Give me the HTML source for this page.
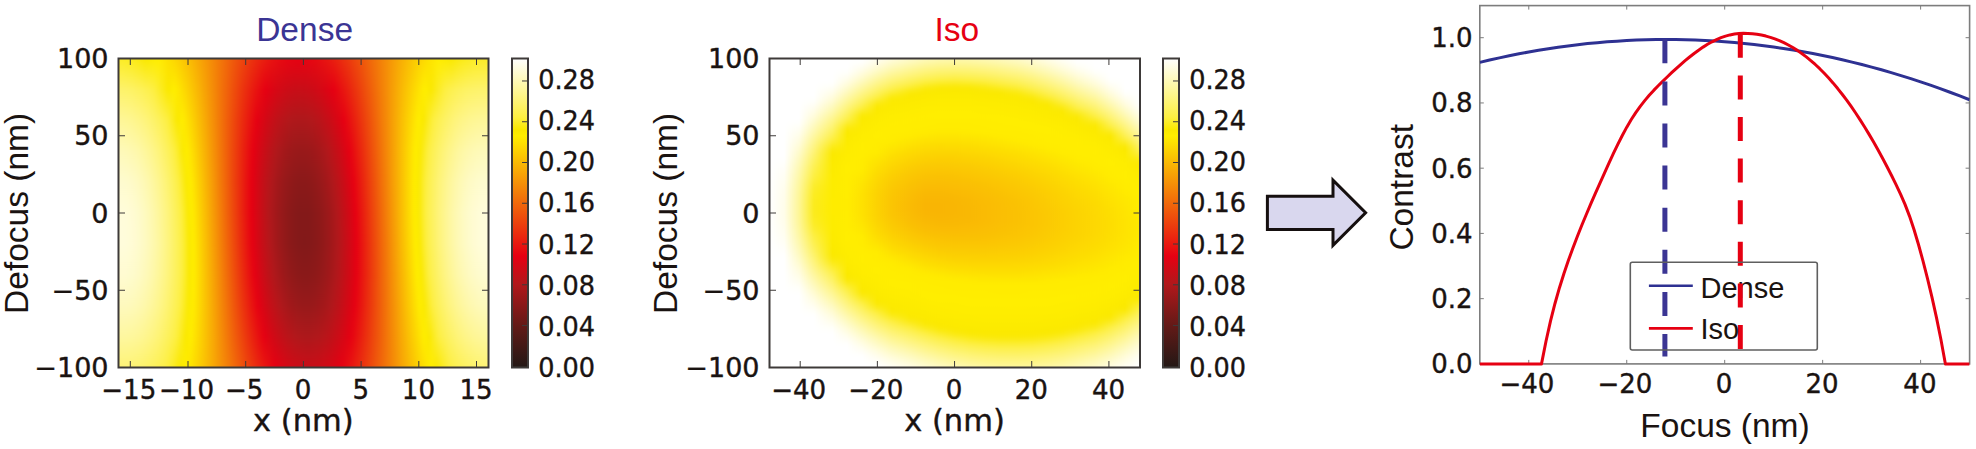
<!DOCTYPE html>
<html><head><meta charset="utf-8"><title>Dense / Iso aerial image through focus</title>
<style>
html,body{margin:0;padding:0;background:#fff}
svg{display:block}
.tk{font-family:"DejaVu Sans","Liberation Sans",sans-serif;font-size:27px;fill:#1a1311}
.tkx{font-family:"DejaVu Sans","Liberation Sans",sans-serif;font-size:26.1px;fill:#1a1311}
.tkc{font-family:"DejaVu Sans","Liberation Sans",sans-serif;font-size:27px;fill:#1a1311}
.tk2{font-family:"DejaVu Sans","Liberation Sans",sans-serif;font-size:26px;fill:#1a1311}
.xl{font-family:"DejaVu Sans","Liberation Sans",sans-serif;font-size:30.5px;fill:#1a1311}
.ar{font-family:"Liberation Sans",Arial,Helvetica,sans-serif;font-size:33.5px;fill:#1a1311}
.lg{font-family:"Liberation Sans",Arial,Helvetica,sans-serif;font-size:29px;fill:#1a1311}
.tk,.tkx,.tkc,.tk2,.xl{stroke:#1a1311;stroke-width:.4px;stroke-linejoin:round}
</style></head><body>
<svg width="1976" height="449" viewBox="0 0 1976 449">
<defs><filter id="bx" x="-5%" y="-5%" width="110%" height="110%" color-interpolation-filters="sRGB"><feGaussianBlur stdDeviation="1.5 0"/></filter>
<filter id="by" x="-5%" y="-5%" width="110%" height="110%" color-interpolation-filters="sRGB"><feGaussianBlur stdDeviation="0 2.5"/></filter>
<linearGradient id="d0" x1="0" y1="0" x2="0" y2="1"><stop offset="0" stop-color="#fcec28"/><stop offset="0.1" stop-color="#fdf26b"/><stop offset="0.2" stop-color="#fef698"/><stop offset="0.3" stop-color="#fef9b9"/><stop offset="0.4" stop-color="#fefbcf"/><stop offset="0.5" stop-color="#fffcda"/><stop offset="0.6" stop-color="#fffcda"/><stop offset="0.7" stop-color="#fefbcf"/><stop offset="0.8" stop-color="#fef9bb"/><stop offset="0.9" stop-color="#fef79c"/><stop offset="1" stop-color="#fef373"/></linearGradient>
<linearGradient id="d1" x1="0" y1="0" x2="0" y2="1"><stop offset="0" stop-color="#fcec28"/><stop offset="0.1" stop-color="#fdf26b"/><stop offset="0.2" stop-color="#fef698"/><stop offset="0.3" stop-color="#fef9b9"/><stop offset="0.4" stop-color="#fefbcf"/><stop offset="0.5" stop-color="#fffcda"/><stop offset="0.6" stop-color="#fffcdb"/><stop offset="0.7" stop-color="#fffbd0"/><stop offset="0.8" stop-color="#fef9bc"/><stop offset="0.9" stop-color="#fef79d"/><stop offset="1" stop-color="#fef374"/></linearGradient>
<linearGradient id="d2" x1="0" y1="0" x2="0" y2="1"><stop offset="0" stop-color="#fcec27"/><stop offset="0.1" stop-color="#fdf26b"/><stop offset="0.2" stop-color="#fef698"/><stop offset="0.3" stop-color="#fef9b9"/><stop offset="0.4" stop-color="#fefbcf"/><stop offset="0.5" stop-color="#fffcdb"/><stop offset="0.6" stop-color="#fffcdb"/><stop offset="0.7" stop-color="#fffbd1"/><stop offset="0.8" stop-color="#fef9bd"/><stop offset="0.9" stop-color="#fef79e"/><stop offset="1" stop-color="#fef375"/></linearGradient>
<linearGradient id="d3" x1="0" y1="0" x2="0" y2="1"><stop offset="0" stop-color="#fcec26"/><stop offset="0.1" stop-color="#fdf26b"/><stop offset="0.2" stop-color="#fef697"/><stop offset="0.3" stop-color="#fef9b9"/><stop offset="0.4" stop-color="#fefbcf"/><stop offset="0.5" stop-color="#fffcdb"/><stop offset="0.6" stop-color="#fffcdb"/><stop offset="0.7" stop-color="#fffbd1"/><stop offset="0.8" stop-color="#fef9bd"/><stop offset="0.9" stop-color="#fef79f"/><stop offset="1" stop-color="#fef376"/></linearGradient>
<linearGradient id="d4" x1="0" y1="0" x2="0" y2="1"><stop offset="0" stop-color="#fcec25"/><stop offset="0.1" stop-color="#fdf26a"/><stop offset="0.2" stop-color="#fef697"/><stop offset="0.3" stop-color="#fef9b8"/><stop offset="0.4" stop-color="#fefbcf"/><stop offset="0.5" stop-color="#fffcda"/><stop offset="0.6" stop-color="#fffcdb"/><stop offset="0.7" stop-color="#fffbd1"/><stop offset="0.8" stop-color="#fef9bd"/><stop offset="0.9" stop-color="#fef79f"/><stop offset="1" stop-color="#fef376"/></linearGradient>
<linearGradient id="d5" x1="0" y1="0" x2="0" y2="1"><stop offset="0" stop-color="#fcec24"/><stop offset="0.1" stop-color="#fdf269"/><stop offset="0.2" stop-color="#fef696"/><stop offset="0.3" stop-color="#fef9b8"/><stop offset="0.4" stop-color="#fefbce"/><stop offset="0.5" stop-color="#fffcda"/><stop offset="0.6" stop-color="#fffcdb"/><stop offset="0.7" stop-color="#fffbd1"/><stop offset="0.8" stop-color="#fef9bd"/><stop offset="0.9" stop-color="#fef79f"/><stop offset="1" stop-color="#fef376"/></linearGradient>
<linearGradient id="d6" x1="0" y1="0" x2="0" y2="1"><stop offset="0" stop-color="#fcec22"/><stop offset="0.1" stop-color="#fdf268"/><stop offset="0.2" stop-color="#fef695"/><stop offset="0.3" stop-color="#fef9b6"/><stop offset="0.4" stop-color="#fefbcd"/><stop offset="0.5" stop-color="#fffcd9"/><stop offset="0.6" stop-color="#fffcda"/><stop offset="0.7" stop-color="#fffbd1"/><stop offset="0.8" stop-color="#fef9bd"/><stop offset="0.9" stop-color="#fef79f"/><stop offset="1" stop-color="#fef376"/></linearGradient>
<linearGradient id="d7" x1="0" y1="0" x2="0" y2="1"><stop offset="0" stop-color="#fbeb20"/><stop offset="0.1" stop-color="#fdf267"/><stop offset="0.2" stop-color="#fef693"/><stop offset="0.3" stop-color="#fef9b5"/><stop offset="0.4" stop-color="#fefbcc"/><stop offset="0.5" stop-color="#fffcd8"/><stop offset="0.6" stop-color="#fffcd9"/><stop offset="0.7" stop-color="#fefbd0"/><stop offset="0.8" stop-color="#fef9bc"/><stop offset="0.9" stop-color="#fef79e"/><stop offset="1" stop-color="#fef376"/></linearGradient>
<linearGradient id="d8" x1="0" y1="0" x2="0" y2="1"><stop offset="0" stop-color="#fbeb1e"/><stop offset="0.1" stop-color="#fdf265"/><stop offset="0.2" stop-color="#fef692"/><stop offset="0.3" stop-color="#fef9b3"/><stop offset="0.4" stop-color="#fefbca"/><stop offset="0.5" stop-color="#fffcd6"/><stop offset="0.6" stop-color="#fffcd7"/><stop offset="0.7" stop-color="#fefbce"/><stop offset="0.8" stop-color="#fef9bb"/><stop offset="0.9" stop-color="#fef79d"/><stop offset="1" stop-color="#fef375"/></linearGradient>
<linearGradient id="d9" x1="0" y1="0" x2="0" y2="1"><stop offset="0" stop-color="#fbeb1b"/><stop offset="0.1" stop-color="#fdf264"/><stop offset="0.2" stop-color="#fef690"/><stop offset="0.3" stop-color="#fef8b1"/><stop offset="0.4" stop-color="#fefac8"/><stop offset="0.5" stop-color="#fffbd4"/><stop offset="0.6" stop-color="#fffcd6"/><stop offset="0.7" stop-color="#fefbcd"/><stop offset="0.8" stop-color="#fef9ba"/><stop offset="0.9" stop-color="#fef79c"/><stop offset="1" stop-color="#fef374"/></linearGradient>
<linearGradient id="d10" x1="0" y1="0" x2="0" y2="1"><stop offset="0" stop-color="#fbeb18"/><stop offset="0.1" stop-color="#fdf262"/><stop offset="0.2" stop-color="#fef58e"/><stop offset="0.3" stop-color="#fef8af"/><stop offset="0.4" stop-color="#fefac6"/><stop offset="0.5" stop-color="#fffbd2"/><stop offset="0.6" stop-color="#fffbd4"/><stop offset="0.7" stop-color="#fefbcb"/><stop offset="0.8" stop-color="#fef9b8"/><stop offset="0.9" stop-color="#fef79b"/><stop offset="1" stop-color="#fef373"/></linearGradient>
<linearGradient id="d11" x1="0" y1="0" x2="0" y2="1"><stop offset="0" stop-color="#fbea15"/><stop offset="0.1" stop-color="#fdf15f"/><stop offset="0.2" stop-color="#fef58b"/><stop offset="0.3" stop-color="#fef8ad"/><stop offset="0.4" stop-color="#fefac3"/><stop offset="0.5" stop-color="#fefbd0"/><stop offset="0.6" stop-color="#fffbd1"/><stop offset="0.7" stop-color="#fefac9"/><stop offset="0.8" stop-color="#fef9b6"/><stop offset="0.9" stop-color="#fef69a"/><stop offset="1" stop-color="#fef372"/></linearGradient>
<linearGradient id="d12" x1="0" y1="0" x2="0" y2="1"><stop offset="0" stop-color="#fbea11"/><stop offset="0.1" stop-color="#fdf15d"/><stop offset="0.2" stop-color="#fef588"/><stop offset="0.3" stop-color="#fef8aa"/><stop offset="0.4" stop-color="#fefac1"/><stop offset="0.5" stop-color="#fefbcd"/><stop offset="0.6" stop-color="#fefbcf"/><stop offset="0.7" stop-color="#fefac7"/><stop offset="0.8" stop-color="#fef9b4"/><stop offset="0.9" stop-color="#fef698"/><stop offset="1" stop-color="#fdf371"/></linearGradient>
<linearGradient id="d13" x1="0" y1="0" x2="0" y2="1"><stop offset="0" stop-color="#fbe90d"/><stop offset="0.1" stop-color="#fdf15a"/><stop offset="0.2" stop-color="#fef586"/><stop offset="0.3" stop-color="#fef8a7"/><stop offset="0.4" stop-color="#fef9bd"/><stop offset="0.5" stop-color="#fefaca"/><stop offset="0.6" stop-color="#fefbcc"/><stop offset="0.7" stop-color="#fefac4"/><stop offset="0.8" stop-color="#fef8b2"/><stop offset="0.9" stop-color="#fef696"/><stop offset="1" stop-color="#fdf36f"/></linearGradient>
<linearGradient id="d14" x1="0" y1="0" x2="0" y2="1"><stop offset="0" stop-color="#fae909"/><stop offset="0.1" stop-color="#fdf158"/><stop offset="0.2" stop-color="#fef482"/><stop offset="0.3" stop-color="#fef7a3"/><stop offset="0.4" stop-color="#fef9ba"/><stop offset="0.5" stop-color="#fefac6"/><stop offset="0.6" stop-color="#fefac8"/><stop offset="0.7" stop-color="#fefac1"/><stop offset="0.8" stop-color="#fef8af"/><stop offset="0.9" stop-color="#fef693"/><stop offset="1" stop-color="#fdf36d"/></linearGradient>
<linearGradient id="d15" x1="0" y1="0" x2="0" y2="1"><stop offset="0" stop-color="#fae804"/><stop offset="0.1" stop-color="#fdf155"/><stop offset="0.2" stop-color="#fef47f"/><stop offset="0.3" stop-color="#fef79f"/><stop offset="0.4" stop-color="#fef9b6"/><stop offset="0.5" stop-color="#fefac2"/><stop offset="0.6" stop-color="#fefac5"/><stop offset="0.7" stop-color="#fef9bd"/><stop offset="0.8" stop-color="#fef8ac"/><stop offset="0.9" stop-color="#fef691"/><stop offset="1" stop-color="#fdf26b"/></linearGradient>
<linearGradient id="d16" x1="0" y1="0" x2="0" y2="1"><stop offset="0" stop-color="#fae800"/><stop offset="0.1" stop-color="#fdf051"/><stop offset="0.2" stop-color="#fef47b"/><stop offset="0.3" stop-color="#fef79b"/><stop offset="0.4" stop-color="#fef8b2"/><stop offset="0.5" stop-color="#fefabe"/><stop offset="0.6" stop-color="#fefac1"/><stop offset="0.7" stop-color="#fef9ba"/><stop offset="0.8" stop-color="#fef8a9"/><stop offset="0.9" stop-color="#fef58e"/><stop offset="1" stop-color="#fdf269"/></linearGradient>
<linearGradient id="d17" x1="0" y1="0" x2="0" y2="1"><stop offset="0" stop-color="#fbe900"/><stop offset="0.1" stop-color="#fdf04e"/><stop offset="0.2" stop-color="#fef477"/><stop offset="0.3" stop-color="#fef697"/><stop offset="0.4" stop-color="#fef8ae"/><stop offset="0.5" stop-color="#fef9ba"/><stop offset="0.6" stop-color="#fef9bd"/><stop offset="0.7" stop-color="#fef9b6"/><stop offset="0.8" stop-color="#fef7a5"/><stop offset="0.9" stop-color="#fef58b"/><stop offset="1" stop-color="#fdf266"/></linearGradient>
<linearGradient id="d18" x1="0" y1="0" x2="0" y2="1"><stop offset="0" stop-color="#fbea00"/><stop offset="0.1" stop-color="#fdf04a"/><stop offset="0.2" stop-color="#fef373"/><stop offset="0.3" stop-color="#fef693"/><stop offset="0.4" stop-color="#fef8a9"/><stop offset="0.5" stop-color="#fef9b5"/><stop offset="0.6" stop-color="#fef9b8"/><stop offset="0.7" stop-color="#fef8b2"/><stop offset="0.8" stop-color="#fef7a1"/><stop offset="0.9" stop-color="#fef587"/><stop offset="1" stop-color="#fdf263"/></linearGradient>
<linearGradient id="d19" x1="0" y1="0" x2="0" y2="1"><stop offset="0" stop-color="#fceb00"/><stop offset="0.1" stop-color="#fdef46"/><stop offset="0.2" stop-color="#fdf36e"/><stop offset="0.3" stop-color="#fef58e"/><stop offset="0.4" stop-color="#fef7a4"/><stop offset="0.5" stop-color="#fef8b0"/><stop offset="0.6" stop-color="#fef9b3"/><stop offset="0.7" stop-color="#fef8ad"/><stop offset="0.8" stop-color="#fef79d"/><stop offset="0.9" stop-color="#fef584"/><stop offset="1" stop-color="#fdf260"/></linearGradient>
<linearGradient id="d20" x1="0" y1="0" x2="0" y2="1"><stop offset="0" stop-color="#fdec00"/><stop offset="0.1" stop-color="#fdef42"/><stop offset="0.2" stop-color="#fdf26a"/><stop offset="0.3" stop-color="#fef589"/><stop offset="0.4" stop-color="#fef79e"/><stop offset="0.5" stop-color="#fef8ab"/><stop offset="0.6" stop-color="#fef8ae"/><stop offset="0.7" stop-color="#fef8a8"/><stop offset="0.8" stop-color="#fef699"/><stop offset="0.9" stop-color="#fef480"/><stop offset="1" stop-color="#fdf15d"/></linearGradient>
<linearGradient id="d21" x1="0" y1="0" x2="0" y2="1"><stop offset="0" stop-color="#feed00"/><stop offset="0.1" stop-color="#fdee3a"/><stop offset="0.2" stop-color="#fdf265"/><stop offset="0.3" stop-color="#fef583"/><stop offset="0.4" stop-color="#fef699"/><stop offset="0.5" stop-color="#fef7a5"/><stop offset="0.6" stop-color="#fef8a9"/><stop offset="0.7" stop-color="#fef7a3"/><stop offset="0.8" stop-color="#fef694"/><stop offset="0.9" stop-color="#fef47c"/><stop offset="1" stop-color="#fdf15a"/></linearGradient>
<linearGradient id="d22" x1="0" y1="0" x2="0" y2="1"><stop offset="0" stop-color="#ffee00"/><stop offset="0.1" stop-color="#fced31"/><stop offset="0.2" stop-color="#fdf15f"/><stop offset="0.3" stop-color="#fef47e"/><stop offset="0.4" stop-color="#fef693"/><stop offset="0.5" stop-color="#fef79f"/><stop offset="0.6" stop-color="#fef7a3"/><stop offset="0.7" stop-color="#fef79d"/><stop offset="0.8" stop-color="#fef68f"/><stop offset="0.9" stop-color="#fef477"/><stop offset="1" stop-color="#fdf156"/></linearGradient>
<linearGradient id="d23" x1="0" y1="0" x2="0" y2="1"><stop offset="0" stop-color="#ffec00"/><stop offset="0.1" stop-color="#fcec28"/><stop offset="0.2" stop-color="#fdf15a"/><stop offset="0.3" stop-color="#fef478"/><stop offset="0.4" stop-color="#fef58d"/><stop offset="0.5" stop-color="#fef699"/><stop offset="0.6" stop-color="#fef79d"/><stop offset="0.7" stop-color="#fef698"/><stop offset="0.8" stop-color="#fef58a"/><stop offset="0.9" stop-color="#fef373"/><stop offset="1" stop-color="#fdf052"/></linearGradient>
<linearGradient id="d24" x1="0" y1="0" x2="0" y2="1"><stop offset="0" stop-color="#ffea00"/><stop offset="0.1" stop-color="#fbeb1f"/><stop offset="0.2" stop-color="#fdf154"/><stop offset="0.3" stop-color="#fef371"/><stop offset="0.4" stop-color="#fef586"/><stop offset="0.5" stop-color="#fef692"/><stop offset="0.6" stop-color="#fef696"/><stop offset="0.7" stop-color="#fef691"/><stop offset="0.8" stop-color="#fef584"/><stop offset="0.9" stop-color="#fdf36e"/><stop offset="1" stop-color="#fdf04e"/></linearGradient>
<linearGradient id="d25" x1="0" y1="0" x2="0" y2="1"><stop offset="0" stop-color="#fee701"/><stop offset="0.1" stop-color="#fbea16"/><stop offset="0.2" stop-color="#fdf04e"/><stop offset="0.3" stop-color="#fdf26b"/><stop offset="0.4" stop-color="#fef47f"/><stop offset="0.5" stop-color="#fef58b"/><stop offset="0.6" stop-color="#fef68f"/><stop offset="0.7" stop-color="#fef58b"/><stop offset="0.8" stop-color="#fef47e"/><stop offset="0.9" stop-color="#fdf268"/><stop offset="1" stop-color="#fdf04a"/></linearGradient>
<linearGradient id="d26" x1="0" y1="0" x2="0" y2="1"><stop offset="0" stop-color="#fee401"/><stop offset="0.1" stop-color="#fbe90c"/><stop offset="0.2" stop-color="#fdef48"/><stop offset="0.3" stop-color="#fdf264"/><stop offset="0.4" stop-color="#fef478"/><stop offset="0.5" stop-color="#fef584"/><stop offset="0.6" stop-color="#fef588"/><stop offset="0.7" stop-color="#fef584"/><stop offset="0.8" stop-color="#fef478"/><stop offset="0.9" stop-color="#fdf263"/><stop offset="1" stop-color="#fdef45"/></linearGradient>
<linearGradient id="d27" x1="0" y1="0" x2="0" y2="1"><stop offset="0" stop-color="#fee101"/><stop offset="0.1" stop-color="#fae801"/><stop offset="0.2" stop-color="#fdef41"/><stop offset="0.3" stop-color="#fdf15d"/><stop offset="0.4" stop-color="#fdf371"/><stop offset="0.5" stop-color="#fef47d"/><stop offset="0.6" stop-color="#fef481"/><stop offset="0.7" stop-color="#fef47d"/><stop offset="0.8" stop-color="#fef371"/><stop offset="0.9" stop-color="#fdf15d"/><stop offset="1" stop-color="#fdef3f"/></linearGradient>
<linearGradient id="d28" x1="0" y1="0" x2="0" y2="1"><stop offset="0" stop-color="#fdde01"/><stop offset="0.1" stop-color="#fbe900"/><stop offset="0.2" stop-color="#fcee34"/><stop offset="0.3" stop-color="#fdf155"/><stop offset="0.4" stop-color="#fdf269"/><stop offset="0.5" stop-color="#fef375"/><stop offset="0.6" stop-color="#fef479"/><stop offset="0.7" stop-color="#fef376"/><stop offset="0.8" stop-color="#fdf26b"/><stop offset="0.9" stop-color="#fdf157"/><stop offset="1" stop-color="#fcee35"/></linearGradient>
<linearGradient id="d29" x1="0" y1="0" x2="0" y2="1"><stop offset="0" stop-color="#fddb01"/><stop offset="0.1" stop-color="#fdeb00"/><stop offset="0.2" stop-color="#fcec28"/><stop offset="0.3" stop-color="#fdf04e"/><stop offset="0.4" stop-color="#fdf261"/><stop offset="0.5" stop-color="#fdf36d"/><stop offset="0.6" stop-color="#fdf371"/><stop offset="0.7" stop-color="#fdf36e"/><stop offset="0.8" stop-color="#fdf264"/><stop offset="0.9" stop-color="#fdf051"/><stop offset="1" stop-color="#fced2c"/></linearGradient>
<linearGradient id="d30" x1="0" y1="0" x2="0" y2="1"><stop offset="0" stop-color="#fdd802"/><stop offset="0.1" stop-color="#feed00"/><stop offset="0.2" stop-color="#fbeb1a"/><stop offset="0.3" stop-color="#fdef46"/><stop offset="0.4" stop-color="#fdf159"/><stop offset="0.5" stop-color="#fdf264"/><stop offset="0.6" stop-color="#fdf269"/><stop offset="0.7" stop-color="#fdf266"/><stop offset="0.8" stop-color="#fdf15c"/><stop offset="0.9" stop-color="#fdf04b"/><stop offset="1" stop-color="#fcec22"/></linearGradient>
<linearGradient id="d31" x1="0" y1="0" x2="0" y2="1"><stop offset="0" stop-color="#fcd502"/><stop offset="0.1" stop-color="#ffec00"/><stop offset="0.2" stop-color="#fbe90c"/><stop offset="0.3" stop-color="#fdee3a"/><stop offset="0.4" stop-color="#fdf050"/><stop offset="0.5" stop-color="#fdf15c"/><stop offset="0.6" stop-color="#fdf260"/><stop offset="0.7" stop-color="#fdf15e"/><stop offset="0.8" stop-color="#fdf155"/><stop offset="0.9" stop-color="#fdef44"/><stop offset="1" stop-color="#fbea17"/></linearGradient>
<linearGradient id="d32" x1="0" y1="0" x2="0" y2="1"><stop offset="0" stop-color="#fcd102"/><stop offset="0.1" stop-color="#fee800"/><stop offset="0.2" stop-color="#fae800"/><stop offset="0.3" stop-color="#fced2b"/><stop offset="0.4" stop-color="#fdef47"/><stop offset="0.5" stop-color="#fdf053"/><stop offset="0.6" stop-color="#fdf158"/><stop offset="0.7" stop-color="#fdf156"/><stop offset="0.8" stop-color="#fdf04d"/><stop offset="0.9" stop-color="#fdee38"/><stop offset="1" stop-color="#fbe90c"/></linearGradient>
<linearGradient id="d33" x1="0" y1="0" x2="0" y2="1"><stop offset="0" stop-color="#fcce02"/><stop offset="0.1" stop-color="#fee401"/><stop offset="0.2" stop-color="#fcea00"/><stop offset="0.3" stop-color="#fbeb1b"/><stop offset="0.4" stop-color="#fdee3b"/><stop offset="0.5" stop-color="#fdf049"/><stop offset="0.6" stop-color="#fdf04e"/><stop offset="0.7" stop-color="#fdf04d"/><stop offset="0.8" stop-color="#fdef45"/><stop offset="0.9" stop-color="#fced2b"/><stop offset="1" stop-color="#fae801"/></linearGradient>
<linearGradient id="d34" x1="0" y1="0" x2="0" y2="1"><stop offset="0" stop-color="#fbca03"/><stop offset="0.1" stop-color="#fddf01"/><stop offset="0.2" stop-color="#feed00"/><stop offset="0.3" stop-color="#fae90a"/><stop offset="0.4" stop-color="#fcec2a"/><stop offset="0.5" stop-color="#fdef3e"/><stop offset="0.6" stop-color="#fdef45"/><stop offset="0.7" stop-color="#fdef44"/><stop offset="0.8" stop-color="#fdee38"/><stop offset="0.9" stop-color="#fbeb1d"/><stop offset="1" stop-color="#fbea00"/></linearGradient>
<linearGradient id="d35" x1="0" y1="0" x2="0" y2="1"><stop offset="0" stop-color="#fbc703"/><stop offset="0.1" stop-color="#fdda01"/><stop offset="0.2" stop-color="#ffeb00"/><stop offset="0.3" stop-color="#fbe900"/><stop offset="0.4" stop-color="#fbeb18"/><stop offset="0.5" stop-color="#fced2c"/><stop offset="0.6" stop-color="#fcee36"/><stop offset="0.7" stop-color="#fcee35"/><stop offset="0.8" stop-color="#fcec28"/><stop offset="0.9" stop-color="#fbea0f"/><stop offset="1" stop-color="#fdeb00"/></linearGradient>
<linearGradient id="d36" x1="0" y1="0" x2="0" y2="1"><stop offset="0" stop-color="#fac303"/><stop offset="0.1" stop-color="#fcd602"/><stop offset="0.2" stop-color="#fee601"/><stop offset="0.3" stop-color="#fdec00"/><stop offset="0.4" stop-color="#fae906"/><stop offset="0.5" stop-color="#fbeb1a"/><stop offset="0.6" stop-color="#fcec23"/><stop offset="0.7" stop-color="#fcec23"/><stop offset="0.8" stop-color="#fbeb18"/><stop offset="0.9" stop-color="#fae801"/><stop offset="1" stop-color="#feed00"/></linearGradient>
<linearGradient id="d37" x1="0" y1="0" x2="0" y2="1"><stop offset="0" stop-color="#fabf04"/><stop offset="0.1" stop-color="#fcd102"/><stop offset="0.2" stop-color="#fee001"/><stop offset="0.3" stop-color="#ffed00"/><stop offset="0.4" stop-color="#fcea00"/><stop offset="0.5" stop-color="#fae907"/><stop offset="0.6" stop-color="#fbea10"/><stop offset="0.7" stop-color="#fbea11"/><stop offset="0.8" stop-color="#fae907"/><stop offset="0.9" stop-color="#fcea00"/><stop offset="1" stop-color="#ffeb00"/></linearGradient>
<linearGradient id="d38" x1="0" y1="0" x2="0" y2="1"><stop offset="0" stop-color="#fabb04"/><stop offset="0.1" stop-color="#fbcc03"/><stop offset="0.2" stop-color="#fddb01"/><stop offset="0.3" stop-color="#fee701"/><stop offset="0.4" stop-color="#feed00"/><stop offset="0.5" stop-color="#fcea00"/><stop offset="0.6" stop-color="#fae800"/><stop offset="0.7" stop-color="#fae800"/><stop offset="0.8" stop-color="#fbea00"/><stop offset="0.9" stop-color="#feed00"/><stop offset="1" stop-color="#fee701"/></linearGradient>
<linearGradient id="d39" x1="0" y1="0" x2="0" y2="1"><stop offset="0" stop-color="#f9b704"/><stop offset="0.1" stop-color="#fbc703"/><stop offset="0.2" stop-color="#fcd502"/><stop offset="0.3" stop-color="#fee001"/><stop offset="0.4" stop-color="#ffea00"/><stop offset="0.5" stop-color="#feed00"/><stop offset="0.6" stop-color="#fdeb00"/><stop offset="0.7" stop-color="#fdeb00"/><stop offset="0.8" stop-color="#feec00"/><stop offset="0.9" stop-color="#ffec00"/><stop offset="1" stop-color="#fee201"/></linearGradient>
<linearGradient id="d40" x1="0" y1="0" x2="0" y2="1"><stop offset="0" stop-color="#f9b304"/><stop offset="0.1" stop-color="#fac203"/><stop offset="0.2" stop-color="#fccf02"/><stop offset="0.3" stop-color="#fdda02"/><stop offset="0.4" stop-color="#fee301"/><stop offset="0.5" stop-color="#fee900"/><stop offset="0.6" stop-color="#ffed00"/><stop offset="0.7" stop-color="#ffee00"/><stop offset="0.8" stop-color="#ffec00"/><stop offset="0.9" stop-color="#fee601"/><stop offset="1" stop-color="#fddd01"/></linearGradient>
<linearGradient id="d41" x1="0" y1="0" x2="0" y2="1"><stop offset="0" stop-color="#f8af05"/><stop offset="0.1" stop-color="#fabc04"/><stop offset="0.2" stop-color="#fbc903"/><stop offset="0.3" stop-color="#fcd302"/><stop offset="0.4" stop-color="#fddc01"/><stop offset="0.5" stop-color="#fee201"/><stop offset="0.6" stop-color="#fee601"/><stop offset="0.7" stop-color="#fee701"/><stop offset="0.8" stop-color="#fee501"/><stop offset="0.9" stop-color="#fee001"/><stop offset="1" stop-color="#fdd802"/></linearGradient>
<linearGradient id="d42" x1="0" y1="0" x2="0" y2="1"><stop offset="0" stop-color="#f8aa05"/><stop offset="0.1" stop-color="#f9b704"/><stop offset="0.2" stop-color="#fac203"/><stop offset="0.3" stop-color="#fbcc03"/><stop offset="0.4" stop-color="#fcd402"/><stop offset="0.5" stop-color="#fdda01"/><stop offset="0.6" stop-color="#fdde01"/><stop offset="0.7" stop-color="#fee001"/><stop offset="0.8" stop-color="#fddf01"/><stop offset="0.9" stop-color="#fddb01"/><stop offset="1" stop-color="#fcd302"/></linearGradient>
<linearGradient id="d43" x1="0" y1="0" x2="0" y2="1"><stop offset="0" stop-color="#f7a605"/><stop offset="0.1" stop-color="#f9b205"/><stop offset="0.2" stop-color="#fabc04"/><stop offset="0.3" stop-color="#fbc503"/><stop offset="0.4" stop-color="#fccd02"/><stop offset="0.5" stop-color="#fcd302"/><stop offset="0.6" stop-color="#fdd702"/><stop offset="0.7" stop-color="#fdd902"/><stop offset="0.8" stop-color="#fdd802"/><stop offset="0.9" stop-color="#fcd502"/><stop offset="1" stop-color="#fcce02"/></linearGradient>
<linearGradient id="d44" x1="0" y1="0" x2="0" y2="1"><stop offset="0" stop-color="#f7a206"/><stop offset="0.1" stop-color="#f8ac05"/><stop offset="0.2" stop-color="#f9b604"/><stop offset="0.3" stop-color="#fabe04"/><stop offset="0.4" stop-color="#fbc603"/><stop offset="0.5" stop-color="#fbcb03"/><stop offset="0.6" stop-color="#fccf02"/><stop offset="0.7" stop-color="#fcd102"/><stop offset="0.8" stop-color="#fcd102"/><stop offset="0.9" stop-color="#fcce02"/><stop offset="1" stop-color="#fbc903"/></linearGradient>
<linearGradient id="d45" x1="0" y1="0" x2="0" y2="1"><stop offset="0" stop-color="#f79d06"/><stop offset="0.1" stop-color="#f7a605"/><stop offset="0.2" stop-color="#f8af05"/><stop offset="0.3" stop-color="#f9b704"/><stop offset="0.4" stop-color="#fabe04"/><stop offset="0.5" stop-color="#fbc303"/><stop offset="0.6" stop-color="#fbc703"/><stop offset="0.7" stop-color="#fbca03"/><stop offset="0.8" stop-color="#fbca03"/><stop offset="0.9" stop-color="#fbc803"/><stop offset="1" stop-color="#fbc403"/></linearGradient>
<linearGradient id="d46" x1="0" y1="0" x2="0" y2="1"><stop offset="0" stop-color="#f69906"/><stop offset="0.1" stop-color="#f7a106"/><stop offset="0.2" stop-color="#f8a905"/><stop offset="0.3" stop-color="#f8b005"/><stop offset="0.4" stop-color="#f9b604"/><stop offset="0.5" stop-color="#fabc04"/><stop offset="0.6" stop-color="#fac004"/><stop offset="0.7" stop-color="#fac203"/><stop offset="0.8" stop-color="#fac303"/><stop offset="0.9" stop-color="#fac203"/><stop offset="1" stop-color="#fabe04"/></linearGradient>
<linearGradient id="d47" x1="0" y1="0" x2="0" y2="1"><stop offset="0" stop-color="#f69507"/><stop offset="0.1" stop-color="#f69b06"/><stop offset="0.2" stop-color="#f7a206"/><stop offset="0.3" stop-color="#f8a905"/><stop offset="0.4" stop-color="#f8af05"/><stop offset="0.5" stop-color="#f9b404"/><stop offset="0.6" stop-color="#f9b804"/><stop offset="0.7" stop-color="#faba04"/><stop offset="0.8" stop-color="#fabc04"/><stop offset="0.9" stop-color="#fabb04"/><stop offset="1" stop-color="#f9b904"/></linearGradient>
<linearGradient id="d48" x1="0" y1="0" x2="0" y2="1"><stop offset="0" stop-color="#f59007"/><stop offset="0.1" stop-color="#f69507"/><stop offset="0.2" stop-color="#f69b06"/><stop offset="0.3" stop-color="#f7a106"/><stop offset="0.4" stop-color="#f8a705"/><stop offset="0.5" stop-color="#f8ac05"/><stop offset="0.6" stop-color="#f8b005"/><stop offset="0.7" stop-color="#f9b304"/><stop offset="0.8" stop-color="#f9b504"/><stop offset="0.9" stop-color="#f9b504"/><stop offset="1" stop-color="#f9b304"/></linearGradient>
<linearGradient id="d49" x1="0" y1="0" x2="0" y2="1"><stop offset="0" stop-color="#f58b07"/><stop offset="0.1" stop-color="#f59007"/><stop offset="0.2" stop-color="#f69407"/><stop offset="0.3" stop-color="#f69a06"/><stop offset="0.4" stop-color="#f79f06"/><stop offset="0.5" stop-color="#f7a306"/><stop offset="0.6" stop-color="#f8a705"/><stop offset="0.7" stop-color="#f8ab05"/><stop offset="0.8" stop-color="#f8ad05"/><stop offset="0.9" stop-color="#f8ae05"/><stop offset="1" stop-color="#f8ae05"/></linearGradient>
<linearGradient id="d50" x1="0" y1="0" x2="0" y2="1"><stop offset="0" stop-color="#f48708"/><stop offset="0.1" stop-color="#f48a08"/><stop offset="0.2" stop-color="#f58e07"/><stop offset="0.3" stop-color="#f59207"/><stop offset="0.4" stop-color="#f69707"/><stop offset="0.5" stop-color="#f69b06"/><stop offset="0.6" stop-color="#f79f06"/><stop offset="0.7" stop-color="#f7a306"/><stop offset="0.8" stop-color="#f7a605"/><stop offset="0.9" stop-color="#f8a805"/><stop offset="1" stop-color="#f8a805"/></linearGradient>
<linearGradient id="d51" x1="0" y1="0" x2="0" y2="1"><stop offset="0" stop-color="#f48208"/><stop offset="0.1" stop-color="#f48408"/><stop offset="0.2" stop-color="#f48708"/><stop offset="0.3" stop-color="#f58b08"/><stop offset="0.4" stop-color="#f58f07"/><stop offset="0.5" stop-color="#f59307"/><stop offset="0.6" stop-color="#f69707"/><stop offset="0.7" stop-color="#f69b06"/><stop offset="0.8" stop-color="#f79e06"/><stop offset="0.9" stop-color="#f7a106"/><stop offset="1" stop-color="#f7a206"/></linearGradient>
<linearGradient id="d52" x1="0" y1="0" x2="0" y2="1"><stop offset="0" stop-color="#f37e08"/><stop offset="0.1" stop-color="#f37e08"/><stop offset="0.2" stop-color="#f38008"/><stop offset="0.3" stop-color="#f48308"/><stop offset="0.4" stop-color="#f48708"/><stop offset="0.5" stop-color="#f58b08"/><stop offset="0.6" stop-color="#f58f07"/><stop offset="0.7" stop-color="#f59307"/><stop offset="0.8" stop-color="#f69707"/><stop offset="0.9" stop-color="#f69a06"/><stop offset="1" stop-color="#f69c06"/></linearGradient>
<linearGradient id="d53" x1="0" y1="0" x2="0" y2="1"><stop offset="0" stop-color="#f37909"/><stop offset="0.1" stop-color="#f37809"/><stop offset="0.2" stop-color="#f37909"/><stop offset="0.3" stop-color="#f37b09"/><stop offset="0.4" stop-color="#f37e08"/><stop offset="0.5" stop-color="#f48208"/><stop offset="0.6" stop-color="#f48608"/><stop offset="0.7" stop-color="#f58b08"/><stop offset="0.8" stop-color="#f58f07"/><stop offset="0.9" stop-color="#f59307"/><stop offset="1" stop-color="#f69607"/></linearGradient>
<linearGradient id="d54" x1="0" y1="0" x2="0" y2="1"><stop offset="0" stop-color="#f27409"/><stop offset="0.1" stop-color="#f27209"/><stop offset="0.2" stop-color="#f27209"/><stop offset="0.3" stop-color="#f27409"/><stop offset="0.4" stop-color="#f27609"/><stop offset="0.5" stop-color="#f37a09"/><stop offset="0.6" stop-color="#f37e08"/><stop offset="0.7" stop-color="#f48308"/><stop offset="0.8" stop-color="#f48708"/><stop offset="0.9" stop-color="#f58c07"/><stop offset="1" stop-color="#f59007"/></linearGradient>
<linearGradient id="d55" x1="0" y1="0" x2="0" y2="1"><stop offset="0" stop-color="#f2700a"/><stop offset="0.1" stop-color="#f16c0a"/><stop offset="0.2" stop-color="#f16b0a"/><stop offset="0.3" stop-color="#f16c0a"/><stop offset="0.4" stop-color="#f26e0a"/><stop offset="0.5" stop-color="#f27109"/><stop offset="0.6" stop-color="#f27509"/><stop offset="0.7" stop-color="#f37a09"/><stop offset="0.8" stop-color="#f38008"/><stop offset="0.9" stop-color="#f48508"/><stop offset="1" stop-color="#f58a08"/></linearGradient>
<linearGradient id="d56" x1="0" y1="0" x2="0" y2="1"><stop offset="0" stop-color="#f16b0a"/><stop offset="0.1" stop-color="#f1670a"/><stop offset="0.2" stop-color="#f1640a"/><stop offset="0.3" stop-color="#f1640a"/><stop offset="0.4" stop-color="#f1660a"/><stop offset="0.5" stop-color="#f1690a"/><stop offset="0.6" stop-color="#f16d0a"/><stop offset="0.7" stop-color="#f27209"/><stop offset="0.8" stop-color="#f37809"/><stop offset="0.9" stop-color="#f37e08"/><stop offset="1" stop-color="#f48508"/></linearGradient>
<linearGradient id="d57" x1="0" y1="0" x2="0" y2="1"><stop offset="0" stop-color="#f1670a"/><stop offset="0.1" stop-color="#f0610b"/><stop offset="0.2" stop-color="#f05d0b"/><stop offset="0.3" stop-color="#f05d0b"/><stop offset="0.4" stop-color="#f05e0b"/><stop offset="0.5" stop-color="#f0600b"/><stop offset="0.6" stop-color="#f1640a"/><stop offset="0.7" stop-color="#f16a0a"/><stop offset="0.8" stop-color="#f2700a"/><stop offset="0.9" stop-color="#f37709"/><stop offset="1" stop-color="#f37f08"/></linearGradient>
<linearGradient id="d58" x1="0" y1="0" x2="0" y2="1"><stop offset="0" stop-color="#f0620b"/><stop offset="0.1" stop-color="#f05b0b"/><stop offset="0.2" stop-color="#ef570b"/><stop offset="0.3" stop-color="#ef550c"/><stop offset="0.4" stop-color="#ef560c"/><stop offset="0.5" stop-color="#ef580b"/><stop offset="0.6" stop-color="#f05c0b"/><stop offset="0.7" stop-color="#f0620b"/><stop offset="0.8" stop-color="#f1690a"/><stop offset="0.9" stop-color="#f2700a"/><stop offset="1" stop-color="#f37909"/></linearGradient>
<linearGradient id="d59" x1="0" y1="0" x2="0" y2="1"><stop offset="0" stop-color="#f05d0b"/><stop offset="0.1" stop-color="#ef550c"/><stop offset="0.2" stop-color="#ee500c"/><stop offset="0.3" stop-color="#ee4d0c"/><stop offset="0.4" stop-color="#ee4d0c"/><stop offset="0.5" stop-color="#ee500c"/><stop offset="0.6" stop-color="#ef540c"/><stop offset="0.7" stop-color="#ef5a0b"/><stop offset="0.8" stop-color="#f0610b"/><stop offset="0.9" stop-color="#f1690a"/><stop offset="1" stop-color="#f27309"/></linearGradient>
<linearGradient id="d60" x1="0" y1="0" x2="0" y2="1"><stop offset="0" stop-color="#ef590b"/><stop offset="0.1" stop-color="#ee4f0c"/><stop offset="0.2" stop-color="#ee490c"/><stop offset="0.3" stop-color="#ed460d"/><stop offset="0.4" stop-color="#ed450d"/><stop offset="0.5" stop-color="#ed470d"/><stop offset="0.6" stop-color="#ee4b0c"/><stop offset="0.7" stop-color="#ef510c"/><stop offset="0.8" stop-color="#ef590b"/><stop offset="0.9" stop-color="#f0620b"/><stop offset="1" stop-color="#f16d0a"/></linearGradient>
<linearGradient id="d61" x1="0" y1="0" x2="0" y2="1"><stop offset="0" stop-color="#ef540c"/><stop offset="0.1" stop-color="#ee4a0c"/><stop offset="0.2" stop-color="#ed420d"/><stop offset="0.3" stop-color="#ed3e0d"/><stop offset="0.4" stop-color="#ec3d0d"/><stop offset="0.5" stop-color="#ed3f0d"/><stop offset="0.6" stop-color="#ed430d"/><stop offset="0.7" stop-color="#ee490c"/><stop offset="0.8" stop-color="#ef510c"/><stop offset="0.9" stop-color="#f05b0b"/><stop offset="1" stop-color="#f1670a"/></linearGradient>
<linearGradient id="d62" x1="0" y1="0" x2="0" y2="1"><stop offset="0" stop-color="#ee500c"/><stop offset="0.1" stop-color="#ed440d"/><stop offset="0.2" stop-color="#ec3c0d"/><stop offset="0.3" stop-color="#ec370e"/><stop offset="0.4" stop-color="#ec350e"/><stop offset="0.5" stop-color="#ec370e"/><stop offset="0.6" stop-color="#ec3b0e"/><stop offset="0.7" stop-color="#ed410d"/><stop offset="0.8" stop-color="#ee4a0c"/><stop offset="0.9" stop-color="#ef540c"/><stop offset="1" stop-color="#f0610b"/></linearGradient>
<linearGradient id="d63" x1="0" y1="0" x2="0" y2="1"><stop offset="0" stop-color="#ee4c0c"/><stop offset="0.1" stop-color="#ed3e0d"/><stop offset="0.2" stop-color="#ec350e"/><stop offset="0.3" stop-color="#eb300e"/><stop offset="0.4" stop-color="#eb2d0f"/><stop offset="0.5" stop-color="#eb2e0e"/><stop offset="0.6" stop-color="#eb320e"/><stop offset="0.7" stop-color="#ec390e"/><stop offset="0.8" stop-color="#ed420d"/><stop offset="0.9" stop-color="#ee4e0c"/><stop offset="1" stop-color="#f05b0b"/></linearGradient>
<linearGradient id="d64" x1="0" y1="0" x2="0" y2="1"><stop offset="0" stop-color="#ee470d"/><stop offset="0.1" stop-color="#ec390e"/><stop offset="0.2" stop-color="#eb2f0e"/><stop offset="0.3" stop-color="#ea280f"/><stop offset="0.4" stop-color="#ea260f"/><stop offset="0.5" stop-color="#ea260f"/><stop offset="0.6" stop-color="#ea2a0f"/><stop offset="0.7" stop-color="#eb310e"/><stop offset="0.8" stop-color="#ec3b0e"/><stop offset="0.9" stop-color="#ed470d"/><stop offset="1" stop-color="#ef550c"/></linearGradient>
<linearGradient id="d65" x1="0" y1="0" x2="0" y2="1"><stop offset="0" stop-color="#ed430d"/><stop offset="0.1" stop-color="#eb330e"/><stop offset="0.2" stop-color="#ea280f"/><stop offset="0.3" stop-color="#e9210f"/><stop offset="0.4" stop-color="#e91e10"/><stop offset="0.5" stop-color="#e91e10"/><stop offset="0.6" stop-color="#ea220f"/><stop offset="0.7" stop-color="#ea290f"/><stop offset="0.8" stop-color="#eb330e"/><stop offset="0.9" stop-color="#ed400d"/><stop offset="1" stop-color="#ee4f0c"/></linearGradient>
<linearGradient id="d66" x1="0" y1="0" x2="0" y2="1"><stop offset="0" stop-color="#ed3f0d"/><stop offset="0.1" stop-color="#eb2e0f"/><stop offset="0.2" stop-color="#ea220f"/><stop offset="0.3" stop-color="#e91a10"/><stop offset="0.4" stop-color="#e81610"/><stop offset="0.5" stop-color="#e81610"/><stop offset="0.6" stop-color="#e91a10"/><stop offset="0.7" stop-color="#ea210f"/><stop offset="0.8" stop-color="#eb2c0f"/><stop offset="0.9" stop-color="#ec390e"/><stop offset="1" stop-color="#ee490c"/></linearGradient>
<linearGradient id="d67" x1="0" y1="0" x2="0" y2="1"><stop offset="0" stop-color="#ec3b0e"/><stop offset="0.1" stop-color="#ea290f"/><stop offset="0.2" stop-color="#e91c10"/><stop offset="0.3" stop-color="#e81311"/><stop offset="0.4" stop-color="#e80f11"/><stop offset="0.5" stop-color="#e80f11"/><stop offset="0.6" stop-color="#e81211"/><stop offset="0.7" stop-color="#e91a10"/><stop offset="0.8" stop-color="#ea250f"/><stop offset="0.9" stop-color="#eb330e"/><stop offset="1" stop-color="#ed430d"/></linearGradient>
<linearGradient id="d68" x1="0" y1="0" x2="0" y2="1"><stop offset="0" stop-color="#ec370e"/><stop offset="0.1" stop-color="#ea240f"/><stop offset="0.2" stop-color="#e81610"/><stop offset="0.3" stop-color="#e70c11"/><stop offset="0.4" stop-color="#e70811"/><stop offset="0.5" stop-color="#e70711"/><stop offset="0.6" stop-color="#e70b11"/><stop offset="0.7" stop-color="#e81211"/><stop offset="0.8" stop-color="#e91e10"/><stop offset="0.9" stop-color="#eb2c0f"/><stop offset="1" stop-color="#ec3e0d"/></linearGradient>
<linearGradient id="d69" x1="0" y1="0" x2="0" y2="1"><stop offset="0" stop-color="#eb330e"/><stop offset="0.1" stop-color="#e91f10"/><stop offset="0.2" stop-color="#e81011"/><stop offset="0.3" stop-color="#e70612"/><stop offset="0.4" stop-color="#e60012"/><stop offset="0.5" stop-color="#e60012"/><stop offset="0.6" stop-color="#e60312"/><stop offset="0.7" stop-color="#e70b11"/><stop offset="0.8" stop-color="#e81610"/><stop offset="0.9" stop-color="#ea260f"/><stop offset="1" stop-color="#ec380e"/></linearGradient>
<linearGradient id="d70" x1="0" y1="0" x2="0" y2="1"><stop offset="0" stop-color="#eb2f0e"/><stop offset="0.1" stop-color="#e91a10"/><stop offset="0.2" stop-color="#e70a11"/><stop offset="0.3" stop-color="#e50012"/><stop offset="0.4" stop-color="#e00313"/><stop offset="0.5" stop-color="#df0313"/><stop offset="0.6" stop-color="#e20213"/><stop offset="0.7" stop-color="#e60412"/><stop offset="0.8" stop-color="#e81011"/><stop offset="0.9" stop-color="#e91f10"/><stop offset="1" stop-color="#eb330e"/></linearGradient>
<linearGradient id="d71" x1="0" y1="0" x2="0" y2="1"><stop offset="0" stop-color="#eb2c0f"/><stop offset="0.1" stop-color="#e81510"/><stop offset="0.2" stop-color="#e60412"/><stop offset="0.3" stop-color="#e00313"/><stop offset="0.4" stop-color="#da0514"/><stop offset="0.5" stop-color="#d90614"/><stop offset="0.6" stop-color="#dc0514"/><stop offset="0.7" stop-color="#e30113"/><stop offset="0.8" stop-color="#e70911"/><stop offset="0.9" stop-color="#e91910"/><stop offset="1" stop-color="#eb2d0f"/></linearGradient>
<linearGradient id="d72" x1="0" y1="0" x2="0" y2="1"><stop offset="0" stop-color="#ea280f"/><stop offset="0.1" stop-color="#e81111"/><stop offset="0.2" stop-color="#e50012"/><stop offset="0.3" stop-color="#da0514"/><stop offset="0.4" stop-color="#d40815"/><stop offset="0.5" stop-color="#d30915"/><stop offset="0.6" stop-color="#d50815"/><stop offset="0.7" stop-color="#dd0414"/><stop offset="0.8" stop-color="#e60212"/><stop offset="0.9" stop-color="#e81311"/><stop offset="1" stop-color="#ea280f"/></linearGradient>
<linearGradient id="d73" x1="0" y1="0" x2="0" y2="1"><stop offset="0" stop-color="#ea250f"/><stop offset="0.1" stop-color="#e70c11"/><stop offset="0.2" stop-color="#e00313"/><stop offset="0.3" stop-color="#d50815"/><stop offset="0.4" stop-color="#ce0b16"/><stop offset="0.5" stop-color="#cd0c16"/><stop offset="0.6" stop-color="#cf0a16"/><stop offset="0.7" stop-color="#d70715"/><stop offset="0.8" stop-color="#e20213"/><stop offset="0.9" stop-color="#e70d11"/><stop offset="1" stop-color="#ea230f"/></linearGradient>
<linearGradient id="d74" x1="0" y1="0" x2="0" y2="1"><stop offset="0" stop-color="#ea220f"/><stop offset="0.1" stop-color="#e70811"/><stop offset="0.2" stop-color="#dc0514"/><stop offset="0.3" stop-color="#d00a16"/><stop offset="0.4" stop-color="#c90d17"/><stop offset="0.5" stop-color="#c70e17"/><stop offset="0.6" stop-color="#c90d17"/><stop offset="0.7" stop-color="#d10a16"/><stop offset="0.8" stop-color="#dd0414"/><stop offset="0.9" stop-color="#e70811"/><stop offset="1" stop-color="#e91e10"/></linearGradient>
<linearGradient id="d75" x1="0" y1="0" x2="0" y2="1"><stop offset="0" stop-color="#e91f10"/><stop offset="0.1" stop-color="#e60412"/><stop offset="0.2" stop-color="#d80714"/><stop offset="0.3" stop-color="#cb0c17"/><stop offset="0.4" stop-color="#c31018"/><stop offset="0.5" stop-color="#c11118"/><stop offset="0.6" stop-color="#c41018"/><stop offset="0.7" stop-color="#cb0c17"/><stop offset="0.8" stop-color="#d70715"/><stop offset="0.9" stop-color="#e60212"/><stop offset="1" stop-color="#e91910"/></linearGradient>
<linearGradient id="d76" x1="0" y1="0" x2="0" y2="1"><stop offset="0" stop-color="#e91c10"/><stop offset="0.1" stop-color="#e60012"/><stop offset="0.2" stop-color="#d30815"/><stop offset="0.3" stop-color="#c60e17"/><stop offset="0.4" stop-color="#be1219"/><stop offset="0.5" stop-color="#bc1319"/><stop offset="0.6" stop-color="#be1219"/><stop offset="0.7" stop-color="#c60f18"/><stop offset="0.8" stop-color="#d20915"/><stop offset="0.9" stop-color="#e30113"/><stop offset="1" stop-color="#e81410"/></linearGradient>
<linearGradient id="d77" x1="0" y1="0" x2="0" y2="1"><stop offset="0" stop-color="#e91910"/><stop offset="0.1" stop-color="#e30113"/><stop offset="0.2" stop-color="#cf0a16"/><stop offset="0.3" stop-color="#c21018"/><stop offset="0.4" stop-color="#b9141a"/><stop offset="0.5" stop-color="#b6161a"/><stop offset="0.6" stop-color="#b9151a"/><stop offset="0.7" stop-color="#c01118"/><stop offset="0.8" stop-color="#cd0b16"/><stop offset="0.9" stop-color="#de0413"/><stop offset="1" stop-color="#e81011"/></linearGradient>
<linearGradient id="d78" x1="0" y1="0" x2="0" y2="1"><stop offset="0" stop-color="#e81610"/><stop offset="0.1" stop-color="#e00313"/><stop offset="0.2" stop-color="#cc0c16"/><stop offset="0.3" stop-color="#bd1219"/><stop offset="0.4" stop-color="#b5161a"/><stop offset="0.5" stop-color="#b1181b"/><stop offset="0.6" stop-color="#b4171b"/><stop offset="0.7" stop-color="#bb1319"/><stop offset="0.8" stop-color="#c80e17"/><stop offset="0.9" stop-color="#da0614"/><stop offset="1" stop-color="#e70b11"/></linearGradient>
<linearGradient id="d79" x1="0" y1="0" x2="0" y2="1"><stop offset="0" stop-color="#e81311"/><stop offset="0.1" stop-color="#dd0414"/><stop offset="0.2" stop-color="#c80e17"/><stop offset="0.3" stop-color="#b9141a"/><stop offset="0.4" stop-color="#b0181b"/><stop offset="0.5" stop-color="#ac181b"/><stop offset="0.6" stop-color="#af181b"/><stop offset="0.7" stop-color="#b6161a"/><stop offset="0.8" stop-color="#c31018"/><stop offset="0.9" stop-color="#d50815"/><stop offset="1" stop-color="#e70711"/></linearGradient>
<linearGradient id="d80" x1="0" y1="0" x2="0" y2="1"><stop offset="0" stop-color="#e81111"/><stop offset="0.1" stop-color="#da0614"/><stop offset="0.2" stop-color="#c50f18"/><stop offset="0.3" stop-color="#b5161a"/><stop offset="0.4" stop-color="#ac181b"/><stop offset="0.5" stop-color="#a8181b"/><stop offset="0.6" stop-color="#aa181b"/><stop offset="0.7" stop-color="#b2181b"/><stop offset="0.8" stop-color="#bf1219"/><stop offset="0.9" stop-color="#d10916"/><stop offset="1" stop-color="#e60312"/></linearGradient>
<linearGradient id="d81" x1="0" y1="0" x2="0" y2="1"><stop offset="0" stop-color="#e80f11"/><stop offset="0.1" stop-color="#d70715"/><stop offset="0.2" stop-color="#c11118"/><stop offset="0.3" stop-color="#b2181b"/><stop offset="0.4" stop-color="#a7181b"/><stop offset="0.5" stop-color="#a3181a"/><stop offset="0.6" stop-color="#a5181a"/><stop offset="0.7" stop-color="#ad181b"/><stop offset="0.8" stop-color="#bb1419"/><stop offset="0.9" stop-color="#cd0b16"/><stop offset="1" stop-color="#e50012"/></linearGradient>
<linearGradient id="d82" x1="0" y1="0" x2="0" y2="1"><stop offset="0" stop-color="#e70d11"/><stop offset="0.1" stop-color="#d50815"/><stop offset="0.2" stop-color="#be1219"/><stop offset="0.3" stop-color="#ae181b"/><stop offset="0.4" stop-color="#a3181a"/><stop offset="0.5" stop-color="#9f181a"/><stop offset="0.6" stop-color="#a1181a"/><stop offset="0.7" stop-color="#a9181b"/><stop offset="0.8" stop-color="#b7151a"/><stop offset="0.9" stop-color="#ca0d17"/><stop offset="1" stop-color="#e20213"/></linearGradient>
<linearGradient id="d83" x1="0" y1="0" x2="0" y2="1"><stop offset="0" stop-color="#e70b11"/><stop offset="0.1" stop-color="#d30915"/><stop offset="0.2" stop-color="#bc1319"/><stop offset="0.3" stop-color="#ab181b"/><stop offset="0.4" stop-color="#a0181a"/><stop offset="0.5" stop-color="#9b191a"/><stop offset="0.6" stop-color="#9c191a"/><stop offset="0.7" stop-color="#a5181a"/><stop offset="0.8" stop-color="#b3171b"/><stop offset="0.9" stop-color="#c60e17"/><stop offset="1" stop-color="#df0313"/></linearGradient>
<linearGradient id="d84" x1="0" y1="0" x2="0" y2="1"><stop offset="0" stop-color="#e70911"/><stop offset="0.1" stop-color="#d10a16"/><stop offset="0.2" stop-color="#b9141a"/><stop offset="0.3" stop-color="#a8181b"/><stop offset="0.4" stop-color="#9c191a"/><stop offset="0.5" stop-color="#97191a"/><stop offset="0.6" stop-color="#99191a"/><stop offset="0.7" stop-color="#a1181a"/><stop offset="0.8" stop-color="#af181b"/><stop offset="0.9" stop-color="#c31018"/><stop offset="1" stop-color="#dc0514"/></linearGradient>
<linearGradient id="d85" x1="0" y1="0" x2="0" y2="1"><stop offset="0" stop-color="#e70811"/><stop offset="0.1" stop-color="#cf0b16"/><stop offset="0.2" stop-color="#b7151a"/><stop offset="0.3" stop-color="#a5181a"/><stop offset="0.4" stop-color="#99191a"/><stop offset="0.5" stop-color="#94191a"/><stop offset="0.6" stop-color="#95191a"/><stop offset="0.7" stop-color="#9d181a"/><stop offset="0.8" stop-color="#ac181b"/><stop offset="0.9" stop-color="#c01119"/><stop offset="1" stop-color="#d90614"/></linearGradient>
<linearGradient id="d86" x1="0" y1="0" x2="0" y2="1"><stop offset="0" stop-color="#e70612"/><stop offset="0.1" stop-color="#cd0b16"/><stop offset="0.2" stop-color="#b5161a"/><stop offset="0.3" stop-color="#a2181a"/><stop offset="0.4" stop-color="#96191a"/><stop offset="0.5" stop-color="#911919"/><stop offset="0.6" stop-color="#921919"/><stop offset="0.7" stop-color="#9a191a"/><stop offset="0.8" stop-color="#a8181b"/><stop offset="0.9" stop-color="#bd1319"/><stop offset="1" stop-color="#d70715"/></linearGradient>
<linearGradient id="d87" x1="0" y1="0" x2="0" y2="1"><stop offset="0" stop-color="#e70512"/><stop offset="0.1" stop-color="#cc0c16"/><stop offset="0.2" stop-color="#b3171b"/><stop offset="0.3" stop-color="#a0181a"/><stop offset="0.4" stop-color="#94191a"/><stop offset="0.5" stop-color="#8e1919"/><stop offset="0.6" stop-color="#8f1919"/><stop offset="0.7" stop-color="#97191a"/><stop offset="0.8" stop-color="#a6181a"/><stop offset="0.9" stop-color="#ba1419"/><stop offset="1" stop-color="#d40815"/></linearGradient>
<linearGradient id="d88" x1="0" y1="0" x2="0" y2="1"><stop offset="0" stop-color="#e60412"/><stop offset="0.1" stop-color="#cb0c17"/><stop offset="0.2" stop-color="#b2181b"/><stop offset="0.3" stop-color="#9e181a"/><stop offset="0.4" stop-color="#921919"/><stop offset="0.5" stop-color="#8c1919"/><stop offset="0.6" stop-color="#8c1919"/><stop offset="0.7" stop-color="#94191a"/><stop offset="0.8" stop-color="#a3181a"/><stop offset="0.9" stop-color="#b8151a"/><stop offset="1" stop-color="#d20915"/></linearGradient>
<linearGradient id="d89" x1="0" y1="0" x2="0" y2="1"><stop offset="0" stop-color="#e60412"/><stop offset="0.1" stop-color="#ca0d17"/><stop offset="0.2" stop-color="#b0181b"/><stop offset="0.3" stop-color="#9d191a"/><stop offset="0.4" stop-color="#901919"/><stop offset="0.5" stop-color="#891919"/><stop offset="0.6" stop-color="#8a1919"/><stop offset="0.7" stop-color="#921919"/><stop offset="0.8" stop-color="#a0181a"/><stop offset="0.9" stop-color="#b6161a"/><stop offset="1" stop-color="#d00a16"/></linearGradient>
<linearGradient id="d90" x1="0" y1="0" x2="0" y2="1"><stop offset="0" stop-color="#e60312"/><stop offset="0.1" stop-color="#c90d17"/><stop offset="0.2" stop-color="#af181b"/><stop offset="0.3" stop-color="#9b191a"/><stop offset="0.4" stop-color="#8e1919"/><stop offset="0.5" stop-color="#881919"/><stop offset="0.6" stop-color="#881919"/><stop offset="0.7" stop-color="#901919"/><stop offset="0.8" stop-color="#9e181a"/><stop offset="0.9" stop-color="#b4171b"/><stop offset="1" stop-color="#ce0b16"/></linearGradient>
<linearGradient id="d91" x1="0" y1="0" x2="0" y2="1"><stop offset="0" stop-color="#e60312"/><stop offset="0.1" stop-color="#c80d17"/><stop offset="0.2" stop-color="#af181b"/><stop offset="0.3" stop-color="#9a191a"/><stop offset="0.4" stop-color="#8d1919"/><stop offset="0.5" stop-color="#861919"/><stop offset="0.6" stop-color="#871919"/><stop offset="0.7" stop-color="#8e1919"/><stop offset="0.8" stop-color="#9d191a"/><stop offset="0.9" stop-color="#b2181b"/><stop offset="1" stop-color="#cd0b16"/></linearGradient>
<linearGradient id="d92" x1="0" y1="0" x2="0" y2="1"><stop offset="0" stop-color="#e60212"/><stop offset="0.1" stop-color="#c80e17"/><stop offset="0.2" stop-color="#ae181b"/><stop offset="0.3" stop-color="#9a191a"/><stop offset="0.4" stop-color="#8c1919"/><stop offset="0.5" stop-color="#851919"/><stop offset="0.6" stop-color="#851919"/><stop offset="0.7" stop-color="#8d1919"/><stop offset="0.8" stop-color="#9b191a"/><stop offset="0.9" stop-color="#b1181b"/><stop offset="1" stop-color="#cc0c16"/></linearGradient>
<linearGradient id="d93" x1="0" y1="0" x2="0" y2="1"><stop offset="0" stop-color="#e60212"/><stop offset="0.1" stop-color="#c80e17"/><stop offset="0.2" stop-color="#ae181b"/><stop offset="0.3" stop-color="#99191a"/><stop offset="0.4" stop-color="#8b1919"/><stop offset="0.5" stop-color="#841919"/><stop offset="0.6" stop-color="#841919"/><stop offset="0.7" stop-color="#8b1919"/><stop offset="0.8" stop-color="#9a191a"/><stop offset="0.9" stop-color="#af181b"/><stop offset="1" stop-color="#cb0c17"/></linearGradient>
<linearGradient id="d94" x1="0" y1="0" x2="0" y2="1"><stop offset="0" stop-color="#e60312"/><stop offset="0.1" stop-color="#c80e17"/><stop offset="0.2" stop-color="#ae181b"/><stop offset="0.3" stop-color="#99191a"/><stop offset="0.4" stop-color="#8b1919"/><stop offset="0.5" stop-color="#841919"/><stop offset="0.6" stop-color="#841919"/><stop offset="0.7" stop-color="#8b1919"/><stop offset="0.8" stop-color="#99191a"/><stop offset="0.9" stop-color="#af181b"/><stop offset="1" stop-color="#ca0d17"/></linearGradient>
<linearGradient id="d95" x1="0" y1="0" x2="0" y2="1"><stop offset="0" stop-color="#e60312"/><stop offset="0.1" stop-color="#c80d17"/><stop offset="0.2" stop-color="#ae181b"/><stop offset="0.3" stop-color="#99191a"/><stop offset="0.4" stop-color="#8b1919"/><stop offset="0.5" stop-color="#841919"/><stop offset="0.6" stop-color="#831919"/><stop offset="0.7" stop-color="#8a1919"/><stop offset="0.8" stop-color="#98191a"/><stop offset="0.9" stop-color="#ae181b"/><stop offset="1" stop-color="#c90d17"/></linearGradient>
<linearGradient id="d96" x1="0" y1="0" x2="0" y2="1"><stop offset="0" stop-color="#e60412"/><stop offset="0.1" stop-color="#c90d17"/><stop offset="0.2" stop-color="#af181b"/><stop offset="0.3" stop-color="#9a191a"/><stop offset="0.4" stop-color="#8b1919"/><stop offset="0.5" stop-color="#841919"/><stop offset="0.6" stop-color="#831919"/><stop offset="0.7" stop-color="#8a1919"/><stop offset="0.8" stop-color="#98191a"/><stop offset="0.9" stop-color="#ad181b"/><stop offset="1" stop-color="#c90d17"/></linearGradient>
<linearGradient id="d97" x1="0" y1="0" x2="0" y2="1"><stop offset="0" stop-color="#e60412"/><stop offset="0.1" stop-color="#ca0d17"/><stop offset="0.2" stop-color="#af181b"/><stop offset="0.3" stop-color="#9a191a"/><stop offset="0.4" stop-color="#8c1919"/><stop offset="0.5" stop-color="#841919"/><stop offset="0.6" stop-color="#841919"/><stop offset="0.7" stop-color="#8a1919"/><stop offset="0.8" stop-color="#98191a"/><stop offset="0.9" stop-color="#ad181b"/><stop offset="1" stop-color="#c80d17"/></linearGradient>
<linearGradient id="d98" x1="0" y1="0" x2="0" y2="1"><stop offset="0" stop-color="#e70512"/><stop offset="0.1" stop-color="#cb0c17"/><stop offset="0.2" stop-color="#b1181b"/><stop offset="0.3" stop-color="#9b191a"/><stop offset="0.4" stop-color="#8d1919"/><stop offset="0.5" stop-color="#851919"/><stop offset="0.6" stop-color="#841919"/><stop offset="0.7" stop-color="#8b1919"/><stop offset="0.8" stop-color="#98191a"/><stop offset="0.9" stop-color="#ad181b"/><stop offset="1" stop-color="#c80d17"/></linearGradient>
<linearGradient id="d99" x1="0" y1="0" x2="0" y2="1"><stop offset="0" stop-color="#e70712"/><stop offset="0.1" stop-color="#cc0c16"/><stop offset="0.2" stop-color="#b2181b"/><stop offset="0.3" stop-color="#9d181a"/><stop offset="0.4" stop-color="#8e1919"/><stop offset="0.5" stop-color="#861919"/><stop offset="0.6" stop-color="#851919"/><stop offset="0.7" stop-color="#8c1919"/><stop offset="0.8" stop-color="#99191a"/><stop offset="0.9" stop-color="#ae181b"/><stop offset="1" stop-color="#c90d17"/></linearGradient>
<linearGradient id="d100" x1="0" y1="0" x2="0" y2="1"><stop offset="0" stop-color="#e70811"/><stop offset="0.1" stop-color="#cd0b16"/><stop offset="0.2" stop-color="#b3171b"/><stop offset="0.3" stop-color="#9e181a"/><stop offset="0.4" stop-color="#901919"/><stop offset="0.5" stop-color="#881919"/><stop offset="0.6" stop-color="#871919"/><stop offset="0.7" stop-color="#8d1919"/><stop offset="0.8" stop-color="#9a191a"/><stop offset="0.9" stop-color="#af181b"/><stop offset="1" stop-color="#c90d17"/></linearGradient>
<linearGradient id="d101" x1="0" y1="0" x2="0" y2="1"><stop offset="0" stop-color="#e70911"/><stop offset="0.1" stop-color="#cf0a16"/><stop offset="0.2" stop-color="#b5161a"/><stop offset="0.3" stop-color="#a0181a"/><stop offset="0.4" stop-color="#921919"/><stop offset="0.5" stop-color="#8a1919"/><stop offset="0.6" stop-color="#881919"/><stop offset="0.7" stop-color="#8e1919"/><stop offset="0.8" stop-color="#9b191a"/><stop offset="0.9" stop-color="#b0181b"/><stop offset="1" stop-color="#ca0d17"/></linearGradient>
<linearGradient id="d102" x1="0" y1="0" x2="0" y2="1"><stop offset="0" stop-color="#e70b11"/><stop offset="0.1" stop-color="#d10a16"/><stop offset="0.2" stop-color="#b7151a"/><stop offset="0.3" stop-color="#a3181a"/><stop offset="0.4" stop-color="#94191a"/><stop offset="0.5" stop-color="#8c1919"/><stop offset="0.6" stop-color="#8a1919"/><stop offset="0.7" stop-color="#901919"/><stop offset="0.8" stop-color="#9d181a"/><stop offset="0.9" stop-color="#b1181b"/><stop offset="1" stop-color="#cb0c17"/></linearGradient>
<linearGradient id="d103" x1="0" y1="0" x2="0" y2="1"><stop offset="0" stop-color="#e70d11"/><stop offset="0.1" stop-color="#d30915"/><stop offset="0.2" stop-color="#b9141a"/><stop offset="0.3" stop-color="#a5181a"/><stop offset="0.4" stop-color="#97191a"/><stop offset="0.5" stop-color="#8e1919"/><stop offset="0.6" stop-color="#8d1919"/><stop offset="0.7" stop-color="#921919"/><stop offset="0.8" stop-color="#9f181a"/><stop offset="0.9" stop-color="#b2171b"/><stop offset="1" stop-color="#cc0c16"/></linearGradient>
<linearGradient id="d104" x1="0" y1="0" x2="0" y2="1"><stop offset="0" stop-color="#e80f11"/><stop offset="0.1" stop-color="#d50815"/><stop offset="0.2" stop-color="#bc1319"/><stop offset="0.3" stop-color="#a8181b"/><stop offset="0.4" stop-color="#99191a"/><stop offset="0.5" stop-color="#911919"/><stop offset="0.6" stop-color="#8f1919"/><stop offset="0.7" stop-color="#95191a"/><stop offset="0.8" stop-color="#a1181a"/><stop offset="0.9" stop-color="#b4171a"/><stop offset="1" stop-color="#cd0b16"/></linearGradient>
<linearGradient id="d105" x1="0" y1="0" x2="0" y2="1"><stop offset="0" stop-color="#e81111"/><stop offset="0.1" stop-color="#d70714"/><stop offset="0.2" stop-color="#bf1219"/><stop offset="0.3" stop-color="#ab181b"/><stop offset="0.4" stop-color="#9d191a"/><stop offset="0.5" stop-color="#94191a"/><stop offset="0.6" stop-color="#921919"/><stop offset="0.7" stop-color="#97191a"/><stop offset="0.8" stop-color="#a3181a"/><stop offset="0.9" stop-color="#b6161a"/><stop offset="1" stop-color="#cf0b16"/></linearGradient>
<linearGradient id="d106" x1="0" y1="0" x2="0" y2="1"><stop offset="0" stop-color="#e81411"/><stop offset="0.1" stop-color="#da0514"/><stop offset="0.2" stop-color="#c21018"/><stop offset="0.3" stop-color="#ae181b"/><stop offset="0.4" stop-color="#a0181a"/><stop offset="0.5" stop-color="#98191a"/><stop offset="0.6" stop-color="#96191a"/><stop offset="0.7" stop-color="#9a191a"/><stop offset="0.8" stop-color="#a6181a"/><stop offset="0.9" stop-color="#b8151a"/><stop offset="1" stop-color="#d10a16"/></linearGradient>
<linearGradient id="d107" x1="0" y1="0" x2="0" y2="1"><stop offset="0" stop-color="#e81610"/><stop offset="0.1" stop-color="#dd0414"/><stop offset="0.2" stop-color="#c50f18"/><stop offset="0.3" stop-color="#b2181b"/><stop offset="0.4" stop-color="#a4181a"/><stop offset="0.5" stop-color="#9b191a"/><stop offset="0.6" stop-color="#99191a"/><stop offset="0.7" stop-color="#9e181a"/><stop offset="0.8" stop-color="#a9181b"/><stop offset="0.9" stop-color="#bb1419"/><stop offset="1" stop-color="#d20915"/></linearGradient>
<linearGradient id="d108" x1="0" y1="0" x2="0" y2="1"><stop offset="0" stop-color="#e91910"/><stop offset="0.1" stop-color="#e00313"/><stop offset="0.2" stop-color="#c80d17"/><stop offset="0.3" stop-color="#b6161a"/><stop offset="0.4" stop-color="#a8181b"/><stop offset="0.5" stop-color="#9f181a"/><stop offset="0.6" stop-color="#9d181a"/><stop offset="0.7" stop-color="#a1181a"/><stop offset="0.8" stop-color="#ac181b"/><stop offset="0.9" stop-color="#bd1219"/><stop offset="1" stop-color="#d50815"/></linearGradient>
<linearGradient id="d109" x1="0" y1="0" x2="0" y2="1"><stop offset="0" stop-color="#e91c10"/><stop offset="0.1" stop-color="#e30113"/><stop offset="0.2" stop-color="#cc0c16"/><stop offset="0.3" stop-color="#ba141a"/><stop offset="0.4" stop-color="#ac181b"/><stop offset="0.5" stop-color="#a4181a"/><stop offset="0.6" stop-color="#a1181a"/><stop offset="0.7" stop-color="#a5181a"/><stop offset="0.8" stop-color="#b0181b"/><stop offset="0.9" stop-color="#c01118"/><stop offset="1" stop-color="#d70715"/></linearGradient>
<linearGradient id="d110" x1="0" y1="0" x2="0" y2="1"><stop offset="0" stop-color="#e91f10"/><stop offset="0.1" stop-color="#e60012"/><stop offset="0.2" stop-color="#d00a16"/><stop offset="0.3" stop-color="#be1219"/><stop offset="0.4" stop-color="#b1181b"/><stop offset="0.5" stop-color="#a8181b"/><stop offset="0.6" stop-color="#a6181a"/><stop offset="0.7" stop-color="#a9181b"/><stop offset="0.8" stop-color="#b3171b"/><stop offset="0.9" stop-color="#c31018"/><stop offset="1" stop-color="#da0614"/></linearGradient>
<linearGradient id="d111" x1="0" y1="0" x2="0" y2="1"><stop offset="0" stop-color="#ea220f"/><stop offset="0.1" stop-color="#e60412"/><stop offset="0.2" stop-color="#d40815"/><stop offset="0.3" stop-color="#c21018"/><stop offset="0.4" stop-color="#b5161a"/><stop offset="0.5" stop-color="#ad181b"/><stop offset="0.6" stop-color="#aa181b"/><stop offset="0.7" stop-color="#ae181b"/><stop offset="0.8" stop-color="#b7151a"/><stop offset="0.9" stop-color="#c70e17"/><stop offset="1" stop-color="#dc0414"/></linearGradient>
<linearGradient id="d112" x1="0" y1="0" x2="0" y2="1"><stop offset="0" stop-color="#ea250f"/><stop offset="0.1" stop-color="#e70811"/><stop offset="0.2" stop-color="#d80614"/><stop offset="0.3" stop-color="#c70e17"/><stop offset="0.4" stop-color="#ba1419"/><stop offset="0.5" stop-color="#b2181b"/><stop offset="0.6" stop-color="#af181b"/><stop offset="0.7" stop-color="#b2171b"/><stop offset="0.8" stop-color="#bb1319"/><stop offset="0.9" stop-color="#ca0d17"/><stop offset="1" stop-color="#df0313"/></linearGradient>
<linearGradient id="d113" x1="0" y1="0" x2="0" y2="1"><stop offset="0" stop-color="#ea290f"/><stop offset="0.1" stop-color="#e70d11"/><stop offset="0.2" stop-color="#dc0414"/><stop offset="0.3" stop-color="#cb0c17"/><stop offset="0.4" stop-color="#bf1219"/><stop offset="0.5" stop-color="#b7151a"/><stop offset="0.6" stop-color="#b4171a"/><stop offset="0.7" stop-color="#b7151a"/><stop offset="0.8" stop-color="#bf1119"/><stop offset="0.9" stop-color="#ce0b16"/><stop offset="1" stop-color="#e30213"/></linearGradient>
<linearGradient id="d114" x1="0" y1="0" x2="0" y2="1"><stop offset="0" stop-color="#eb2c0f"/><stop offset="0.1" stop-color="#e81111"/><stop offset="0.2" stop-color="#e10213"/><stop offset="0.3" stop-color="#d00a16"/><stop offset="0.4" stop-color="#c40f18"/><stop offset="0.5" stop-color="#bc1319"/><stop offset="0.6" stop-color="#b9141a"/><stop offset="0.7" stop-color="#bc1319"/><stop offset="0.8" stop-color="#c40f18"/><stop offset="0.9" stop-color="#d20915"/><stop offset="1" stop-color="#e60012"/></linearGradient>
<linearGradient id="d115" x1="0" y1="0" x2="0" y2="1"><stop offset="0" stop-color="#eb300e"/><stop offset="0.1" stop-color="#e81610"/><stop offset="0.2" stop-color="#e60012"/><stop offset="0.3" stop-color="#d50715"/><stop offset="0.4" stop-color="#c90d17"/><stop offset="0.5" stop-color="#c21018"/><stop offset="0.6" stop-color="#bf1219"/><stop offset="0.7" stop-color="#c11118"/><stop offset="0.8" stop-color="#c90d17"/><stop offset="0.9" stop-color="#d60715"/><stop offset="1" stop-color="#e60412"/></linearGradient>
<linearGradient id="d116" x1="0" y1="0" x2="0" y2="1"><stop offset="0" stop-color="#eb340e"/><stop offset="0.1" stop-color="#e91a10"/><stop offset="0.2" stop-color="#e70512"/><stop offset="0.3" stop-color="#db0514"/><stop offset="0.4" stop-color="#cf0a16"/><stop offset="0.5" stop-color="#c70e17"/><stop offset="0.6" stop-color="#c40f18"/><stop offset="0.7" stop-color="#c60e17"/><stop offset="0.8" stop-color="#ce0b16"/><stop offset="0.9" stop-color="#da0514"/><stop offset="1" stop-color="#e70811"/></linearGradient>
<linearGradient id="d117" x1="0" y1="0" x2="0" y2="1"><stop offset="0" stop-color="#ec370e"/><stop offset="0.1" stop-color="#e91f10"/><stop offset="0.2" stop-color="#e70b11"/><stop offset="0.3" stop-color="#e00313"/><stop offset="0.4" stop-color="#d50815"/><stop offset="0.5" stop-color="#cd0b16"/><stop offset="0.6" stop-color="#ca0d17"/><stop offset="0.7" stop-color="#cc0c16"/><stop offset="0.8" stop-color="#d30915"/><stop offset="0.9" stop-color="#df0313"/><stop offset="1" stop-color="#e70c11"/></linearGradient>
<linearGradient id="d118" x1="0" y1="0" x2="0" y2="1"><stop offset="0" stop-color="#ec3b0e"/><stop offset="0.1" stop-color="#ea240f"/><stop offset="0.2" stop-color="#e81011"/><stop offset="0.3" stop-color="#e60012"/><stop offset="0.4" stop-color="#db0514"/><stop offset="0.5" stop-color="#d30815"/><stop offset="0.6" stop-color="#d00a16"/><stop offset="0.7" stop-color="#d10915"/><stop offset="0.8" stop-color="#d80614"/><stop offset="0.9" stop-color="#e40112"/><stop offset="1" stop-color="#e81111"/></linearGradient>
<linearGradient id="d119" x1="0" y1="0" x2="0" y2="1"><stop offset="0" stop-color="#ed3f0d"/><stop offset="0.1" stop-color="#ea290f"/><stop offset="0.2" stop-color="#e81610"/><stop offset="0.3" stop-color="#e70612"/><stop offset="0.4" stop-color="#e10213"/><stop offset="0.5" stop-color="#d90614"/><stop offset="0.6" stop-color="#d60715"/><stop offset="0.7" stop-color="#d70714"/><stop offset="0.8" stop-color="#dd0413"/><stop offset="0.9" stop-color="#e60312"/><stop offset="1" stop-color="#e81510"/></linearGradient>
<linearGradient id="d120" x1="0" y1="0" x2="0" y2="1"><stop offset="0" stop-color="#ed440d"/><stop offset="0.1" stop-color="#eb2f0e"/><stop offset="0.2" stop-color="#e91c10"/><stop offset="0.3" stop-color="#e70d11"/><stop offset="0.4" stop-color="#e60112"/><stop offset="0.5" stop-color="#e00313"/><stop offset="0.6" stop-color="#dc0414"/><stop offset="0.7" stop-color="#dd0413"/><stop offset="0.8" stop-color="#e30113"/><stop offset="0.9" stop-color="#e70811"/><stop offset="1" stop-color="#e91a10"/></linearGradient>
<linearGradient id="d121" x1="0" y1="0" x2="0" y2="1"><stop offset="0" stop-color="#ee480d"/><stop offset="0.1" stop-color="#eb340e"/><stop offset="0.2" stop-color="#ea220f"/><stop offset="0.3" stop-color="#e81410"/><stop offset="0.4" stop-color="#e70811"/><stop offset="0.5" stop-color="#e60012"/><stop offset="0.6" stop-color="#e30113"/><stop offset="0.7" stop-color="#e40112"/><stop offset="0.8" stop-color="#e60312"/><stop offset="0.9" stop-color="#e70e11"/><stop offset="1" stop-color="#e91f10"/></linearGradient>
<linearGradient id="d122" x1="0" y1="0" x2="0" y2="1"><stop offset="0" stop-color="#ee4c0c"/><stop offset="0.1" stop-color="#ec390e"/><stop offset="0.2" stop-color="#ea290f"/><stop offset="0.3" stop-color="#e91b10"/><stop offset="0.4" stop-color="#e81011"/><stop offset="0.5" stop-color="#e70811"/><stop offset="0.6" stop-color="#e60412"/><stop offset="0.7" stop-color="#e60412"/><stop offset="0.8" stop-color="#e70a11"/><stop offset="0.9" stop-color="#e81410"/><stop offset="1" stop-color="#ea240f"/></linearGradient>
<linearGradient id="d123" x1="0" y1="0" x2="0" y2="1"><stop offset="0" stop-color="#ee500c"/><stop offset="0.1" stop-color="#ed3f0d"/><stop offset="0.2" stop-color="#eb2f0e"/><stop offset="0.3" stop-color="#ea220f"/><stop offset="0.4" stop-color="#e81710"/><stop offset="0.5" stop-color="#e81011"/><stop offset="0.6" stop-color="#e70c11"/><stop offset="0.7" stop-color="#e70c11"/><stop offset="0.8" stop-color="#e81011"/><stop offset="0.9" stop-color="#e91a10"/><stop offset="1" stop-color="#ea290f"/></linearGradient>
<linearGradient id="d124" x1="0" y1="0" x2="0" y2="1"><stop offset="0" stop-color="#ef550c"/><stop offset="0.1" stop-color="#ed440d"/><stop offset="0.2" stop-color="#ec360e"/><stop offset="0.3" stop-color="#ea290f"/><stop offset="0.4" stop-color="#e91f10"/><stop offset="0.5" stop-color="#e81710"/><stop offset="0.6" stop-color="#e81311"/><stop offset="0.7" stop-color="#e81311"/><stop offset="0.8" stop-color="#e81710"/><stop offset="0.9" stop-color="#e92010"/><stop offset="1" stop-color="#eb2e0f"/></linearGradient>
<linearGradient id="d125" x1="0" y1="0" x2="0" y2="1"><stop offset="0" stop-color="#ef590b"/><stop offset="0.1" stop-color="#ee4a0c"/><stop offset="0.2" stop-color="#ec3c0d"/><stop offset="0.3" stop-color="#eb300e"/><stop offset="0.4" stop-color="#ea260f"/><stop offset="0.5" stop-color="#e91f10"/><stop offset="0.6" stop-color="#e91b10"/><stop offset="0.7" stop-color="#e91b10"/><stop offset="0.8" stop-color="#e91e10"/><stop offset="0.9" stop-color="#ea270f"/><stop offset="1" stop-color="#eb340e"/></linearGradient>
<linearGradient id="d126" x1="0" y1="0" x2="0" y2="1"><stop offset="0" stop-color="#f05e0b"/><stop offset="0.1" stop-color="#ee500c"/><stop offset="0.2" stop-color="#ed430d"/><stop offset="0.3" stop-color="#ec380e"/><stop offset="0.4" stop-color="#eb2e0e"/><stop offset="0.5" stop-color="#ea270f"/><stop offset="0.6" stop-color="#ea230f"/><stop offset="0.7" stop-color="#ea220f"/><stop offset="0.8" stop-color="#ea260f"/><stop offset="0.9" stop-color="#eb2d0f"/><stop offset="1" stop-color="#ec390e"/></linearGradient>
<linearGradient id="d127" x1="0" y1="0" x2="0" y2="1"><stop offset="0" stop-color="#f0620b"/><stop offset="0.1" stop-color="#ef560c"/><stop offset="0.2" stop-color="#ee4a0c"/><stop offset="0.3" stop-color="#ed3f0d"/><stop offset="0.4" stop-color="#ec360e"/><stop offset="0.5" stop-color="#eb2f0e"/><stop offset="0.6" stop-color="#eb2b0f"/><stop offset="0.7" stop-color="#ea2a0f"/><stop offset="0.8" stop-color="#eb2d0f"/><stop offset="0.9" stop-color="#eb340e"/><stop offset="1" stop-color="#ed3f0d"/></linearGradient>
<linearGradient id="d128" x1="0" y1="0" x2="0" y2="1"><stop offset="0" stop-color="#f1670a"/><stop offset="0.1" stop-color="#f05b0b"/><stop offset="0.2" stop-color="#ee500c"/><stop offset="0.3" stop-color="#ed470d"/><stop offset="0.4" stop-color="#ed3e0d"/><stop offset="0.5" stop-color="#ec380e"/><stop offset="0.6" stop-color="#eb330e"/><stop offset="0.7" stop-color="#eb320e"/><stop offset="0.8" stop-color="#eb340e"/><stop offset="0.9" stop-color="#ec3a0e"/><stop offset="1" stop-color="#ed440d"/></linearGradient>
<linearGradient id="d129" x1="0" y1="0" x2="0" y2="1"><stop offset="0" stop-color="#f16c0a"/><stop offset="0.1" stop-color="#f0610b"/><stop offset="0.2" stop-color="#ef570b"/><stop offset="0.3" stop-color="#ee4e0c"/><stop offset="0.4" stop-color="#ed460d"/><stop offset="0.5" stop-color="#ed400d"/><stop offset="0.6" stop-color="#ec3c0d"/><stop offset="0.7" stop-color="#ec3a0e"/><stop offset="0.8" stop-color="#ec3c0d"/><stop offset="0.9" stop-color="#ed410d"/><stop offset="1" stop-color="#ee4a0c"/></linearGradient>
<linearGradient id="d130" x1="0" y1="0" x2="0" y2="1"><stop offset="0" stop-color="#f2700a"/><stop offset="0.1" stop-color="#f1670a"/><stop offset="0.2" stop-color="#f05e0b"/><stop offset="0.3" stop-color="#ef560c"/><stop offset="0.4" stop-color="#ee4e0c"/><stop offset="0.5" stop-color="#ee480d"/><stop offset="0.6" stop-color="#ed440d"/><stop offset="0.7" stop-color="#ed420d"/><stop offset="0.8" stop-color="#ed430d"/><stop offset="0.9" stop-color="#ee480d"/><stop offset="1" stop-color="#ee500c"/></linearGradient>
<linearGradient id="d131" x1="0" y1="0" x2="0" y2="1"><stop offset="0" stop-color="#f27509"/><stop offset="0.1" stop-color="#f16d0a"/><stop offset="0.2" stop-color="#f1650a"/><stop offset="0.3" stop-color="#f05d0b"/><stop offset="0.4" stop-color="#ef560b"/><stop offset="0.5" stop-color="#ee510c"/><stop offset="0.6" stop-color="#ee4c0c"/><stop offset="0.7" stop-color="#ee4a0c"/><stop offset="0.8" stop-color="#ee4b0c"/><stop offset="0.9" stop-color="#ee4f0c"/><stop offset="1" stop-color="#ef560c"/></linearGradient>
<linearGradient id="d132" x1="0" y1="0" x2="0" y2="1"><stop offset="0" stop-color="#f37909"/><stop offset="0.1" stop-color="#f27309"/><stop offset="0.2" stop-color="#f16c0a"/><stop offset="0.3" stop-color="#f1650a"/><stop offset="0.4" stop-color="#f05f0b"/><stop offset="0.5" stop-color="#ef590b"/><stop offset="0.6" stop-color="#ef550c"/><stop offset="0.7" stop-color="#ef520c"/><stop offset="0.8" stop-color="#ef530c"/><stop offset="0.9" stop-color="#ef550c"/><stop offset="1" stop-color="#f05c0b"/></linearGradient>
<linearGradient id="d133" x1="0" y1="0" x2="0" y2="1"><stop offset="0" stop-color="#f37e08"/><stop offset="0.1" stop-color="#f37909"/><stop offset="0.2" stop-color="#f27309"/><stop offset="0.3" stop-color="#f16d0a"/><stop offset="0.4" stop-color="#f1670a"/><stop offset="0.5" stop-color="#f0610b"/><stop offset="0.6" stop-color="#f05d0b"/><stop offset="0.7" stop-color="#f05b0b"/><stop offset="0.8" stop-color="#ef5a0b"/><stop offset="0.9" stop-color="#f05c0b"/><stop offset="1" stop-color="#f0610b"/></linearGradient>
<linearGradient id="d134" x1="0" y1="0" x2="0" y2="1"><stop offset="0" stop-color="#f48308"/><stop offset="0.1" stop-color="#f37f08"/><stop offset="0.2" stop-color="#f37a09"/><stop offset="0.3" stop-color="#f27409"/><stop offset="0.4" stop-color="#f26f0a"/><stop offset="0.5" stop-color="#f16a0a"/><stop offset="0.6" stop-color="#f1660a"/><stop offset="0.7" stop-color="#f0630b"/><stop offset="0.8" stop-color="#f0620b"/><stop offset="0.9" stop-color="#f0630a"/><stop offset="1" stop-color="#f1670a"/></linearGradient>
<linearGradient id="d135" x1="0" y1="0" x2="0" y2="1"><stop offset="0" stop-color="#f48708"/><stop offset="0.1" stop-color="#f48408"/><stop offset="0.2" stop-color="#f48108"/><stop offset="0.3" stop-color="#f37c09"/><stop offset="0.4" stop-color="#f37709"/><stop offset="0.5" stop-color="#f27209"/><stop offset="0.6" stop-color="#f26e0a"/><stop offset="0.7" stop-color="#f16b0a"/><stop offset="0.8" stop-color="#f16a0a"/><stop offset="0.9" stop-color="#f16a0a"/><stop offset="1" stop-color="#f16d0a"/></linearGradient>
<linearGradient id="d136" x1="0" y1="0" x2="0" y2="1"><stop offset="0" stop-color="#f58c07"/><stop offset="0.1" stop-color="#f58a08"/><stop offset="0.2" stop-color="#f48708"/><stop offset="0.3" stop-color="#f48408"/><stop offset="0.4" stop-color="#f37f08"/><stop offset="0.5" stop-color="#f37b09"/><stop offset="0.6" stop-color="#f27609"/><stop offset="0.7" stop-color="#f27309"/><stop offset="0.8" stop-color="#f27109"/><stop offset="0.9" stop-color="#f27109"/><stop offset="1" stop-color="#f27309"/></linearGradient>
<linearGradient id="d137" x1="0" y1="0" x2="0" y2="1"><stop offset="0" stop-color="#f59007"/><stop offset="0.1" stop-color="#f59007"/><stop offset="0.2" stop-color="#f58e07"/><stop offset="0.3" stop-color="#f58b07"/><stop offset="0.4" stop-color="#f48708"/><stop offset="0.5" stop-color="#f48308"/><stop offset="0.6" stop-color="#f37f08"/><stop offset="0.7" stop-color="#f37b09"/><stop offset="0.8" stop-color="#f37909"/><stop offset="0.9" stop-color="#f37809"/><stop offset="1" stop-color="#f37909"/></linearGradient>
<linearGradient id="d138" x1="0" y1="0" x2="0" y2="1"><stop offset="0" stop-color="#f69507"/><stop offset="0.1" stop-color="#f69607"/><stop offset="0.2" stop-color="#f69507"/><stop offset="0.3" stop-color="#f59307"/><stop offset="0.4" stop-color="#f59007"/><stop offset="0.5" stop-color="#f58b07"/><stop offset="0.6" stop-color="#f48708"/><stop offset="0.7" stop-color="#f48408"/><stop offset="0.8" stop-color="#f48108"/><stop offset="0.9" stop-color="#f37f08"/><stop offset="1" stop-color="#f37f08"/></linearGradient>
<linearGradient id="d139" x1="0" y1="0" x2="0" y2="1"><stop offset="0" stop-color="#f69906"/><stop offset="0.1" stop-color="#f69c06"/><stop offset="0.2" stop-color="#f69c06"/><stop offset="0.3" stop-color="#f69a06"/><stop offset="0.4" stop-color="#f69807"/><stop offset="0.5" stop-color="#f69407"/><stop offset="0.6" stop-color="#f59007"/><stop offset="0.7" stop-color="#f58c07"/><stop offset="0.8" stop-color="#f48908"/><stop offset="0.9" stop-color="#f48608"/><stop offset="1" stop-color="#f48508"/></linearGradient>
<linearGradient id="d140" x1="0" y1="0" x2="0" y2="1"><stop offset="0" stop-color="#f79e06"/><stop offset="0.1" stop-color="#f7a106"/><stop offset="0.2" stop-color="#f7a306"/><stop offset="0.3" stop-color="#f7a206"/><stop offset="0.4" stop-color="#f7a006"/><stop offset="0.5" stop-color="#f69c06"/><stop offset="0.6" stop-color="#f69807"/><stop offset="0.7" stop-color="#f69407"/><stop offset="0.8" stop-color="#f59007"/><stop offset="0.9" stop-color="#f58d07"/><stop offset="1" stop-color="#f58b07"/></linearGradient>
<linearGradient id="d141" x1="0" y1="0" x2="0" y2="1"><stop offset="0" stop-color="#f7a206"/><stop offset="0.1" stop-color="#f8a705"/><stop offset="0.2" stop-color="#f8a905"/><stop offset="0.3" stop-color="#f8a905"/><stop offset="0.4" stop-color="#f8a805"/><stop offset="0.5" stop-color="#f7a406"/><stop offset="0.6" stop-color="#f7a006"/><stop offset="0.7" stop-color="#f69c06"/><stop offset="0.8" stop-color="#f69807"/><stop offset="0.9" stop-color="#f69407"/><stop offset="1" stop-color="#f59107"/></linearGradient>
<linearGradient id="d142" x1="0" y1="0" x2="0" y2="1"><stop offset="0" stop-color="#f7a705"/><stop offset="0.1" stop-color="#f8ad05"/><stop offset="0.2" stop-color="#f8b005"/><stop offset="0.3" stop-color="#f9b105"/><stop offset="0.4" stop-color="#f8af05"/><stop offset="0.5" stop-color="#f8ac05"/><stop offset="0.6" stop-color="#f8a805"/><stop offset="0.7" stop-color="#f7a406"/><stop offset="0.8" stop-color="#f79f06"/><stop offset="0.9" stop-color="#f69b06"/><stop offset="1" stop-color="#f69707"/></linearGradient>
<linearGradient id="d143" x1="0" y1="0" x2="0" y2="1"><stop offset="0" stop-color="#f8ab05"/><stop offset="0.1" stop-color="#f9b205"/><stop offset="0.2" stop-color="#f9b604"/><stop offset="0.3" stop-color="#f9b804"/><stop offset="0.4" stop-color="#f9b704"/><stop offset="0.5" stop-color="#f9b504"/><stop offset="0.6" stop-color="#f9b105"/><stop offset="0.7" stop-color="#f8ac05"/><stop offset="0.8" stop-color="#f8a705"/><stop offset="0.9" stop-color="#f7a206"/><stop offset="1" stop-color="#f79d06"/></linearGradient>
<linearGradient id="d144" x1="0" y1="0" x2="0" y2="1"><stop offset="0" stop-color="#f8af05"/><stop offset="0.1" stop-color="#f9b704"/><stop offset="0.2" stop-color="#fabd04"/><stop offset="0.3" stop-color="#fabf04"/><stop offset="0.4" stop-color="#fabf04"/><stop offset="0.5" stop-color="#fabc04"/><stop offset="0.6" stop-color="#f9b904"/><stop offset="0.7" stop-color="#f9b404"/><stop offset="0.8" stop-color="#f8ae05"/><stop offset="0.9" stop-color="#f8a905"/><stop offset="1" stop-color="#f7a306"/></linearGradient>
<linearGradient id="d145" x1="0" y1="0" x2="0" y2="1"><stop offset="0" stop-color="#f9b304"/><stop offset="0.1" stop-color="#fabd04"/><stop offset="0.2" stop-color="#fac303"/><stop offset="0.3" stop-color="#fbc603"/><stop offset="0.4" stop-color="#fbc603"/><stop offset="0.5" stop-color="#fbc403"/><stop offset="0.6" stop-color="#fac103"/><stop offset="0.7" stop-color="#fabb04"/><stop offset="0.8" stop-color="#f9b604"/><stop offset="0.9" stop-color="#f8af05"/><stop offset="1" stop-color="#f8a905"/></linearGradient>
<linearGradient id="d146" x1="0" y1="0" x2="0" y2="1"><stop offset="0" stop-color="#f9b704"/><stop offset="0.1" stop-color="#fac203"/><stop offset="0.2" stop-color="#fbc903"/><stop offset="0.3" stop-color="#fccd02"/><stop offset="0.4" stop-color="#fcce02"/><stop offset="0.5" stop-color="#fbcc03"/><stop offset="0.6" stop-color="#fbc803"/><stop offset="0.7" stop-color="#fac303"/><stop offset="0.8" stop-color="#fabd04"/><stop offset="0.9" stop-color="#f9b604"/><stop offset="1" stop-color="#f8ae05"/></linearGradient>
<linearGradient id="d147" x1="0" y1="0" x2="0" y2="1"><stop offset="0" stop-color="#fabb04"/><stop offset="0.1" stop-color="#fbc703"/><stop offset="0.2" stop-color="#fccf02"/><stop offset="0.3" stop-color="#fcd402"/><stop offset="0.4" stop-color="#fcd502"/><stop offset="0.5" stop-color="#fcd402"/><stop offset="0.6" stop-color="#fcd002"/><stop offset="0.7" stop-color="#fbcb03"/><stop offset="0.8" stop-color="#fbc403"/><stop offset="0.9" stop-color="#fabc04"/><stop offset="1" stop-color="#f9b404"/></linearGradient>
<linearGradient id="d148" x1="0" y1="0" x2="0" y2="1"><stop offset="0" stop-color="#fabf04"/><stop offset="0.1" stop-color="#fbcc03"/><stop offset="0.2" stop-color="#fcd502"/><stop offset="0.3" stop-color="#fddb01"/><stop offset="0.4" stop-color="#fddc01"/><stop offset="0.5" stop-color="#fddb01"/><stop offset="0.6" stop-color="#fdd802"/><stop offset="0.7" stop-color="#fcd202"/><stop offset="0.8" stop-color="#fbcb03"/><stop offset="0.9" stop-color="#fac303"/><stop offset="1" stop-color="#f9ba04"/></linearGradient>
<linearGradient id="d149" x1="0" y1="0" x2="0" y2="1"><stop offset="0" stop-color="#fac303"/><stop offset="0.1" stop-color="#fcd102"/><stop offset="0.2" stop-color="#fddb01"/><stop offset="0.3" stop-color="#fee101"/><stop offset="0.4" stop-color="#fee401"/><stop offset="0.5" stop-color="#fee301"/><stop offset="0.6" stop-color="#fddf01"/><stop offset="0.7" stop-color="#fdd902"/><stop offset="0.8" stop-color="#fcd202"/><stop offset="0.9" stop-color="#fbc903"/><stop offset="1" stop-color="#fabf04"/></linearGradient>
<linearGradient id="d150" x1="0" y1="0" x2="0" y2="1"><stop offset="0" stop-color="#fbc703"/><stop offset="0.1" stop-color="#fcd602"/><stop offset="0.2" stop-color="#fee101"/><stop offset="0.3" stop-color="#fee800"/><stop offset="0.4" stop-color="#ffea00"/><stop offset="0.5" stop-color="#ffea00"/><stop offset="0.6" stop-color="#fee601"/><stop offset="0.7" stop-color="#fee101"/><stop offset="0.8" stop-color="#fdd902"/><stop offset="0.9" stop-color="#fccf02"/><stop offset="1" stop-color="#fbc403"/></linearGradient>
<linearGradient id="d151" x1="0" y1="0" x2="0" y2="1"><stop offset="0" stop-color="#fbcb03"/><stop offset="0.1" stop-color="#fddb01"/><stop offset="0.2" stop-color="#fee601"/><stop offset="0.3" stop-color="#ffee00"/><stop offset="0.4" stop-color="#feed00"/><stop offset="0.5" stop-color="#feed00"/><stop offset="0.6" stop-color="#ffee00"/><stop offset="0.7" stop-color="#fee800"/><stop offset="0.8" stop-color="#fde001"/><stop offset="0.9" stop-color="#fcd502"/><stop offset="1" stop-color="#fbca03"/></linearGradient>
<linearGradient id="d152" x1="0" y1="0" x2="0" y2="1"><stop offset="0" stop-color="#fcce02"/><stop offset="0.1" stop-color="#fddf01"/><stop offset="0.2" stop-color="#ffec00"/><stop offset="0.3" stop-color="#fdeb00"/><stop offset="0.4" stop-color="#fbea00"/><stop offset="0.5" stop-color="#fbea00"/><stop offset="0.6" stop-color="#fdeb00"/><stop offset="0.7" stop-color="#ffee00"/><stop offset="0.8" stop-color="#fee601"/><stop offset="0.9" stop-color="#fddb01"/><stop offset="1" stop-color="#fccf02"/></linearGradient>
<linearGradient id="d153" x1="0" y1="0" x2="0" y2="1"><stop offset="0" stop-color="#fcd202"/><stop offset="0.1" stop-color="#fee401"/><stop offset="0.2" stop-color="#feed00"/><stop offset="0.3" stop-color="#fbe900"/><stop offset="0.4" stop-color="#fae908"/><stop offset="0.5" stop-color="#fae909"/><stop offset="0.6" stop-color="#fae800"/><stop offset="0.7" stop-color="#fceb00"/><stop offset="0.8" stop-color="#ffed00"/><stop offset="0.9" stop-color="#fee101"/><stop offset="1" stop-color="#fcd402"/></linearGradient>
<linearGradient id="d154" x1="0" y1="0" x2="0" y2="1"><stop offset="0" stop-color="#fcd502"/><stop offset="0.1" stop-color="#fee800"/><stop offset="0.2" stop-color="#fcea00"/><stop offset="0.3" stop-color="#fbe90c"/><stop offset="0.4" stop-color="#fbeb1a"/><stop offset="0.5" stop-color="#fbeb1c"/><stop offset="0.6" stop-color="#fbea13"/><stop offset="0.7" stop-color="#fae801"/><stop offset="0.8" stop-color="#fdec00"/><stop offset="0.9" stop-color="#fee701"/><stop offset="1" stop-color="#fdd902"/></linearGradient>
<linearGradient id="d155" x1="0" y1="0" x2="0" y2="1"><stop offset="0" stop-color="#fdd802"/><stop offset="0.1" stop-color="#ffed00"/><stop offset="0.2" stop-color="#fae800"/><stop offset="0.3" stop-color="#fbeb1c"/><stop offset="0.4" stop-color="#fced2c"/><stop offset="0.5" stop-color="#fced2e"/><stop offset="0.6" stop-color="#fcec26"/><stop offset="0.7" stop-color="#fbea13"/><stop offset="0.8" stop-color="#fbe900"/><stop offset="0.9" stop-color="#ffed00"/><stop offset="1" stop-color="#fdde01"/></linearGradient>
<linearGradient id="d156" x1="0" y1="0" x2="0" y2="1"><stop offset="0" stop-color="#fddc01"/><stop offset="0.1" stop-color="#feed00"/><stop offset="0.2" stop-color="#fbe90e"/><stop offset="0.3" stop-color="#fced2c"/><stop offset="0.4" stop-color="#fdee3d"/><stop offset="0.5" stop-color="#fdef40"/><stop offset="0.6" stop-color="#fdee38"/><stop offset="0.7" stop-color="#fcec25"/><stop offset="0.8" stop-color="#fae909"/><stop offset="0.9" stop-color="#fdec00"/><stop offset="1" stop-color="#fee301"/></linearGradient>
<linearGradient id="d157" x1="0" y1="0" x2="0" y2="1"><stop offset="0" stop-color="#fddf01"/><stop offset="0.1" stop-color="#fdeb00"/><stop offset="0.2" stop-color="#fbeb1b"/><stop offset="0.3" stop-color="#fdee3c"/><stop offset="0.4" stop-color="#fdf048"/><stop offset="0.5" stop-color="#fdf04b"/><stop offset="0.6" stop-color="#fdef46"/><stop offset="0.7" stop-color="#fcee37"/><stop offset="0.8" stop-color="#fbeb1a"/><stop offset="0.9" stop-color="#fcea00"/><stop offset="1" stop-color="#fee701"/></linearGradient>
<linearGradient id="d158" x1="0" y1="0" x2="0" y2="1"><stop offset="0" stop-color="#fee201"/><stop offset="0.1" stop-color="#fbe900"/><stop offset="0.2" stop-color="#fcec29"/><stop offset="0.3" stop-color="#fdef47"/><stop offset="0.4" stop-color="#fdf051"/><stop offset="0.5" stop-color="#fdf154"/><stop offset="0.6" stop-color="#fdf050"/><stop offset="0.7" stop-color="#fdef45"/><stop offset="0.8" stop-color="#fcec2a"/><stop offset="0.9" stop-color="#fae803"/><stop offset="1" stop-color="#ffec00"/></linearGradient>
<linearGradient id="d159" x1="0" y1="0" x2="0" y2="1"><stop offset="0" stop-color="#fee501"/><stop offset="0.1" stop-color="#fae802"/><stop offset="0.2" stop-color="#fcee36"/><stop offset="0.3" stop-color="#fdf04f"/><stop offset="0.4" stop-color="#fdf15a"/><stop offset="0.5" stop-color="#fdf15d"/><stop offset="0.6" stop-color="#fdf159"/><stop offset="0.7" stop-color="#fdf04e"/><stop offset="0.8" stop-color="#fdee3a"/><stop offset="0.9" stop-color="#fbea11"/><stop offset="1" stop-color="#feed00"/></linearGradient>
<linearGradient id="d160" x1="0" y1="0" x2="0" y2="1"><stop offset="0" stop-color="#fee701"/><stop offset="0.1" stop-color="#fbe90c"/><stop offset="0.2" stop-color="#fdef42"/><stop offset="0.3" stop-color="#fdf156"/><stop offset="0.4" stop-color="#fdf262"/><stop offset="0.5" stop-color="#fdf265"/><stop offset="0.6" stop-color="#fdf261"/><stop offset="0.7" stop-color="#fdf157"/><stop offset="0.8" stop-color="#fdef46"/><stop offset="0.9" stop-color="#fbeb20"/><stop offset="1" stop-color="#fdeb00"/></linearGradient>
<linearGradient id="d161" x1="0" y1="0" x2="0" y2="1"><stop offset="0" stop-color="#ffea00"/><stop offset="0.1" stop-color="#fbea16"/><stop offset="0.2" stop-color="#fdf048"/><stop offset="0.3" stop-color="#fdf15e"/><stop offset="0.4" stop-color="#fdf26a"/><stop offset="0.5" stop-color="#fdf36e"/><stop offset="0.6" stop-color="#fdf26a"/><stop offset="0.7" stop-color="#fdf15f"/><stop offset="0.8" stop-color="#fdf04e"/><stop offset="0.9" stop-color="#fced2d"/><stop offset="1" stop-color="#fbe900"/></linearGradient>
<linearGradient id="d162" x1="0" y1="0" x2="0" y2="1"><stop offset="0" stop-color="#ffed00"/><stop offset="0.1" stop-color="#fbeb20"/><stop offset="0.2" stop-color="#fdf04f"/><stop offset="0.3" stop-color="#fdf265"/><stop offset="0.4" stop-color="#fef372"/><stop offset="0.5" stop-color="#fef376"/><stop offset="0.6" stop-color="#fef372"/><stop offset="0.7" stop-color="#fdf267"/><stop offset="0.8" stop-color="#fdf156"/><stop offset="0.9" stop-color="#fdee3a"/><stop offset="1" stop-color="#fae803"/></linearGradient>
<linearGradient id="d163" x1="0" y1="0" x2="0" y2="1"><stop offset="0" stop-color="#ffed00"/><stop offset="0.1" stop-color="#fcec29"/><stop offset="0.2" stop-color="#fdf155"/><stop offset="0.3" stop-color="#fdf36b"/><stop offset="0.4" stop-color="#fef479"/><stop offset="0.5" stop-color="#fef47e"/><stop offset="0.6" stop-color="#fef47a"/><stop offset="0.7" stop-color="#fdf36f"/><stop offset="0.8" stop-color="#fdf15d"/><stop offset="0.9" stop-color="#fdef45"/><stop offset="1" stop-color="#fbea0e"/></linearGradient>
<linearGradient id="d164" x1="0" y1="0" x2="0" y2="1"><stop offset="0" stop-color="#feec00"/><stop offset="0.1" stop-color="#fced32"/><stop offset="0.2" stop-color="#fdf15a"/><stop offset="0.3" stop-color="#fef372"/><stop offset="0.4" stop-color="#fef480"/><stop offset="0.5" stop-color="#fef585"/><stop offset="0.6" stop-color="#fef482"/><stop offset="0.7" stop-color="#fef377"/><stop offset="0.8" stop-color="#fdf265"/><stop offset="0.9" stop-color="#fdf04b"/><stop offset="1" stop-color="#fbeb19"/></linearGradient>
<linearGradient id="d165" x1="0" y1="0" x2="0" y2="1"><stop offset="0" stop-color="#fdeb00"/><stop offset="0.1" stop-color="#fdee3a"/><stop offset="0.2" stop-color="#fdf260"/><stop offset="0.3" stop-color="#fef478"/><stop offset="0.4" stop-color="#fef587"/><stop offset="0.5" stop-color="#fef58c"/><stop offset="0.6" stop-color="#fef589"/><stop offset="0.7" stop-color="#fef47e"/><stop offset="0.8" stop-color="#fdf36c"/><stop offset="0.9" stop-color="#fdf052"/><stop offset="1" stop-color="#fcec23"/></linearGradient>
<linearGradient id="d166" x1="0" y1="0" x2="0" y2="1"><stop offset="0" stop-color="#fceb00"/><stop offset="0.1" stop-color="#fdef42"/><stop offset="0.2" stop-color="#fdf265"/><stop offset="0.3" stop-color="#fef47e"/><stop offset="0.4" stop-color="#fef58d"/><stop offset="0.5" stop-color="#fef693"/><stop offset="0.6" stop-color="#fef690"/><stop offset="0.7" stop-color="#fef585"/><stop offset="0.8" stop-color="#fef372"/><stop offset="0.9" stop-color="#fdf158"/><stop offset="1" stop-color="#fced2d"/></linearGradient>
<linearGradient id="d167" x1="0" y1="0" x2="0" y2="1"><stop offset="0" stop-color="#fbea00"/><stop offset="0.1" stop-color="#fdef46"/><stop offset="0.2" stop-color="#fdf26a"/><stop offset="0.3" stop-color="#fef584"/><stop offset="0.4" stop-color="#fef694"/><stop offset="0.5" stop-color="#fef69a"/><stop offset="0.6" stop-color="#fef697"/><stop offset="0.7" stop-color="#fef58c"/><stop offset="0.8" stop-color="#fef479"/><stop offset="0.9" stop-color="#fdf15e"/><stop offset="1" stop-color="#fcee37"/></linearGradient>
<linearGradient id="d168" x1="0" y1="0" x2="0" y2="1"><stop offset="0" stop-color="#fbe900"/><stop offset="0.1" stop-color="#fdf04a"/><stop offset="0.2" stop-color="#fdf36f"/><stop offset="0.3" stop-color="#fef589"/><stop offset="0.4" stop-color="#fef699"/><stop offset="0.5" stop-color="#fef7a0"/><stop offset="0.6" stop-color="#fef79d"/><stop offset="0.7" stop-color="#fef692"/><stop offset="0.8" stop-color="#fef47f"/><stop offset="0.9" stop-color="#fdf264"/><stop offset="1" stop-color="#fdef40"/></linearGradient>
<linearGradient id="d169" x1="0" y1="0" x2="0" y2="1"><stop offset="0" stop-color="#fae800"/><stop offset="0.1" stop-color="#fdf04e"/><stop offset="0.2" stop-color="#fef373"/><stop offset="0.3" stop-color="#fef58e"/><stop offset="0.4" stop-color="#fef79f"/><stop offset="0.5" stop-color="#fef7a6"/><stop offset="0.6" stop-color="#fef7a3"/><stop offset="0.7" stop-color="#fef698"/><stop offset="0.8" stop-color="#fef585"/><stop offset="0.9" stop-color="#fdf269"/><stop offset="1" stop-color="#fdef46"/></linearGradient>
<linearGradient id="d170" x1="0" y1="0" x2="0" y2="1"><stop offset="0" stop-color="#fae905"/><stop offset="0.1" stop-color="#fdf052"/><stop offset="0.2" stop-color="#fef478"/><stop offset="0.3" stop-color="#fef693"/><stop offset="0.4" stop-color="#fef7a4"/><stop offset="0.5" stop-color="#fef8ac"/><stop offset="0.6" stop-color="#fef8a9"/><stop offset="0.7" stop-color="#fef79e"/><stop offset="0.8" stop-color="#fef58a"/><stop offset="0.9" stop-color="#fdf36e"/><stop offset="1" stop-color="#fdf04a"/></linearGradient>
<linearGradient id="d171" x1="0" y1="0" x2="0" y2="1"><stop offset="0" stop-color="#fae909"/><stop offset="0.1" stop-color="#fdf155"/><stop offset="0.2" stop-color="#fef47c"/><stop offset="0.3" stop-color="#fef698"/><stop offset="0.4" stop-color="#fef8a9"/><stop offset="0.5" stop-color="#fef8b1"/><stop offset="0.6" stop-color="#fef8af"/><stop offset="0.7" stop-color="#fef7a4"/><stop offset="0.8" stop-color="#fef690"/><stop offset="0.9" stop-color="#fef373"/><stop offset="1" stop-color="#fdf04f"/></linearGradient>
<linearGradient id="d172" x1="0" y1="0" x2="0" y2="1"><stop offset="0" stop-color="#fbe90e"/><stop offset="0.1" stop-color="#fdf158"/><stop offset="0.2" stop-color="#fef47f"/><stop offset="0.3" stop-color="#fef79c"/><stop offset="0.4" stop-color="#fef8ae"/><stop offset="0.5" stop-color="#fef9b6"/><stop offset="0.6" stop-color="#fef9b4"/><stop offset="0.7" stop-color="#fef8a9"/><stop offset="0.8" stop-color="#fef695"/><stop offset="0.9" stop-color="#fef478"/><stop offset="1" stop-color="#fdf053"/></linearGradient>
<linearGradient id="d173" x1="0" y1="0" x2="0" y2="1"><stop offset="0" stop-color="#fbea12"/><stop offset="0.1" stop-color="#fdf15b"/><stop offset="0.2" stop-color="#fef483"/><stop offset="0.3" stop-color="#fef7a0"/><stop offset="0.4" stop-color="#fef9b2"/><stop offset="0.5" stop-color="#fef9ba"/><stop offset="0.6" stop-color="#fef9b9"/><stop offset="0.7" stop-color="#fef8ae"/><stop offset="0.8" stop-color="#fef699"/><stop offset="0.9" stop-color="#fef47c"/><stop offset="1" stop-color="#fdf157"/></linearGradient>
<linearGradient id="d174" x1="0" y1="0" x2="0" y2="1"><stop offset="0" stop-color="#fbea15"/><stop offset="0.1" stop-color="#fdf15d"/><stop offset="0.2" stop-color="#fef586"/><stop offset="0.3" stop-color="#fef7a4"/><stop offset="0.4" stop-color="#fef9b6"/><stop offset="0.5" stop-color="#fefabf"/><stop offset="0.6" stop-color="#fef9bd"/><stop offset="0.7" stop-color="#fef8b2"/><stop offset="0.8" stop-color="#fef79e"/><stop offset="0.9" stop-color="#fef480"/><stop offset="1" stop-color="#fdf15a"/></linearGradient>
<linearGradient id="d175" x1="0" y1="0" x2="0" y2="1"><stop offset="0" stop-color="#fbeb18"/><stop offset="0.1" stop-color="#fdf260"/><stop offset="0.2" stop-color="#fef589"/><stop offset="0.3" stop-color="#fef8a7"/><stop offset="0.4" stop-color="#fef9ba"/><stop offset="0.5" stop-color="#fefac3"/><stop offset="0.6" stop-color="#fefac1"/><stop offset="0.7" stop-color="#fef9b6"/><stop offset="0.8" stop-color="#fef7a2"/><stop offset="0.9" stop-color="#fef584"/><stop offset="1" stop-color="#fdf15e"/></linearGradient>
<linearGradient id="d176" x1="0" y1="0" x2="0" y2="1"><stop offset="0" stop-color="#fbeb1b"/><stop offset="0.1" stop-color="#fdf262"/><stop offset="0.2" stop-color="#fef58b"/><stop offset="0.3" stop-color="#fef8aa"/><stop offset="0.4" stop-color="#fef9be"/><stop offset="0.5" stop-color="#fefac7"/><stop offset="0.6" stop-color="#fefac5"/><stop offset="0.7" stop-color="#fef9ba"/><stop offset="0.8" stop-color="#fef7a6"/><stop offset="0.9" stop-color="#fef588"/><stop offset="1" stop-color="#fdf261"/></linearGradient>
<linearGradient id="d177" x1="0" y1="0" x2="0" y2="1"><stop offset="0" stop-color="#fbeb1e"/><stop offset="0.1" stop-color="#fdf264"/><stop offset="0.2" stop-color="#fef58e"/><stop offset="0.3" stop-color="#fef8ad"/><stop offset="0.4" stop-color="#fefac1"/><stop offset="0.5" stop-color="#fefbca"/><stop offset="0.6" stop-color="#fefac9"/><stop offset="0.7" stop-color="#fef9be"/><stop offset="0.8" stop-color="#fef8a9"/><stop offset="0.9" stop-color="#fef58b"/><stop offset="1" stop-color="#fdf264"/></linearGradient>
<linearGradient id="d178" x1="0" y1="0" x2="0" y2="1"><stop offset="0" stop-color="#fbeb20"/><stop offset="0.1" stop-color="#fdf265"/><stop offset="0.2" stop-color="#fef690"/><stop offset="0.3" stop-color="#fef8af"/><stop offset="0.4" stop-color="#fefac4"/><stop offset="0.5" stop-color="#fefbcd"/><stop offset="0.6" stop-color="#fefbcc"/><stop offset="0.7" stop-color="#fefac1"/><stop offset="0.8" stop-color="#fef8ad"/><stop offset="0.9" stop-color="#fef58e"/><stop offset="1" stop-color="#fdf267"/></linearGradient>
<linearGradient id="d179" x1="0" y1="0" x2="0" y2="1"><stop offset="0" stop-color="#fcec22"/><stop offset="0.1" stop-color="#fdf267"/><stop offset="0.2" stop-color="#fef692"/><stop offset="0.3" stop-color="#fef8b2"/><stop offset="0.4" stop-color="#fefac6"/><stop offset="0.5" stop-color="#fffbd0"/><stop offset="0.6" stop-color="#fefbcf"/><stop offset="0.7" stop-color="#fefac4"/><stop offset="0.8" stop-color="#fef8b0"/><stop offset="0.9" stop-color="#fef691"/><stop offset="1" stop-color="#fdf269"/></linearGradient>
<linearGradient id="d180" x1="0" y1="0" x2="0" y2="1"><stop offset="0" stop-color="#fcec24"/><stop offset="0.1" stop-color="#fdf268"/><stop offset="0.2" stop-color="#fef693"/><stop offset="0.3" stop-color="#fef9b4"/><stop offset="0.4" stop-color="#fefac8"/><stop offset="0.5" stop-color="#fffbd2"/><stop offset="0.6" stop-color="#fffbd2"/><stop offset="0.7" stop-color="#fefac7"/><stop offset="0.8" stop-color="#fef8b2"/><stop offset="0.9" stop-color="#fef694"/><stop offset="1" stop-color="#fdf36b"/></linearGradient>
<linearGradient id="d181" x1="0" y1="0" x2="0" y2="1"><stop offset="0" stop-color="#fcec25"/><stop offset="0.1" stop-color="#fdf269"/><stop offset="0.2" stop-color="#fef695"/><stop offset="0.3" stop-color="#fef9b5"/><stop offset="0.4" stop-color="#fefbca"/><stop offset="0.5" stop-color="#fffbd4"/><stop offset="0.6" stop-color="#fffbd4"/><stop offset="0.7" stop-color="#fefac9"/><stop offset="0.8" stop-color="#fef9b5"/><stop offset="0.9" stop-color="#fef696"/><stop offset="1" stop-color="#fdf36e"/></linearGradient>
<linearGradient id="d182" x1="0" y1="0" x2="0" y2="1"><stop offset="0" stop-color="#fcec26"/><stop offset="0.1" stop-color="#fdf26a"/><stop offset="0.2" stop-color="#fef696"/><stop offset="0.3" stop-color="#fef9b7"/><stop offset="0.4" stop-color="#fefbcc"/><stop offset="0.5" stop-color="#fffcd6"/><stop offset="0.6" stop-color="#fffcd6"/><stop offset="0.7" stop-color="#fefbcb"/><stop offset="0.8" stop-color="#fef9b7"/><stop offset="0.9" stop-color="#fef698"/><stop offset="1" stop-color="#fdf36f"/></linearGradient>
<linearGradient id="d183" x1="0" y1="0" x2="0" y2="1"><stop offset="0" stop-color="#fcec27"/><stop offset="0.1" stop-color="#fdf26b"/><stop offset="0.2" stop-color="#fef697"/><stop offset="0.3" stop-color="#fef9b8"/><stop offset="0.4" stop-color="#fefbcd"/><stop offset="0.5" stop-color="#fffcd8"/><stop offset="0.6" stop-color="#fffcd8"/><stop offset="0.7" stop-color="#fefbcd"/><stop offset="0.8" stop-color="#fef9b9"/><stop offset="0.9" stop-color="#fef69a"/><stop offset="1" stop-color="#fdf371"/></linearGradient>
<linearGradient id="d184" x1="0" y1="0" x2="0" y2="1"><stop offset="0" stop-color="#fcec28"/><stop offset="0.1" stop-color="#fdf26b"/><stop offset="0.2" stop-color="#fef697"/><stop offset="0.3" stop-color="#fef9b8"/><stop offset="0.4" stop-color="#fefbce"/><stop offset="0.5" stop-color="#fffcd9"/><stop offset="0.6" stop-color="#fffcd9"/><stop offset="0.7" stop-color="#fefbcf"/><stop offset="0.8" stop-color="#fef9ba"/><stop offset="0.9" stop-color="#fef79b"/><stop offset="1" stop-color="#fef372"/></linearGradient>
<linearGradient id="d185" x1="0" y1="0" x2="0" y2="1"><stop offset="0" stop-color="#fcec28"/><stop offset="0.1" stop-color="#fdf26b"/><stop offset="0.2" stop-color="#fef698"/><stop offset="0.3" stop-color="#fef9b9"/><stop offset="0.4" stop-color="#fefbcf"/><stop offset="0.5" stop-color="#fffcda"/><stop offset="0.6" stop-color="#fffcda"/><stop offset="0.7" stop-color="#fffbd0"/><stop offset="0.8" stop-color="#fef9bb"/><stop offset="0.9" stop-color="#fef79c"/><stop offset="1" stop-color="#fef374"/></linearGradient>
<linearGradient id="d186" x1="0" y1="0" x2="0" y2="1"><stop offset="0" stop-color="#fcec27"/><stop offset="0.1" stop-color="#fdf26b"/><stop offset="0.2" stop-color="#fef698"/><stop offset="0.3" stop-color="#fef9b9"/><stop offset="0.4" stop-color="#fefbcf"/><stop offset="0.5" stop-color="#fffcda"/><stop offset="0.6" stop-color="#fffcdb"/><stop offset="0.7" stop-color="#fffbd1"/><stop offset="0.8" stop-color="#fef9bc"/><stop offset="0.9" stop-color="#fef79d"/><stop offset="1" stop-color="#fef375"/></linearGradient>
<linearGradient id="d187" x1="0" y1="0" x2="0" y2="1"><stop offset="0" stop-color="#fcec27"/><stop offset="0.1" stop-color="#fdf26b"/><stop offset="0.2" stop-color="#fef698"/><stop offset="0.3" stop-color="#fef9b9"/><stop offset="0.4" stop-color="#fefbcf"/><stop offset="0.5" stop-color="#fffcdb"/><stop offset="0.6" stop-color="#fffcdb"/><stop offset="0.7" stop-color="#fffbd1"/><stop offset="0.8" stop-color="#fef9bd"/><stop offset="0.9" stop-color="#fef79e"/><stop offset="1" stop-color="#fef375"/></linearGradient>
<linearGradient id="d188" x1="0" y1="0" x2="0" y2="1"><stop offset="0" stop-color="#fcec26"/><stop offset="0.1" stop-color="#fdf26a"/><stop offset="0.2" stop-color="#fef697"/><stop offset="0.3" stop-color="#fef9b9"/><stop offset="0.4" stop-color="#fefbcf"/><stop offset="0.5" stop-color="#fffcdb"/><stop offset="0.6" stop-color="#fffcdb"/><stop offset="0.7" stop-color="#fffbd1"/><stop offset="0.8" stop-color="#fef9bd"/><stop offset="0.9" stop-color="#fef79f"/><stop offset="1" stop-color="#fef376"/></linearGradient>
<linearGradient id="d189" x1="0" y1="0" x2="0" y2="1"><stop offset="0" stop-color="#fcec25"/><stop offset="0.1" stop-color="#fdf26a"/><stop offset="0.2" stop-color="#fef696"/><stop offset="0.3" stop-color="#fef9b8"/><stop offset="0.4" stop-color="#fefbcf"/><stop offset="0.5" stop-color="#fffcda"/><stop offset="0.6" stop-color="#fffcdb"/><stop offset="0.7" stop-color="#fffbd1"/><stop offset="0.8" stop-color="#fef9bd"/><stop offset="0.9" stop-color="#fef79f"/><stop offset="1" stop-color="#fef376"/></linearGradient>
<linearGradient id="d190" x1="0" y1="0" x2="0" y2="1"><stop offset="0" stop-color="#fcec23"/><stop offset="0.1" stop-color="#fdf269"/><stop offset="0.2" stop-color="#fef695"/><stop offset="0.3" stop-color="#fef9b7"/><stop offset="0.4" stop-color="#fefbce"/><stop offset="0.5" stop-color="#fffcda"/><stop offset="0.6" stop-color="#fffcda"/><stop offset="0.7" stop-color="#fffbd1"/><stop offset="0.8" stop-color="#fef9bd"/><stop offset="0.9" stop-color="#fef79f"/><stop offset="1" stop-color="#fef376"/></linearGradient>
<clipPath id="dc"><rect x="118.5" y="58.5" width="370" height="309"/></clipPath>
<linearGradient id="i0"><stop offset="0" stop-color="#ffffff"/><stop offset="0.04" stop-color="#ffffff"/><stop offset="0.08" stop-color="#ffffff"/><stop offset="0.12" stop-color="#ffffff"/><stop offset="0.17" stop-color="#ffffff"/><stop offset="0.21" stop-color="#ffffff"/><stop offset="0.25" stop-color="#ffffff"/><stop offset="0.29" stop-color="#ffffff"/><stop offset="0.33" stop-color="#fffffb"/><stop offset="0.38" stop-color="#fffeef"/><stop offset="0.42" stop-color="#fffde5"/><stop offset="0.46" stop-color="#fffcde"/><stop offset="0.5" stop-color="#fffcdb"/><stop offset="0.54" stop-color="#fffcdc"/><stop offset="0.58" stop-color="#fffce0"/><stop offset="0.62" stop-color="#fffde5"/><stop offset="0.67" stop-color="#fffded"/><stop offset="0.71" stop-color="#fffef6"/><stop offset="0.75" stop-color="#ffffff"/><stop offset="0.79" stop-color="#ffffff"/><stop offset="0.83" stop-color="#ffffff"/><stop offset="0.88" stop-color="#ffffff"/><stop offset="0.92" stop-color="#ffffff"/><stop offset="0.96" stop-color="#ffffff"/><stop offset="1" stop-color="#ffffff"/></linearGradient>
<linearGradient id="i1"><stop offset="0" stop-color="#ffffff"/><stop offset="0.04" stop-color="#ffffff"/><stop offset="0.08" stop-color="#ffffff"/><stop offset="0.12" stop-color="#ffffff"/><stop offset="0.17" stop-color="#ffffff"/><stop offset="0.21" stop-color="#ffffff"/><stop offset="0.25" stop-color="#ffffff"/><stop offset="0.29" stop-color="#ffffff"/><stop offset="0.33" stop-color="#fffef1"/><stop offset="0.38" stop-color="#fffde3"/><stop offset="0.42" stop-color="#fffcd6"/><stop offset="0.46" stop-color="#fefbce"/><stop offset="0.5" stop-color="#fefbcb"/><stop offset="0.54" stop-color="#fefbcc"/><stop offset="0.58" stop-color="#fffbd1"/><stop offset="0.62" stop-color="#fffcd7"/><stop offset="0.67" stop-color="#fffce1"/><stop offset="0.71" stop-color="#fffdec"/><stop offset="0.75" stop-color="#fffef8"/><stop offset="0.79" stop-color="#ffffff"/><stop offset="0.83" stop-color="#ffffff"/><stop offset="0.88" stop-color="#ffffff"/><stop offset="0.92" stop-color="#ffffff"/><stop offset="0.96" stop-color="#ffffff"/><stop offset="1" stop-color="#ffffff"/></linearGradient>
<linearGradient id="i2"><stop offset="0" stop-color="#ffffff"/><stop offset="0.04" stop-color="#ffffff"/><stop offset="0.08" stop-color="#ffffff"/><stop offset="0.12" stop-color="#ffffff"/><stop offset="0.17" stop-color="#ffffff"/><stop offset="0.21" stop-color="#ffffff"/><stop offset="0.25" stop-color="#ffffff"/><stop offset="0.29" stop-color="#fffef7"/><stop offset="0.33" stop-color="#fffde5"/><stop offset="0.38" stop-color="#fffbd4"/><stop offset="0.42" stop-color="#fefac5"/><stop offset="0.46" stop-color="#fef9bd"/><stop offset="0.5" stop-color="#fef9b9"/><stop offset="0.54" stop-color="#fef9bb"/><stop offset="0.58" stop-color="#fefac0"/><stop offset="0.62" stop-color="#fefac7"/><stop offset="0.67" stop-color="#fffbd2"/><stop offset="0.71" stop-color="#fffce0"/><stop offset="0.75" stop-color="#fffeee"/><stop offset="0.79" stop-color="#fffffc"/><stop offset="0.83" stop-color="#ffffff"/><stop offset="0.88" stop-color="#ffffff"/><stop offset="0.92" stop-color="#ffffff"/><stop offset="0.96" stop-color="#ffffff"/><stop offset="1" stop-color="#ffffff"/></linearGradient>
<linearGradient id="i3"><stop offset="0" stop-color="#ffffff"/><stop offset="0.04" stop-color="#ffffff"/><stop offset="0.08" stop-color="#ffffff"/><stop offset="0.12" stop-color="#ffffff"/><stop offset="0.17" stop-color="#ffffff"/><stop offset="0.21" stop-color="#ffffff"/><stop offset="0.25" stop-color="#ffffff"/><stop offset="0.29" stop-color="#fffdec"/><stop offset="0.33" stop-color="#fffcd7"/><stop offset="0.38" stop-color="#fefac3"/><stop offset="0.42" stop-color="#fef9b3"/><stop offset="0.46" stop-color="#fef8aa"/><stop offset="0.5" stop-color="#fef7a6"/><stop offset="0.54" stop-color="#fef8a8"/><stop offset="0.58" stop-color="#fef8ae"/><stop offset="0.62" stop-color="#fef9b6"/><stop offset="0.67" stop-color="#fefac2"/><stop offset="0.71" stop-color="#fffbd1"/><stop offset="0.75" stop-color="#fffde2"/><stop offset="0.79" stop-color="#fffef2"/><stop offset="0.83" stop-color="#ffffff"/><stop offset="0.88" stop-color="#ffffff"/><stop offset="0.92" stop-color="#ffffff"/><stop offset="0.96" stop-color="#ffffff"/><stop offset="1" stop-color="#ffffff"/></linearGradient>
<linearGradient id="i4"><stop offset="0" stop-color="#ffffff"/><stop offset="0.04" stop-color="#ffffff"/><stop offset="0.08" stop-color="#ffffff"/><stop offset="0.12" stop-color="#ffffff"/><stop offset="0.17" stop-color="#ffffff"/><stop offset="0.21" stop-color="#ffffff"/><stop offset="0.25" stop-color="#fffef7"/><stop offset="0.29" stop-color="#fffce0"/><stop offset="0.33" stop-color="#fefac6"/><stop offset="0.38" stop-color="#fef8b0"/><stop offset="0.42" stop-color="#fef79f"/><stop offset="0.46" stop-color="#fef695"/><stop offset="0.5" stop-color="#fef692"/><stop offset="0.54" stop-color="#fef694"/><stop offset="0.58" stop-color="#fef69a"/><stop offset="0.62" stop-color="#fef7a3"/><stop offset="0.67" stop-color="#fef8b1"/><stop offset="0.71" stop-color="#fefac1"/><stop offset="0.75" stop-color="#fffbd4"/><stop offset="0.79" stop-color="#fffde7"/><stop offset="0.83" stop-color="#fffff9"/><stop offset="0.88" stop-color="#ffffff"/><stop offset="0.92" stop-color="#ffffff"/><stop offset="0.96" stop-color="#ffffff"/><stop offset="1" stop-color="#ffffff"/></linearGradient>
<linearGradient id="i5"><stop offset="0" stop-color="#ffffff"/><stop offset="0.04" stop-color="#ffffff"/><stop offset="0.08" stop-color="#ffffff"/><stop offset="0.12" stop-color="#ffffff"/><stop offset="0.17" stop-color="#ffffff"/><stop offset="0.21" stop-color="#ffffff"/><stop offset="0.25" stop-color="#fffdec"/><stop offset="0.29" stop-color="#fffbd1"/><stop offset="0.33" stop-color="#fef9b5"/><stop offset="0.38" stop-color="#fef79c"/><stop offset="0.42" stop-color="#fef58b"/><stop offset="0.46" stop-color="#fef481"/><stop offset="0.5" stop-color="#fef47e"/><stop offset="0.54" stop-color="#fef480"/><stop offset="0.58" stop-color="#fef586"/><stop offset="0.62" stop-color="#fef68f"/><stop offset="0.67" stop-color="#fef79e"/><stop offset="0.71" stop-color="#fef8b0"/><stop offset="0.75" stop-color="#fefac4"/><stop offset="0.79" stop-color="#fffcdb"/><stop offset="0.83" stop-color="#fffef0"/><stop offset="0.88" stop-color="#ffffff"/><stop offset="0.92" stop-color="#ffffff"/><stop offset="0.96" stop-color="#ffffff"/><stop offset="1" stop-color="#ffffff"/></linearGradient>
<linearGradient id="i6"><stop offset="0" stop-color="#ffffff"/><stop offset="0.04" stop-color="#ffffff"/><stop offset="0.08" stop-color="#ffffff"/><stop offset="0.12" stop-color="#ffffff"/><stop offset="0.17" stop-color="#ffffff"/><stop offset="0.21" stop-color="#fffffb"/><stop offset="0.25" stop-color="#fffce0"/><stop offset="0.29" stop-color="#fefac0"/><stop offset="0.33" stop-color="#fef7a1"/><stop offset="0.38" stop-color="#fef588"/><stop offset="0.42" stop-color="#fef377"/><stop offset="0.46" stop-color="#fdf36d"/><stop offset="0.5" stop-color="#fdf269"/><stop offset="0.54" stop-color="#fdf36c"/><stop offset="0.58" stop-color="#fef372"/><stop offset="0.62" stop-color="#fef47c"/><stop offset="0.67" stop-color="#fef58a"/><stop offset="0.71" stop-color="#fef79d"/><stop offset="0.75" stop-color="#fef9b3"/><stop offset="0.79" stop-color="#fefbcc"/><stop offset="0.83" stop-color="#fffde4"/><stop offset="0.88" stop-color="#fffffa"/><stop offset="0.92" stop-color="#ffffff"/><stop offset="0.96" stop-color="#ffffff"/><stop offset="1" stop-color="#ffffff"/></linearGradient>
<linearGradient id="i7"><stop offset="0" stop-color="#ffffff"/><stop offset="0.04" stop-color="#ffffff"/><stop offset="0.08" stop-color="#ffffff"/><stop offset="0.12" stop-color="#ffffff"/><stop offset="0.17" stop-color="#ffffff"/><stop offset="0.21" stop-color="#fffef2"/><stop offset="0.25" stop-color="#fffbd2"/><stop offset="0.29" stop-color="#fef8ae"/><stop offset="0.33" stop-color="#fef58d"/><stop offset="0.38" stop-color="#fef374"/><stop offset="0.42" stop-color="#fdf261"/><stop offset="0.46" stop-color="#fdf156"/><stop offset="0.5" stop-color="#fdf053"/><stop offset="0.54" stop-color="#fdf156"/><stop offset="0.58" stop-color="#fdf15d"/><stop offset="0.62" stop-color="#fdf269"/><stop offset="0.67" stop-color="#fef477"/><stop offset="0.71" stop-color="#fef589"/><stop offset="0.75" stop-color="#fef7a1"/><stop offset="0.79" stop-color="#fef9bb"/><stop offset="0.83" stop-color="#fffcd7"/><stop offset="0.88" stop-color="#fffef0"/><stop offset="0.92" stop-color="#ffffff"/><stop offset="0.96" stop-color="#ffffff"/><stop offset="1" stop-color="#ffffff"/></linearGradient>
<linearGradient id="i8"><stop offset="0" stop-color="#ffffff"/><stop offset="0.04" stop-color="#ffffff"/><stop offset="0.08" stop-color="#ffffff"/><stop offset="0.12" stop-color="#ffffff"/><stop offset="0.17" stop-color="#ffffff"/><stop offset="0.21" stop-color="#fffde7"/><stop offset="0.25" stop-color="#fefac2"/><stop offset="0.29" stop-color="#fef69a"/><stop offset="0.33" stop-color="#fef479"/><stop offset="0.38" stop-color="#fdf15e"/><stop offset="0.42" stop-color="#fdf04b"/><stop offset="0.46" stop-color="#fdef3f"/><stop offset="0.5" stop-color="#fdee39"/><stop offset="0.54" stop-color="#fdef3f"/><stop offset="0.58" stop-color="#fdef47"/><stop offset="0.62" stop-color="#fdf053"/><stop offset="0.67" stop-color="#fdf263"/><stop offset="0.71" stop-color="#fef377"/><stop offset="0.75" stop-color="#fef58e"/><stop offset="0.79" stop-color="#fef8aa"/><stop offset="0.83" stop-color="#fefac8"/><stop offset="0.88" stop-color="#fffde5"/><stop offset="0.92" stop-color="#fffffd"/><stop offset="0.96" stop-color="#ffffff"/><stop offset="1" stop-color="#ffffff"/></linearGradient>
<linearGradient id="i9"><stop offset="0" stop-color="#ffffff"/><stop offset="0.04" stop-color="#ffffff"/><stop offset="0.08" stop-color="#ffffff"/><stop offset="0.12" stop-color="#ffffff"/><stop offset="0.17" stop-color="#fffffc"/><stop offset="0.21" stop-color="#fffcdb"/><stop offset="0.25" stop-color="#fef8b0"/><stop offset="0.29" stop-color="#fef586"/><stop offset="0.33" stop-color="#fdf264"/><stop offset="0.38" stop-color="#fdef48"/><stop offset="0.42" stop-color="#fced2b"/><stop offset="0.46" stop-color="#fbeb1b"/><stop offset="0.5" stop-color="#fbea17"/><stop offset="0.54" stop-color="#fbeb1b"/><stop offset="0.58" stop-color="#fcec27"/><stop offset="0.62" stop-color="#fdee3a"/><stop offset="0.67" stop-color="#fdf04e"/><stop offset="0.71" stop-color="#fdf263"/><stop offset="0.75" stop-color="#fef47b"/><stop offset="0.79" stop-color="#fef697"/><stop offset="0.83" stop-color="#fef9b8"/><stop offset="0.88" stop-color="#fffcd9"/><stop offset="0.92" stop-color="#fffef5"/><stop offset="0.96" stop-color="#ffffff"/><stop offset="1" stop-color="#ffffff"/></linearGradient>
<linearGradient id="i10"><stop offset="0" stop-color="#ffffff"/><stop offset="0.04" stop-color="#ffffff"/><stop offset="0.08" stop-color="#ffffff"/><stop offset="0.12" stop-color="#ffffff"/><stop offset="0.17" stop-color="#fffef3"/><stop offset="0.21" stop-color="#fefbcc"/><stop offset="0.25" stop-color="#fef79e"/><stop offset="0.29" stop-color="#fef373"/><stop offset="0.33" stop-color="#fdf04e"/><stop offset="0.38" stop-color="#fcec26"/><stop offset="0.42" stop-color="#fbe90b"/><stop offset="0.46" stop-color="#fae801"/><stop offset="0.5" stop-color="#fae800"/><stop offset="0.54" stop-color="#fae801"/><stop offset="0.58" stop-color="#fae909"/><stop offset="0.62" stop-color="#fbeb19"/><stop offset="0.67" stop-color="#fced32"/><stop offset="0.71" stop-color="#fdf04e"/><stop offset="0.75" stop-color="#fdf268"/><stop offset="0.79" stop-color="#fef584"/><stop offset="0.83" stop-color="#fef7a6"/><stop offset="0.88" stop-color="#fefac9"/><stop offset="0.92" stop-color="#fffdea"/><stop offset="0.96" stop-color="#ffffff"/><stop offset="1" stop-color="#ffffff"/></linearGradient>
<linearGradient id="i11"><stop offset="0" stop-color="#ffffff"/><stop offset="0.04" stop-color="#ffffff"/><stop offset="0.08" stop-color="#ffffff"/><stop offset="0.12" stop-color="#ffffff"/><stop offset="0.17" stop-color="#fffdea"/><stop offset="0.21" stop-color="#fef9bd"/><stop offset="0.25" stop-color="#fef58b"/><stop offset="0.29" stop-color="#fdf15f"/><stop offset="0.33" stop-color="#fced31"/><stop offset="0.38" stop-color="#fae908"/><stop offset="0.42" stop-color="#fbe900"/><stop offset="0.46" stop-color="#fbea00"/><stop offset="0.5" stop-color="#fcea00"/><stop offset="0.54" stop-color="#fbea00"/><stop offset="0.58" stop-color="#fbe900"/><stop offset="0.62" stop-color="#fae800"/><stop offset="0.67" stop-color="#fbea12"/><stop offset="0.71" stop-color="#fced32"/><stop offset="0.75" stop-color="#fdf053"/><stop offset="0.79" stop-color="#fef371"/><stop offset="0.83" stop-color="#fef693"/><stop offset="0.88" stop-color="#fef9b9"/><stop offset="0.92" stop-color="#fffcdf"/><stop offset="0.96" stop-color="#fffffd"/><stop offset="1" stop-color="#ffffff"/></linearGradient>
<linearGradient id="i12"><stop offset="0" stop-color="#ffffff"/><stop offset="0.04" stop-color="#ffffff"/><stop offset="0.08" stop-color="#ffffff"/><stop offset="0.12" stop-color="#ffffff"/><stop offset="0.17" stop-color="#fffcdf"/><stop offset="0.21" stop-color="#fef8ac"/><stop offset="0.25" stop-color="#fef478"/><stop offset="0.29" stop-color="#fdf049"/><stop offset="0.33" stop-color="#fbea10"/><stop offset="0.38" stop-color="#fbe900"/><stop offset="0.42" stop-color="#fcea00"/><stop offset="0.46" stop-color="#fceb00"/><stop offset="0.5" stop-color="#fceb00"/><stop offset="0.54" stop-color="#fceb00"/><stop offset="0.58" stop-color="#fcea00"/><stop offset="0.62" stop-color="#fbea00"/><stop offset="0.67" stop-color="#fae900"/><stop offset="0.71" stop-color="#fbea12"/><stop offset="0.75" stop-color="#fdee3a"/><stop offset="0.79" stop-color="#fdf15d"/><stop offset="0.83" stop-color="#fef480"/><stop offset="0.88" stop-color="#fef8a7"/><stop offset="0.92" stop-color="#fffbd1"/><stop offset="0.96" stop-color="#fffef4"/><stop offset="1" stop-color="#ffffff"/></linearGradient>
<linearGradient id="i13"><stop offset="0" stop-color="#ffffff"/><stop offset="0.04" stop-color="#ffffff"/><stop offset="0.08" stop-color="#ffffff"/><stop offset="0.12" stop-color="#fffffc"/><stop offset="0.17" stop-color="#fffbd3"/><stop offset="0.21" stop-color="#fef79b"/><stop offset="0.25" stop-color="#fdf265"/><stop offset="0.29" stop-color="#fcec2a"/><stop offset="0.33" stop-color="#fbe900"/><stop offset="0.38" stop-color="#fcea00"/><stop offset="0.42" stop-color="#fdeb00"/><stop offset="0.46" stop-color="#fdec00"/><stop offset="0.5" stop-color="#fdec00"/><stop offset="0.54" stop-color="#fdec00"/><stop offset="0.58" stop-color="#fdeb00"/><stop offset="0.62" stop-color="#fceb00"/><stop offset="0.67" stop-color="#fcea00"/><stop offset="0.71" stop-color="#fae800"/><stop offset="0.75" stop-color="#fbeb19"/><stop offset="0.79" stop-color="#fdef48"/><stop offset="0.83" stop-color="#fdf36d"/><stop offset="0.88" stop-color="#fef694"/><stop offset="0.92" stop-color="#fefac1"/><stop offset="0.96" stop-color="#fffde9"/><stop offset="1" stop-color="#ffffff"/></linearGradient>
<linearGradient id="i14"><stop offset="0" stop-color="#ffffff"/><stop offset="0.04" stop-color="#ffffff"/><stop offset="0.08" stop-color="#ffffff"/><stop offset="0.12" stop-color="#fffef5"/><stop offset="0.17" stop-color="#fefac5"/><stop offset="0.21" stop-color="#fef589"/><stop offset="0.25" stop-color="#fdf051"/><stop offset="0.29" stop-color="#fbe90c"/><stop offset="0.33" stop-color="#fcea00"/><stop offset="0.38" stop-color="#fdeb00"/><stop offset="0.42" stop-color="#fdec00"/><stop offset="0.46" stop-color="#feec00"/><stop offset="0.5" stop-color="#feec00"/><stop offset="0.54" stop-color="#feec00"/><stop offset="0.58" stop-color="#fdec00"/><stop offset="0.62" stop-color="#fdec00"/><stop offset="0.67" stop-color="#fceb00"/><stop offset="0.71" stop-color="#fcea00"/><stop offset="0.75" stop-color="#fae801"/><stop offset="0.79" stop-color="#fcec28"/><stop offset="0.83" stop-color="#fdf158"/><stop offset="0.88" stop-color="#fef481"/><stop offset="0.92" stop-color="#fef8b0"/><stop offset="0.96" stop-color="#fffcde"/><stop offset="1" stop-color="#ffffff"/></linearGradient>
<linearGradient id="i15"><stop offset="0" stop-color="#ffffff"/><stop offset="0.04" stop-color="#ffffff"/><stop offset="0.08" stop-color="#ffffff"/><stop offset="0.12" stop-color="#fffdec"/><stop offset="0.17" stop-color="#fef9b7"/><stop offset="0.21" stop-color="#fef478"/><stop offset="0.25" stop-color="#fdee38"/><stop offset="0.29" stop-color="#fbe900"/><stop offset="0.33" stop-color="#fceb00"/><stop offset="0.38" stop-color="#fdec00"/><stop offset="0.42" stop-color="#feed00"/><stop offset="0.46" stop-color="#feed00"/><stop offset="0.5" stop-color="#feed00"/><stop offset="0.54" stop-color="#feed00"/><stop offset="0.58" stop-color="#feed00"/><stop offset="0.62" stop-color="#feec00"/><stop offset="0.67" stop-color="#fdec00"/><stop offset="0.71" stop-color="#fceb00"/><stop offset="0.75" stop-color="#fbea00"/><stop offset="0.79" stop-color="#fbe90b"/><stop offset="0.83" stop-color="#fdef43"/><stop offset="0.88" stop-color="#fdf36f"/><stop offset="0.92" stop-color="#fef79e"/><stop offset="0.96" stop-color="#fefbcf"/><stop offset="1" stop-color="#fffef8"/></linearGradient>
<linearGradient id="i16"><stop offset="0" stop-color="#ffffff"/><stop offset="0.04" stop-color="#ffffff"/><stop offset="0.08" stop-color="#ffffff"/><stop offset="0.12" stop-color="#fffde4"/><stop offset="0.17" stop-color="#fef8a8"/><stop offset="0.21" stop-color="#fdf267"/><stop offset="0.25" stop-color="#fbeb19"/><stop offset="0.29" stop-color="#fcea00"/><stop offset="0.33" stop-color="#fdec00"/><stop offset="0.38" stop-color="#feed00"/><stop offset="0.42" stop-color="#ffed00"/><stop offset="0.46" stop-color="#ffee00"/><stop offset="0.5" stop-color="#ffee00"/><stop offset="0.54" stop-color="#ffee00"/><stop offset="0.58" stop-color="#feed00"/><stop offset="0.62" stop-color="#feed00"/><stop offset="0.67" stop-color="#feec00"/><stop offset="0.71" stop-color="#fdec00"/><stop offset="0.75" stop-color="#fceb00"/><stop offset="0.79" stop-color="#fbe900"/><stop offset="0.83" stop-color="#fbeb21"/><stop offset="0.88" stop-color="#fdf15a"/><stop offset="0.92" stop-color="#fef58a"/><stop offset="0.96" stop-color="#fefac0"/><stop offset="1" stop-color="#fffeee"/></linearGradient>
<linearGradient id="i17"><stop offset="0" stop-color="#ffffff"/><stop offset="0.04" stop-color="#ffffff"/><stop offset="0.08" stop-color="#ffffff"/><stop offset="0.12" stop-color="#fffcda"/><stop offset="0.17" stop-color="#fef698"/><stop offset="0.21" stop-color="#fdf154"/><stop offset="0.25" stop-color="#fae801"/><stop offset="0.29" stop-color="#fdeb00"/><stop offset="0.33" stop-color="#feed00"/><stop offset="0.38" stop-color="#ffed00"/><stop offset="0.42" stop-color="#ffee00"/><stop offset="0.46" stop-color="#ffee00"/><stop offset="0.5" stop-color="#ffee00"/><stop offset="0.54" stop-color="#ffee00"/><stop offset="0.58" stop-color="#ffee00"/><stop offset="0.62" stop-color="#ffee00"/><stop offset="0.67" stop-color="#feed00"/><stop offset="0.71" stop-color="#feec00"/><stop offset="0.75" stop-color="#fdeb00"/><stop offset="0.79" stop-color="#fcea00"/><stop offset="0.83" stop-color="#fae906"/><stop offset="0.88" stop-color="#fdef45"/><stop offset="0.92" stop-color="#fef478"/><stop offset="0.96" stop-color="#fef8af"/><stop offset="1" stop-color="#fffde3"/></linearGradient>
<linearGradient id="i18"><stop offset="0" stop-color="#ffffff"/><stop offset="0.04" stop-color="#ffffff"/><stop offset="0.08" stop-color="#ffffff"/><stop offset="0.12" stop-color="#fefbcf"/><stop offset="0.17" stop-color="#fef589"/><stop offset="0.21" stop-color="#fdef42"/><stop offset="0.25" stop-color="#fbea00"/><stop offset="0.29" stop-color="#fdec00"/><stop offset="0.33" stop-color="#feed00"/><stop offset="0.38" stop-color="#ffee00"/><stop offset="0.42" stop-color="#ffed00"/><stop offset="0.46" stop-color="#ffed00"/><stop offset="0.5" stop-color="#ffed00"/><stop offset="0.54" stop-color="#ffed00"/><stop offset="0.58" stop-color="#ffed00"/><stop offset="0.62" stop-color="#ffee00"/><stop offset="0.67" stop-color="#ffee00"/><stop offset="0.71" stop-color="#feed00"/><stop offset="0.75" stop-color="#feec00"/><stop offset="0.79" stop-color="#fdeb00"/><stop offset="0.83" stop-color="#fbe900"/><stop offset="0.88" stop-color="#fcec24"/><stop offset="0.92" stop-color="#fdf264"/><stop offset="0.96" stop-color="#fef79d"/><stop offset="1" stop-color="#fffcd7"/></linearGradient>
<linearGradient id="i19"><stop offset="0" stop-color="#ffffff"/><stop offset="0.04" stop-color="#ffffff"/><stop offset="0.08" stop-color="#fffffa"/><stop offset="0.12" stop-color="#fefac3"/><stop offset="0.17" stop-color="#fef47a"/><stop offset="0.21" stop-color="#fcec23"/><stop offset="0.25" stop-color="#fcea00"/><stop offset="0.29" stop-color="#feed00"/><stop offset="0.33" stop-color="#ffee00"/><stop offset="0.38" stop-color="#ffed00"/><stop offset="0.42" stop-color="#ffed00"/><stop offset="0.46" stop-color="#ffec00"/><stop offset="0.5" stop-color="#ffec00"/><stop offset="0.54" stop-color="#ffec00"/><stop offset="0.58" stop-color="#ffed00"/><stop offset="0.62" stop-color="#ffed00"/><stop offset="0.67" stop-color="#ffee00"/><stop offset="0.71" stop-color="#ffee00"/><stop offset="0.75" stop-color="#feed00"/><stop offset="0.79" stop-color="#fdec00"/><stop offset="0.83" stop-color="#fcea00"/><stop offset="0.88" stop-color="#fae908"/><stop offset="0.92" stop-color="#fdf04f"/><stop offset="0.96" stop-color="#fef58a"/><stop offset="1" stop-color="#fefac8"/></linearGradient>
<linearGradient id="i20"><stop offset="0" stop-color="#ffffff"/><stop offset="0.04" stop-color="#ffffff"/><stop offset="0.08" stop-color="#fffef4"/><stop offset="0.12" stop-color="#fef9b8"/><stop offset="0.17" stop-color="#fdf36c"/><stop offset="0.21" stop-color="#fbe90b"/><stop offset="0.25" stop-color="#fdeb00"/><stop offset="0.29" stop-color="#feed00"/><stop offset="0.33" stop-color="#ffed00"/><stop offset="0.38" stop-color="#ffed00"/><stop offset="0.42" stop-color="#ffec00"/><stop offset="0.46" stop-color="#ffec00"/><stop offset="0.5" stop-color="#ffec00"/><stop offset="0.54" stop-color="#ffec00"/><stop offset="0.58" stop-color="#ffec00"/><stop offset="0.62" stop-color="#ffed00"/><stop offset="0.67" stop-color="#ffed00"/><stop offset="0.71" stop-color="#ffee00"/><stop offset="0.75" stop-color="#ffee00"/><stop offset="0.79" stop-color="#feed00"/><stop offset="0.83" stop-color="#fdeb00"/><stop offset="0.88" stop-color="#fbe900"/><stop offset="0.92" stop-color="#fcee35"/><stop offset="0.96" stop-color="#fef477"/><stop offset="1" stop-color="#fef9b8"/></linearGradient>
<linearGradient id="i21"><stop offset="0" stop-color="#ffffff"/><stop offset="0.04" stop-color="#ffffff"/><stop offset="0.08" stop-color="#fffeee"/><stop offset="0.12" stop-color="#fef8ac"/><stop offset="0.17" stop-color="#fdf15c"/><stop offset="0.21" stop-color="#fbe900"/><stop offset="0.25" stop-color="#fdec00"/><stop offset="0.29" stop-color="#ffee00"/><stop offset="0.33" stop-color="#ffed00"/><stop offset="0.38" stop-color="#ffec00"/><stop offset="0.42" stop-color="#ffeb00"/><stop offset="0.46" stop-color="#ffe900"/><stop offset="0.5" stop-color="#ffe900"/><stop offset="0.54" stop-color="#ffeb00"/><stop offset="0.58" stop-color="#ffec00"/><stop offset="0.62" stop-color="#ffec00"/><stop offset="0.67" stop-color="#ffec00"/><stop offset="0.71" stop-color="#ffed00"/><stop offset="0.75" stop-color="#ffee00"/><stop offset="0.79" stop-color="#feed00"/><stop offset="0.83" stop-color="#fdec00"/><stop offset="0.88" stop-color="#fcea00"/><stop offset="0.92" stop-color="#fbea14"/><stop offset="0.96" stop-color="#fdf264"/><stop offset="1" stop-color="#fef8a7"/></linearGradient>
<linearGradient id="i22"><stop offset="0" stop-color="#ffffff"/><stop offset="0.04" stop-color="#ffffff"/><stop offset="0.08" stop-color="#fffde7"/><stop offset="0.12" stop-color="#fef7a0"/><stop offset="0.17" stop-color="#fdf04d"/><stop offset="0.21" stop-color="#fbea00"/><stop offset="0.25" stop-color="#feed00"/><stop offset="0.29" stop-color="#ffee00"/><stop offset="0.33" stop-color="#ffec00"/><stop offset="0.38" stop-color="#ffeb00"/><stop offset="0.42" stop-color="#fee701"/><stop offset="0.46" stop-color="#fee501"/><stop offset="0.5" stop-color="#fee501"/><stop offset="0.54" stop-color="#fee601"/><stop offset="0.58" stop-color="#fee800"/><stop offset="0.62" stop-color="#ffeb00"/><stop offset="0.67" stop-color="#ffec00"/><stop offset="0.71" stop-color="#ffec00"/><stop offset="0.75" stop-color="#ffed00"/><stop offset="0.79" stop-color="#ffee00"/><stop offset="0.83" stop-color="#feed00"/><stop offset="0.88" stop-color="#fdeb00"/><stop offset="0.92" stop-color="#fae800"/><stop offset="0.96" stop-color="#fdf04f"/><stop offset="1" stop-color="#fef694"/></linearGradient>
<linearGradient id="i23"><stop offset="0" stop-color="#ffffff"/><stop offset="0.04" stop-color="#ffffff"/><stop offset="0.08" stop-color="#fffce1"/><stop offset="0.12" stop-color="#fef694"/><stop offset="0.17" stop-color="#fdee3b"/><stop offset="0.21" stop-color="#fceb00"/><stop offset="0.25" stop-color="#feed00"/><stop offset="0.29" stop-color="#ffed00"/><stop offset="0.33" stop-color="#ffec00"/><stop offset="0.38" stop-color="#fee601"/><stop offset="0.42" stop-color="#fee201"/><stop offset="0.46" stop-color="#fee101"/><stop offset="0.5" stop-color="#fee101"/><stop offset="0.54" stop-color="#fee201"/><stop offset="0.58" stop-color="#fee401"/><stop offset="0.62" stop-color="#fee701"/><stop offset="0.67" stop-color="#ffeb00"/><stop offset="0.71" stop-color="#ffec00"/><stop offset="0.75" stop-color="#ffed00"/><stop offset="0.79" stop-color="#ffed00"/><stop offset="0.83" stop-color="#ffed00"/><stop offset="0.88" stop-color="#fdec00"/><stop offset="0.92" stop-color="#fcea00"/><stop offset="0.96" stop-color="#fced34"/><stop offset="1" stop-color="#fef482"/></linearGradient>
<linearGradient id="i24"><stop offset="0" stop-color="#ffffff"/><stop offset="0.04" stop-color="#ffffff"/><stop offset="0.08" stop-color="#fffcda"/><stop offset="0.12" stop-color="#fef589"/><stop offset="0.17" stop-color="#fcec24"/><stop offset="0.21" stop-color="#fdeb00"/><stop offset="0.25" stop-color="#ffee00"/><stop offset="0.29" stop-color="#ffec00"/><stop offset="0.33" stop-color="#fee900"/><stop offset="0.38" stop-color="#fee201"/><stop offset="0.42" stop-color="#fdde01"/><stop offset="0.46" stop-color="#fddc01"/><stop offset="0.5" stop-color="#fddd01"/><stop offset="0.54" stop-color="#fdde01"/><stop offset="0.58" stop-color="#fee001"/><stop offset="0.62" stop-color="#fee301"/><stop offset="0.67" stop-color="#fee701"/><stop offset="0.71" stop-color="#ffeb00"/><stop offset="0.75" stop-color="#ffec00"/><stop offset="0.79" stop-color="#ffed00"/><stop offset="0.83" stop-color="#ffee00"/><stop offset="0.88" stop-color="#feed00"/><stop offset="0.92" stop-color="#fceb00"/><stop offset="0.96" stop-color="#fbea14"/><stop offset="1" stop-color="#fdf370"/></linearGradient>
<linearGradient id="i25"><stop offset="0" stop-color="#ffffff"/><stop offset="0.04" stop-color="#ffffff"/><stop offset="0.08" stop-color="#fffbd2"/><stop offset="0.12" stop-color="#fef47e"/><stop offset="0.17" stop-color="#fbea11"/><stop offset="0.21" stop-color="#fdec00"/><stop offset="0.25" stop-color="#ffee00"/><stop offset="0.29" stop-color="#ffec00"/><stop offset="0.33" stop-color="#fee501"/><stop offset="0.38" stop-color="#fdde01"/><stop offset="0.42" stop-color="#fdda02"/><stop offset="0.46" stop-color="#fdd802"/><stop offset="0.5" stop-color="#fdd902"/><stop offset="0.54" stop-color="#fdda01"/><stop offset="0.58" stop-color="#fddd01"/><stop offset="0.62" stop-color="#fddf01"/><stop offset="0.67" stop-color="#fee301"/><stop offset="0.71" stop-color="#fee701"/><stop offset="0.75" stop-color="#ffeb00"/><stop offset="0.79" stop-color="#ffec00"/><stop offset="0.83" stop-color="#ffed00"/><stop offset="0.88" stop-color="#ffed00"/><stop offset="0.92" stop-color="#fdec00"/><stop offset="0.96" stop-color="#fae800"/><stop offset="1" stop-color="#fdf15c"/></linearGradient>
<linearGradient id="i26"><stop offset="0" stop-color="#ffffff"/><stop offset="0.04" stop-color="#ffffff"/><stop offset="0.08" stop-color="#fefbcb"/><stop offset="0.12" stop-color="#fef375"/><stop offset="0.17" stop-color="#fae803"/><stop offset="0.21" stop-color="#feec00"/><stop offset="0.25" stop-color="#ffed00"/><stop offset="0.29" stop-color="#ffeb00"/><stop offset="0.33" stop-color="#fee101"/><stop offset="0.38" stop-color="#fdda01"/><stop offset="0.42" stop-color="#fcd602"/><stop offset="0.46" stop-color="#fcd502"/><stop offset="0.5" stop-color="#fcd502"/><stop offset="0.54" stop-color="#fdd702"/><stop offset="0.58" stop-color="#fdd902"/><stop offset="0.62" stop-color="#fddc01"/><stop offset="0.67" stop-color="#fddf01"/><stop offset="0.71" stop-color="#fee301"/><stop offset="0.75" stop-color="#fee800"/><stop offset="0.79" stop-color="#ffec00"/><stop offset="0.83" stop-color="#ffed00"/><stop offset="0.88" stop-color="#ffee00"/><stop offset="0.92" stop-color="#feec00"/><stop offset="0.96" stop-color="#fcea00"/><stop offset="1" stop-color="#fdef47"/></linearGradient>
<linearGradient id="i27"><stop offset="0" stop-color="#ffffff"/><stop offset="0.04" stop-color="#ffffff"/><stop offset="0.08" stop-color="#fefac4"/><stop offset="0.12" stop-color="#fdf26b"/><stop offset="0.17" stop-color="#fbe900"/><stop offset="0.21" stop-color="#feed00"/><stop offset="0.25" stop-color="#ffed00"/><stop offset="0.29" stop-color="#fee800"/><stop offset="0.33" stop-color="#fdde01"/><stop offset="0.38" stop-color="#fdd602"/><stop offset="0.42" stop-color="#fcd202"/><stop offset="0.46" stop-color="#fcd102"/><stop offset="0.5" stop-color="#fcd102"/><stop offset="0.54" stop-color="#fcd302"/><stop offset="0.58" stop-color="#fcd502"/><stop offset="0.62" stop-color="#fdd802"/><stop offset="0.67" stop-color="#fddc01"/><stop offset="0.71" stop-color="#fee001"/><stop offset="0.75" stop-color="#fee401"/><stop offset="0.79" stop-color="#fee900"/><stop offset="0.83" stop-color="#ffec00"/><stop offset="0.88" stop-color="#ffed00"/><stop offset="0.92" stop-color="#feed00"/><stop offset="0.96" stop-color="#fceb00"/><stop offset="1" stop-color="#fcec29"/></linearGradient>
<linearGradient id="i28"><stop offset="0" stop-color="#ffffff"/><stop offset="0.04" stop-color="#fffffd"/><stop offset="0.08" stop-color="#fef9bd"/><stop offset="0.12" stop-color="#fdf261"/><stop offset="0.17" stop-color="#fbea00"/><stop offset="0.21" stop-color="#feed00"/><stop offset="0.25" stop-color="#ffec00"/><stop offset="0.29" stop-color="#fee401"/><stop offset="0.33" stop-color="#fdda02"/><stop offset="0.38" stop-color="#fcd302"/><stop offset="0.42" stop-color="#fccf02"/><stop offset="0.46" stop-color="#fccd02"/><stop offset="0.5" stop-color="#fcce02"/><stop offset="0.54" stop-color="#fcd002"/><stop offset="0.58" stop-color="#fcd202"/><stop offset="0.62" stop-color="#fcd502"/><stop offset="0.67" stop-color="#fdd902"/><stop offset="0.71" stop-color="#fddd01"/><stop offset="0.75" stop-color="#fee101"/><stop offset="0.79" stop-color="#fee601"/><stop offset="0.83" stop-color="#ffeb00"/><stop offset="0.88" stop-color="#ffed00"/><stop offset="0.92" stop-color="#ffee00"/><stop offset="0.96" stop-color="#fdec00"/><stop offset="1" stop-color="#fbe90c"/></linearGradient>
<linearGradient id="i29"><stop offset="0" stop-color="#ffffff"/><stop offset="0.04" stop-color="#fffffa"/><stop offset="0.08" stop-color="#fef9b7"/><stop offset="0.12" stop-color="#fdf158"/><stop offset="0.17" stop-color="#fcea00"/><stop offset="0.21" stop-color="#ffee00"/><stop offset="0.25" stop-color="#ffec00"/><stop offset="0.29" stop-color="#fee101"/><stop offset="0.33" stop-color="#fdd702"/><stop offset="0.38" stop-color="#fccf02"/><stop offset="0.42" stop-color="#fbcb03"/><stop offset="0.46" stop-color="#fbca03"/><stop offset="0.5" stop-color="#fbcb03"/><stop offset="0.54" stop-color="#fbcc03"/><stop offset="0.58" stop-color="#fccf02"/><stop offset="0.62" stop-color="#fcd202"/><stop offset="0.67" stop-color="#fcd602"/><stop offset="0.71" stop-color="#fdda02"/><stop offset="0.75" stop-color="#fdde01"/><stop offset="0.79" stop-color="#fee301"/><stop offset="0.83" stop-color="#fee800"/><stop offset="0.88" stop-color="#ffec00"/><stop offset="0.92" stop-color="#ffee00"/><stop offset="0.96" stop-color="#feed00"/><stop offset="1" stop-color="#fbe900"/></linearGradient>
<linearGradient id="i30"><stop offset="0" stop-color="#ffffff"/><stop offset="0.04" stop-color="#fffef8"/><stop offset="0.08" stop-color="#fef8b1"/><stop offset="0.12" stop-color="#fdf050"/><stop offset="0.17" stop-color="#fceb00"/><stop offset="0.21" stop-color="#ffee00"/><stop offset="0.25" stop-color="#ffec00"/><stop offset="0.29" stop-color="#fdde01"/><stop offset="0.33" stop-color="#fcd402"/><stop offset="0.38" stop-color="#fbcc03"/><stop offset="0.42" stop-color="#fbc803"/><stop offset="0.46" stop-color="#fbc703"/><stop offset="0.5" stop-color="#fbc803"/><stop offset="0.54" stop-color="#fbc903"/><stop offset="0.58" stop-color="#fbcc03"/><stop offset="0.62" stop-color="#fccf02"/><stop offset="0.67" stop-color="#fcd302"/><stop offset="0.71" stop-color="#fdd702"/><stop offset="0.75" stop-color="#fddb01"/><stop offset="0.79" stop-color="#fee001"/><stop offset="0.83" stop-color="#fee601"/><stop offset="0.88" stop-color="#ffeb00"/><stop offset="0.92" stop-color="#ffed00"/><stop offset="0.96" stop-color="#feed00"/><stop offset="1" stop-color="#fcea00"/></linearGradient>
<linearGradient id="i31"><stop offset="0" stop-color="#ffffff"/><stop offset="0.04" stop-color="#fffef5"/><stop offset="0.08" stop-color="#fef8ac"/><stop offset="0.12" stop-color="#fdf049"/><stop offset="0.17" stop-color="#fceb00"/><stop offset="0.21" stop-color="#ffee00"/><stop offset="0.25" stop-color="#ffea00"/><stop offset="0.29" stop-color="#fddc01"/><stop offset="0.33" stop-color="#fcd102"/><stop offset="0.38" stop-color="#fbc903"/><stop offset="0.42" stop-color="#fbc503"/><stop offset="0.46" stop-color="#fbc403"/><stop offset="0.5" stop-color="#fbc503"/><stop offset="0.54" stop-color="#fbc703"/><stop offset="0.58" stop-color="#fbc903"/><stop offset="0.62" stop-color="#fbcc03"/><stop offset="0.67" stop-color="#fcd002"/><stop offset="0.71" stop-color="#fcd402"/><stop offset="0.75" stop-color="#fdd902"/><stop offset="0.79" stop-color="#fdde01"/><stop offset="0.83" stop-color="#fee301"/><stop offset="0.88" stop-color="#fee900"/><stop offset="0.92" stop-color="#ffec00"/><stop offset="0.96" stop-color="#ffee00"/><stop offset="1" stop-color="#fdeb00"/></linearGradient>
<linearGradient id="i32"><stop offset="0" stop-color="#ffffff"/><stop offset="0.04" stop-color="#fffef3"/><stop offset="0.08" stop-color="#fef8a7"/><stop offset="0.12" stop-color="#fdef42"/><stop offset="0.17" stop-color="#fdeb00"/><stop offset="0.21" stop-color="#ffed00"/><stop offset="0.25" stop-color="#fee800"/><stop offset="0.29" stop-color="#fdd902"/><stop offset="0.33" stop-color="#fcce02"/><stop offset="0.38" stop-color="#fbc603"/><stop offset="0.42" stop-color="#fac203"/><stop offset="0.46" stop-color="#fac103"/><stop offset="0.5" stop-color="#fac203"/><stop offset="0.54" stop-color="#fbc403"/><stop offset="0.58" stop-color="#fbc703"/><stop offset="0.62" stop-color="#fbca03"/><stop offset="0.67" stop-color="#fccd02"/><stop offset="0.71" stop-color="#fcd202"/><stop offset="0.75" stop-color="#fcd602"/><stop offset="0.79" stop-color="#fddb01"/><stop offset="0.83" stop-color="#fee001"/><stop offset="0.88" stop-color="#fee601"/><stop offset="0.92" stop-color="#ffec00"/><stop offset="0.96" stop-color="#ffee00"/><stop offset="1" stop-color="#fdec00"/></linearGradient>
<linearGradient id="i33"><stop offset="0" stop-color="#ffffff"/><stop offset="0.04" stop-color="#fffef1"/><stop offset="0.08" stop-color="#fef7a3"/><stop offset="0.12" stop-color="#fdee39"/><stop offset="0.17" stop-color="#fdec00"/><stop offset="0.21" stop-color="#ffed00"/><stop offset="0.25" stop-color="#fee601"/><stop offset="0.29" stop-color="#fdd702"/><stop offset="0.33" stop-color="#fbcc03"/><stop offset="0.38" stop-color="#fbc403"/><stop offset="0.42" stop-color="#fac004"/><stop offset="0.46" stop-color="#fabf04"/><stop offset="0.5" stop-color="#fac003"/><stop offset="0.54" stop-color="#fac203"/><stop offset="0.58" stop-color="#fbc403"/><stop offset="0.62" stop-color="#fbc703"/><stop offset="0.67" stop-color="#fbcb03"/><stop offset="0.71" stop-color="#fccf02"/><stop offset="0.75" stop-color="#fcd402"/><stop offset="0.79" stop-color="#fdd902"/><stop offset="0.83" stop-color="#fdde01"/><stop offset="0.88" stop-color="#fee401"/><stop offset="0.92" stop-color="#ffea00"/><stop offset="0.96" stop-color="#ffed00"/><stop offset="1" stop-color="#feed00"/></linearGradient>
<linearGradient id="i34"><stop offset="0" stop-color="#ffffff"/><stop offset="0.04" stop-color="#fffeef"/><stop offset="0.08" stop-color="#fef79f"/><stop offset="0.12" stop-color="#fced30"/><stop offset="0.17" stop-color="#fdec00"/><stop offset="0.21" stop-color="#ffed00"/><stop offset="0.25" stop-color="#fee401"/><stop offset="0.29" stop-color="#fcd602"/><stop offset="0.33" stop-color="#fbca03"/><stop offset="0.38" stop-color="#fac203"/><stop offset="0.42" stop-color="#fabd04"/><stop offset="0.46" stop-color="#fabd04"/><stop offset="0.5" stop-color="#fabe04"/><stop offset="0.54" stop-color="#fabf04"/><stop offset="0.58" stop-color="#fac203"/><stop offset="0.62" stop-color="#fbc503"/><stop offset="0.67" stop-color="#fbc903"/><stop offset="0.71" stop-color="#fccd02"/><stop offset="0.75" stop-color="#fcd202"/><stop offset="0.79" stop-color="#fdd702"/><stop offset="0.83" stop-color="#fddc01"/><stop offset="0.88" stop-color="#fee201"/><stop offset="0.92" stop-color="#fee800"/><stop offset="0.96" stop-color="#ffec00"/><stop offset="1" stop-color="#feed00"/></linearGradient>
<linearGradient id="i35"><stop offset="0" stop-color="#ffffff"/><stop offset="0.04" stop-color="#fffded"/><stop offset="0.08" stop-color="#fef79c"/><stop offset="0.12" stop-color="#fcec2a"/><stop offset="0.17" stop-color="#fdec00"/><stop offset="0.21" stop-color="#ffed00"/><stop offset="0.25" stop-color="#fee301"/><stop offset="0.29" stop-color="#fcd402"/><stop offset="0.33" stop-color="#fbc803"/><stop offset="0.38" stop-color="#fac004"/><stop offset="0.42" stop-color="#fabb04"/><stop offset="0.46" stop-color="#faba04"/><stop offset="0.5" stop-color="#fabc04"/><stop offset="0.54" stop-color="#fabe04"/><stop offset="0.58" stop-color="#fac003"/><stop offset="0.62" stop-color="#fbc303"/><stop offset="0.67" stop-color="#fbc703"/><stop offset="0.71" stop-color="#fbcb03"/><stop offset="0.75" stop-color="#fcd002"/><stop offset="0.79" stop-color="#fcd502"/><stop offset="0.83" stop-color="#fdda01"/><stop offset="0.88" stop-color="#fee001"/><stop offset="0.92" stop-color="#fee601"/><stop offset="0.96" stop-color="#ffec00"/><stop offset="1" stop-color="#ffee00"/></linearGradient>
<linearGradient id="i36"><stop offset="0" stop-color="#ffffff"/><stop offset="0.04" stop-color="#fffdec"/><stop offset="0.08" stop-color="#fef699"/><stop offset="0.12" stop-color="#fcec25"/><stop offset="0.17" stop-color="#fdec00"/><stop offset="0.21" stop-color="#ffed00"/><stop offset="0.25" stop-color="#fee201"/><stop offset="0.29" stop-color="#fcd302"/><stop offset="0.33" stop-color="#fbc703"/><stop offset="0.38" stop-color="#fabe04"/><stop offset="0.42" stop-color="#f9b904"/><stop offset="0.46" stop-color="#f9b904"/><stop offset="0.5" stop-color="#faba04"/><stop offset="0.54" stop-color="#fabc04"/><stop offset="0.58" stop-color="#fabf04"/><stop offset="0.62" stop-color="#fac203"/><stop offset="0.67" stop-color="#fbc603"/><stop offset="0.71" stop-color="#fbca03"/><stop offset="0.75" stop-color="#fcce02"/><stop offset="0.79" stop-color="#fcd302"/><stop offset="0.83" stop-color="#fdd902"/><stop offset="0.88" stop-color="#fdde01"/><stop offset="0.92" stop-color="#fee401"/><stop offset="0.96" stop-color="#ffea00"/><stop offset="1" stop-color="#ffee00"/></linearGradient>
<linearGradient id="i37"><stop offset="0" stop-color="#ffffff"/><stop offset="0.04" stop-color="#fffdeb"/><stop offset="0.08" stop-color="#fef697"/><stop offset="0.12" stop-color="#fcec21"/><stop offset="0.17" stop-color="#fdec00"/><stop offset="0.21" stop-color="#ffed00"/><stop offset="0.25" stop-color="#fee101"/><stop offset="0.29" stop-color="#fcd202"/><stop offset="0.33" stop-color="#fbc603"/><stop offset="0.38" stop-color="#fabd04"/><stop offset="0.42" stop-color="#f9b704"/><stop offset="0.46" stop-color="#f9b704"/><stop offset="0.5" stop-color="#f9b804"/><stop offset="0.54" stop-color="#faba04"/><stop offset="0.58" stop-color="#fabd04"/><stop offset="0.62" stop-color="#fac003"/><stop offset="0.67" stop-color="#fbc403"/><stop offset="0.71" stop-color="#fbc803"/><stop offset="0.75" stop-color="#fccd03"/><stop offset="0.79" stop-color="#fcd202"/><stop offset="0.83" stop-color="#fdd702"/><stop offset="0.88" stop-color="#fddd01"/><stop offset="0.92" stop-color="#fee301"/><stop offset="0.96" stop-color="#fee900"/><stop offset="1" stop-color="#ffed00"/></linearGradient>
<linearGradient id="i38"><stop offset="0" stop-color="#ffffff"/><stop offset="0.04" stop-color="#fffdea"/><stop offset="0.08" stop-color="#fef696"/><stop offset="0.12" stop-color="#fbeb1f"/><stop offset="0.17" stop-color="#feec00"/><stop offset="0.21" stop-color="#ffec00"/><stop offset="0.25" stop-color="#fee101"/><stop offset="0.29" stop-color="#fcd202"/><stop offset="0.33" stop-color="#fbc503"/><stop offset="0.38" stop-color="#fabc04"/><stop offset="0.42" stop-color="#f9b604"/><stop offset="0.46" stop-color="#f9b604"/><stop offset="0.5" stop-color="#f9b704"/><stop offset="0.54" stop-color="#f9b904"/><stop offset="0.58" stop-color="#fabc04"/><stop offset="0.62" stop-color="#fabf04"/><stop offset="0.67" stop-color="#fac303"/><stop offset="0.71" stop-color="#fbc703"/><stop offset="0.75" stop-color="#fbcc03"/><stop offset="0.79" stop-color="#fcd102"/><stop offset="0.83" stop-color="#fcd602"/><stop offset="0.88" stop-color="#fddb01"/><stop offset="0.92" stop-color="#fee101"/><stop offset="0.96" stop-color="#fee701"/><stop offset="1" stop-color="#ffec00"/></linearGradient>
<linearGradient id="i39"><stop offset="0" stop-color="#ffffff"/><stop offset="0.04" stop-color="#fffdea"/><stop offset="0.08" stop-color="#fef695"/><stop offset="0.12" stop-color="#fbeb1e"/><stop offset="0.17" stop-color="#feec00"/><stop offset="0.21" stop-color="#ffec00"/><stop offset="0.25" stop-color="#fee101"/><stop offset="0.29" stop-color="#fcd202"/><stop offset="0.33" stop-color="#fbc503"/><stop offset="0.38" stop-color="#fabb04"/><stop offset="0.42" stop-color="#f9b504"/><stop offset="0.46" stop-color="#f9b504"/><stop offset="0.5" stop-color="#f9b604"/><stop offset="0.54" stop-color="#f9b904"/><stop offset="0.58" stop-color="#fabb04"/><stop offset="0.62" stop-color="#fabe04"/><stop offset="0.67" stop-color="#fac203"/><stop offset="0.71" stop-color="#fbc603"/><stop offset="0.75" stop-color="#fbcb03"/><stop offset="0.79" stop-color="#fcd002"/><stop offset="0.83" stop-color="#fcd502"/><stop offset="0.88" stop-color="#fdda01"/><stop offset="0.92" stop-color="#fee001"/><stop offset="0.96" stop-color="#fee601"/><stop offset="1" stop-color="#ffec00"/></linearGradient>
<linearGradient id="i40"><stop offset="0" stop-color="#ffffff"/><stop offset="0.04" stop-color="#fffde9"/><stop offset="0.08" stop-color="#fef695"/><stop offset="0.12" stop-color="#fbeb1d"/><stop offset="0.17" stop-color="#feec00"/><stop offset="0.21" stop-color="#ffec00"/><stop offset="0.25" stop-color="#fee101"/><stop offset="0.29" stop-color="#fcd202"/><stop offset="0.33" stop-color="#fbc503"/><stop offset="0.38" stop-color="#fabb04"/><stop offset="0.42" stop-color="#f9b504"/><stop offset="0.46" stop-color="#f9b504"/><stop offset="0.5" stop-color="#f9b604"/><stop offset="0.54" stop-color="#f9b804"/><stop offset="0.58" stop-color="#fabb04"/><stop offset="0.62" stop-color="#fabe04"/><stop offset="0.67" stop-color="#fac203"/><stop offset="0.71" stop-color="#fbc603"/><stop offset="0.75" stop-color="#fbca03"/><stop offset="0.79" stop-color="#fccf02"/><stop offset="0.83" stop-color="#fcd402"/><stop offset="0.88" stop-color="#fdd902"/><stop offset="0.92" stop-color="#fddf01"/><stop offset="0.96" stop-color="#fee501"/><stop offset="1" stop-color="#ffec00"/></linearGradient>
<linearGradient id="i41"><stop offset="0" stop-color="#ffffff"/><stop offset="0.04" stop-color="#fffde9"/><stop offset="0.08" stop-color="#fef695"/><stop offset="0.12" stop-color="#fbeb1e"/><stop offset="0.17" stop-color="#feec00"/><stop offset="0.21" stop-color="#ffed00"/><stop offset="0.25" stop-color="#fee101"/><stop offset="0.29" stop-color="#fcd202"/><stop offset="0.33" stop-color="#fbc503"/><stop offset="0.38" stop-color="#fabc04"/><stop offset="0.42" stop-color="#f9b604"/><stop offset="0.46" stop-color="#f9b504"/><stop offset="0.5" stop-color="#f9b604"/><stop offset="0.54" stop-color="#f9b804"/><stop offset="0.58" stop-color="#fabb04"/><stop offset="0.62" stop-color="#fabe04"/><stop offset="0.67" stop-color="#fac103"/><stop offset="0.71" stop-color="#fbc503"/><stop offset="0.75" stop-color="#fbc903"/><stop offset="0.79" stop-color="#fcce02"/><stop offset="0.83" stop-color="#fcd302"/><stop offset="0.88" stop-color="#fdd902"/><stop offset="0.92" stop-color="#fdde01"/><stop offset="0.96" stop-color="#fee401"/><stop offset="1" stop-color="#ffeb00"/></linearGradient>
<linearGradient id="i42"><stop offset="0" stop-color="#ffffff"/><stop offset="0.04" stop-color="#fffdea"/><stop offset="0.08" stop-color="#fef696"/><stop offset="0.12" stop-color="#fbeb20"/><stop offset="0.17" stop-color="#fdec00"/><stop offset="0.21" stop-color="#ffed00"/><stop offset="0.25" stop-color="#fee201"/><stop offset="0.29" stop-color="#fcd302"/><stop offset="0.33" stop-color="#fbc603"/><stop offset="0.38" stop-color="#fabd04"/><stop offset="0.42" stop-color="#f9b704"/><stop offset="0.46" stop-color="#f9b604"/><stop offset="0.5" stop-color="#f9b704"/><stop offset="0.54" stop-color="#f9b804"/><stop offset="0.58" stop-color="#fabb04"/><stop offset="0.62" stop-color="#fabe04"/><stop offset="0.67" stop-color="#fac103"/><stop offset="0.71" stop-color="#fbc503"/><stop offset="0.75" stop-color="#fbc903"/><stop offset="0.79" stop-color="#fcce02"/><stop offset="0.83" stop-color="#fcd302"/><stop offset="0.88" stop-color="#fdd802"/><stop offset="0.92" stop-color="#fdde01"/><stop offset="0.96" stop-color="#fee401"/><stop offset="1" stop-color="#ffea00"/></linearGradient>
<linearGradient id="i43"><stop offset="0" stop-color="#ffffff"/><stop offset="0.04" stop-color="#fffdea"/><stop offset="0.08" stop-color="#fef697"/><stop offset="0.12" stop-color="#fcec23"/><stop offset="0.17" stop-color="#fdec00"/><stop offset="0.21" stop-color="#ffed00"/><stop offset="0.25" stop-color="#fee301"/><stop offset="0.29" stop-color="#fcd402"/><stop offset="0.33" stop-color="#fbc803"/><stop offset="0.38" stop-color="#fabe04"/><stop offset="0.42" stop-color="#f9b904"/><stop offset="0.46" stop-color="#f9b704"/><stop offset="0.5" stop-color="#f9b804"/><stop offset="0.54" stop-color="#f9b904"/><stop offset="0.58" stop-color="#fabb04"/><stop offset="0.62" stop-color="#fabe04"/><stop offset="0.67" stop-color="#fac103"/><stop offset="0.71" stop-color="#fbc503"/><stop offset="0.75" stop-color="#fbc903"/><stop offset="0.79" stop-color="#fcce02"/><stop offset="0.83" stop-color="#fcd302"/><stop offset="0.88" stop-color="#fdd802"/><stop offset="0.92" stop-color="#fddd01"/><stop offset="0.96" stop-color="#fee301"/><stop offset="1" stop-color="#ffe900"/></linearGradient>
<linearGradient id="i44"><stop offset="0" stop-color="#ffffff"/><stop offset="0.04" stop-color="#fffdec"/><stop offset="0.08" stop-color="#fef69a"/><stop offset="0.12" stop-color="#fcec29"/><stop offset="0.17" stop-color="#fdec00"/><stop offset="0.21" stop-color="#ffed00"/><stop offset="0.25" stop-color="#fee501"/><stop offset="0.29" stop-color="#fcd602"/><stop offset="0.33" stop-color="#fbca03"/><stop offset="0.38" stop-color="#fac003"/><stop offset="0.42" stop-color="#fabb04"/><stop offset="0.46" stop-color="#f9b904"/><stop offset="0.5" stop-color="#f9b904"/><stop offset="0.54" stop-color="#faba04"/><stop offset="0.58" stop-color="#fabc04"/><stop offset="0.62" stop-color="#fabf04"/><stop offset="0.67" stop-color="#fac203"/><stop offset="0.71" stop-color="#fbc503"/><stop offset="0.75" stop-color="#fbc903"/><stop offset="0.79" stop-color="#fcce02"/><stop offset="0.83" stop-color="#fcd302"/><stop offset="0.88" stop-color="#fdd802"/><stop offset="0.92" stop-color="#fddd01"/><stop offset="0.96" stop-color="#fee301"/><stop offset="1" stop-color="#fee900"/></linearGradient>
<linearGradient id="i45"><stop offset="0" stop-color="#ffffff"/><stop offset="0.04" stop-color="#fffded"/><stop offset="0.08" stop-color="#fef79d"/><stop offset="0.12" stop-color="#fced30"/><stop offset="0.17" stop-color="#fdec00"/><stop offset="0.21" stop-color="#ffed00"/><stop offset="0.25" stop-color="#fee701"/><stop offset="0.29" stop-color="#fdd802"/><stop offset="0.33" stop-color="#fbcc03"/><stop offset="0.38" stop-color="#fac303"/><stop offset="0.42" stop-color="#fabd04"/><stop offset="0.46" stop-color="#fabb04"/><stop offset="0.5" stop-color="#fabb04"/><stop offset="0.54" stop-color="#fabc04"/><stop offset="0.58" stop-color="#fabe04"/><stop offset="0.62" stop-color="#fac003"/><stop offset="0.67" stop-color="#fac303"/><stop offset="0.71" stop-color="#fbc603"/><stop offset="0.75" stop-color="#fbca03"/><stop offset="0.79" stop-color="#fcce02"/><stop offset="0.83" stop-color="#fcd302"/><stop offset="0.88" stop-color="#fdd802"/><stop offset="0.92" stop-color="#fddd01"/><stop offset="0.96" stop-color="#fee301"/><stop offset="1" stop-color="#fee900"/></linearGradient>
<linearGradient id="i46"><stop offset="0" stop-color="#ffffff"/><stop offset="0.04" stop-color="#fffeef"/><stop offset="0.08" stop-color="#fef7a1"/><stop offset="0.12" stop-color="#fdee3a"/><stop offset="0.17" stop-color="#fdeb00"/><stop offset="0.21" stop-color="#ffee00"/><stop offset="0.25" stop-color="#fee900"/><stop offset="0.29" stop-color="#fdda01"/><stop offset="0.33" stop-color="#fccf02"/><stop offset="0.38" stop-color="#fbc603"/><stop offset="0.42" stop-color="#fac003"/><stop offset="0.46" stop-color="#fabe04"/><stop offset="0.5" stop-color="#fabd04"/><stop offset="0.54" stop-color="#fabe04"/><stop offset="0.58" stop-color="#fabf04"/><stop offset="0.62" stop-color="#fac103"/><stop offset="0.67" stop-color="#fbc403"/><stop offset="0.71" stop-color="#fbc703"/><stop offset="0.75" stop-color="#fbcb03"/><stop offset="0.79" stop-color="#fccf02"/><stop offset="0.83" stop-color="#fcd302"/><stop offset="0.88" stop-color="#fdd802"/><stop offset="0.92" stop-color="#fdde01"/><stop offset="0.96" stop-color="#fee301"/><stop offset="1" stop-color="#fee900"/></linearGradient>
<linearGradient id="i47"><stop offset="0" stop-color="#ffffff"/><stop offset="0.04" stop-color="#fffef1"/><stop offset="0.08" stop-color="#fef7a6"/><stop offset="0.12" stop-color="#fdef44"/><stop offset="0.17" stop-color="#fdeb00"/><stop offset="0.21" stop-color="#ffee00"/><stop offset="0.25" stop-color="#ffec00"/><stop offset="0.29" stop-color="#fddd01"/><stop offset="0.33" stop-color="#fcd202"/><stop offset="0.38" stop-color="#fbc903"/><stop offset="0.42" stop-color="#fbc303"/><stop offset="0.46" stop-color="#fac103"/><stop offset="0.5" stop-color="#fac003"/><stop offset="0.54" stop-color="#fac003"/><stop offset="0.58" stop-color="#fac103"/><stop offset="0.62" stop-color="#fac303"/><stop offset="0.67" stop-color="#fbc503"/><stop offset="0.71" stop-color="#fbc803"/><stop offset="0.75" stop-color="#fbcc03"/><stop offset="0.79" stop-color="#fcd002"/><stop offset="0.83" stop-color="#fcd402"/><stop offset="0.88" stop-color="#fdd902"/><stop offset="0.92" stop-color="#fdde01"/><stop offset="0.96" stop-color="#fee401"/><stop offset="1" stop-color="#ffe900"/></linearGradient>
<linearGradient id="i48"><stop offset="0" stop-color="#ffffff"/><stop offset="0.04" stop-color="#fffef3"/><stop offset="0.08" stop-color="#fef8ab"/><stop offset="0.12" stop-color="#fdf04b"/><stop offset="0.17" stop-color="#fceb00"/><stop offset="0.21" stop-color="#ffee00"/><stop offset="0.25" stop-color="#ffec00"/><stop offset="0.29" stop-color="#fee001"/><stop offset="0.33" stop-color="#fcd502"/><stop offset="0.38" stop-color="#fbcc03"/><stop offset="0.42" stop-color="#fbc703"/><stop offset="0.46" stop-color="#fbc403"/><stop offset="0.5" stop-color="#fac303"/><stop offset="0.54" stop-color="#fac303"/><stop offset="0.58" stop-color="#fbc303"/><stop offset="0.62" stop-color="#fbc503"/><stop offset="0.67" stop-color="#fbc703"/><stop offset="0.71" stop-color="#fbca03"/><stop offset="0.75" stop-color="#fccd02"/><stop offset="0.79" stop-color="#fcd102"/><stop offset="0.83" stop-color="#fcd502"/><stop offset="0.88" stop-color="#fdda02"/><stop offset="0.92" stop-color="#fddf01"/><stop offset="0.96" stop-color="#fee401"/><stop offset="1" stop-color="#ffea00"/></linearGradient>
<linearGradient id="i49"><stop offset="0" stop-color="#ffffff"/><stop offset="0.04" stop-color="#fffef6"/><stop offset="0.08" stop-color="#fef8b1"/><stop offset="0.12" stop-color="#fdf053"/><stop offset="0.17" stop-color="#fcea00"/><stop offset="0.21" stop-color="#ffed00"/><stop offset="0.25" stop-color="#ffec00"/><stop offset="0.29" stop-color="#fee401"/><stop offset="0.33" stop-color="#fdd902"/><stop offset="0.38" stop-color="#fcd002"/><stop offset="0.42" stop-color="#fbca03"/><stop offset="0.46" stop-color="#fbc703"/><stop offset="0.5" stop-color="#fbc603"/><stop offset="0.54" stop-color="#fbc603"/><stop offset="0.58" stop-color="#fbc603"/><stop offset="0.62" stop-color="#fbc703"/><stop offset="0.67" stop-color="#fbc903"/><stop offset="0.71" stop-color="#fbcc03"/><stop offset="0.75" stop-color="#fccf02"/><stop offset="0.79" stop-color="#fcd302"/><stop offset="0.83" stop-color="#fdd702"/><stop offset="0.88" stop-color="#fddb01"/><stop offset="0.92" stop-color="#fee001"/><stop offset="0.96" stop-color="#fee501"/><stop offset="1" stop-color="#ffeb00"/></linearGradient>
<linearGradient id="i50"><stop offset="0" stop-color="#ffffff"/><stop offset="0.04" stop-color="#fffef9"/><stop offset="0.08" stop-color="#fef9b7"/><stop offset="0.12" stop-color="#fdf15c"/><stop offset="0.17" stop-color="#fbea00"/><stop offset="0.21" stop-color="#feed00"/><stop offset="0.25" stop-color="#ffed00"/><stop offset="0.29" stop-color="#fee800"/><stop offset="0.33" stop-color="#fddc01"/><stop offset="0.38" stop-color="#fcd402"/><stop offset="0.42" stop-color="#fcce02"/><stop offset="0.46" stop-color="#fbca03"/><stop offset="0.5" stop-color="#fbc903"/><stop offset="0.54" stop-color="#fbc903"/><stop offset="0.58" stop-color="#fbc903"/><stop offset="0.62" stop-color="#fbca03"/><stop offset="0.67" stop-color="#fbcc03"/><stop offset="0.71" stop-color="#fcce02"/><stop offset="0.75" stop-color="#fcd102"/><stop offset="0.79" stop-color="#fcd402"/><stop offset="0.83" stop-color="#fdd802"/><stop offset="0.88" stop-color="#fddd01"/><stop offset="0.92" stop-color="#fee101"/><stop offset="0.96" stop-color="#fee601"/><stop offset="1" stop-color="#ffec00"/></linearGradient>
<linearGradient id="i51"><stop offset="0" stop-color="#ffffff"/><stop offset="0.04" stop-color="#fffffc"/><stop offset="0.08" stop-color="#fef9bd"/><stop offset="0.12" stop-color="#fdf265"/><stop offset="0.17" stop-color="#fbe900"/><stop offset="0.21" stop-color="#feed00"/><stop offset="0.25" stop-color="#ffed00"/><stop offset="0.29" stop-color="#ffec00"/><stop offset="0.33" stop-color="#fee101"/><stop offset="0.38" stop-color="#fdd802"/><stop offset="0.42" stop-color="#fcd202"/><stop offset="0.46" stop-color="#fcce02"/><stop offset="0.5" stop-color="#fbcd03"/><stop offset="0.54" stop-color="#fbcc03"/><stop offset="0.58" stop-color="#fbcc03"/><stop offset="0.62" stop-color="#fccd03"/><stop offset="0.67" stop-color="#fcce02"/><stop offset="0.71" stop-color="#fcd002"/><stop offset="0.75" stop-color="#fcd302"/><stop offset="0.79" stop-color="#fdd602"/><stop offset="0.83" stop-color="#fdda02"/><stop offset="0.88" stop-color="#fdde01"/><stop offset="0.92" stop-color="#fee301"/><stop offset="0.96" stop-color="#fee800"/><stop offset="1" stop-color="#ffec00"/></linearGradient>
<linearGradient id="i52"><stop offset="0" stop-color="#ffffff"/><stop offset="0.04" stop-color="#fffffe"/><stop offset="0.08" stop-color="#fefac4"/><stop offset="0.12" stop-color="#fdf36f"/><stop offset="0.17" stop-color="#fae802"/><stop offset="0.21" stop-color="#fdec00"/><stop offset="0.25" stop-color="#ffee00"/><stop offset="0.29" stop-color="#ffec00"/><stop offset="0.33" stop-color="#fee501"/><stop offset="0.38" stop-color="#fddc01"/><stop offset="0.42" stop-color="#fdd602"/><stop offset="0.46" stop-color="#fcd202"/><stop offset="0.5" stop-color="#fcd002"/><stop offset="0.54" stop-color="#fcd002"/><stop offset="0.58" stop-color="#fccf02"/><stop offset="0.62" stop-color="#fcd002"/><stop offset="0.67" stop-color="#fcd102"/><stop offset="0.71" stop-color="#fcd302"/><stop offset="0.75" stop-color="#fcd602"/><stop offset="0.79" stop-color="#fdd902"/><stop offset="0.83" stop-color="#fddc01"/><stop offset="0.88" stop-color="#fee001"/><stop offset="0.92" stop-color="#fee501"/><stop offset="0.96" stop-color="#ffe900"/><stop offset="1" stop-color="#ffec00"/></linearGradient>
<linearGradient id="i53"><stop offset="0" stop-color="#ffffff"/><stop offset="0.04" stop-color="#ffffff"/><stop offset="0.08" stop-color="#fefbcb"/><stop offset="0.12" stop-color="#fef479"/><stop offset="0.17" stop-color="#fbea10"/><stop offset="0.21" stop-color="#fdec00"/><stop offset="0.25" stop-color="#ffee00"/><stop offset="0.29" stop-color="#ffec00"/><stop offset="0.33" stop-color="#ffea00"/><stop offset="0.38" stop-color="#fee101"/><stop offset="0.42" stop-color="#fddb01"/><stop offset="0.46" stop-color="#fdd702"/><stop offset="0.5" stop-color="#fcd402"/><stop offset="0.54" stop-color="#fcd302"/><stop offset="0.58" stop-color="#fcd302"/><stop offset="0.62" stop-color="#fcd302"/><stop offset="0.67" stop-color="#fcd402"/><stop offset="0.71" stop-color="#fcd602"/><stop offset="0.75" stop-color="#fdd802"/><stop offset="0.79" stop-color="#fddb01"/><stop offset="0.83" stop-color="#fddf01"/><stop offset="0.88" stop-color="#fee201"/><stop offset="0.92" stop-color="#fee701"/><stop offset="0.96" stop-color="#ffeb00"/><stop offset="1" stop-color="#ffed00"/></linearGradient>
<linearGradient id="i54"><stop offset="0" stop-color="#ffffff"/><stop offset="0.04" stop-color="#ffffff"/><stop offset="0.08" stop-color="#fffbd2"/><stop offset="0.12" stop-color="#fef483"/><stop offset="0.17" stop-color="#fcec22"/><stop offset="0.21" stop-color="#fdeb00"/><stop offset="0.25" stop-color="#feed00"/><stop offset="0.29" stop-color="#ffed00"/><stop offset="0.33" stop-color="#ffec00"/><stop offset="0.38" stop-color="#fee601"/><stop offset="0.42" stop-color="#fddf01"/><stop offset="0.46" stop-color="#fddb01"/><stop offset="0.5" stop-color="#fdd902"/><stop offset="0.54" stop-color="#fdd702"/><stop offset="0.58" stop-color="#fdd702"/><stop offset="0.62" stop-color="#fdd702"/><stop offset="0.67" stop-color="#fdd802"/><stop offset="0.71" stop-color="#fdd902"/><stop offset="0.75" stop-color="#fddb01"/><stop offset="0.79" stop-color="#fdde01"/><stop offset="0.83" stop-color="#fee101"/><stop offset="0.88" stop-color="#fee501"/><stop offset="0.92" stop-color="#fee900"/><stop offset="0.96" stop-color="#ffec00"/><stop offset="1" stop-color="#ffee00"/></linearGradient>
<linearGradient id="i55"><stop offset="0" stop-color="#ffffff"/><stop offset="0.04" stop-color="#ffffff"/><stop offset="0.08" stop-color="#fffcda"/><stop offset="0.12" stop-color="#fef58e"/><stop offset="0.17" stop-color="#fdee38"/><stop offset="0.21" stop-color="#fcea00"/><stop offset="0.25" stop-color="#feed00"/><stop offset="0.29" stop-color="#ffee00"/><stop offset="0.33" stop-color="#ffec00"/><stop offset="0.38" stop-color="#ffeb00"/><stop offset="0.42" stop-color="#fee401"/><stop offset="0.46" stop-color="#fee001"/><stop offset="0.5" stop-color="#fddd01"/><stop offset="0.54" stop-color="#fddc01"/><stop offset="0.58" stop-color="#fddb01"/><stop offset="0.62" stop-color="#fddb01"/><stop offset="0.67" stop-color="#fddb01"/><stop offset="0.71" stop-color="#fddd01"/><stop offset="0.75" stop-color="#fddf01"/><stop offset="0.79" stop-color="#fee101"/><stop offset="0.83" stop-color="#fee401"/><stop offset="0.88" stop-color="#fee700"/><stop offset="0.92" stop-color="#ffeb00"/><stop offset="0.96" stop-color="#ffec00"/><stop offset="1" stop-color="#ffee00"/></linearGradient>
<linearGradient id="i56"><stop offset="0" stop-color="#ffffff"/><stop offset="0.04" stop-color="#ffffff"/><stop offset="0.08" stop-color="#fffce1"/><stop offset="0.12" stop-color="#fef699"/><stop offset="0.17" stop-color="#fdf04a"/><stop offset="0.21" stop-color="#fbea00"/><stop offset="0.25" stop-color="#feec00"/><stop offset="0.29" stop-color="#ffee00"/><stop offset="0.33" stop-color="#ffed00"/><stop offset="0.38" stop-color="#ffec00"/><stop offset="0.42" stop-color="#ffe900"/><stop offset="0.46" stop-color="#fee501"/><stop offset="0.5" stop-color="#fee201"/><stop offset="0.54" stop-color="#fee001"/><stop offset="0.58" stop-color="#fddf01"/><stop offset="0.62" stop-color="#fddf01"/><stop offset="0.67" stop-color="#fddf01"/><stop offset="0.71" stop-color="#fee001"/><stop offset="0.75" stop-color="#fee201"/><stop offset="0.79" stop-color="#fee401"/><stop offset="0.83" stop-color="#fee701"/><stop offset="0.88" stop-color="#ffea00"/><stop offset="0.92" stop-color="#ffec00"/><stop offset="0.96" stop-color="#ffed00"/><stop offset="1" stop-color="#feed00"/></linearGradient>
<linearGradient id="i57"><stop offset="0" stop-color="#ffffff"/><stop offset="0.04" stop-color="#ffffff"/><stop offset="0.08" stop-color="#fffde7"/><stop offset="0.12" stop-color="#fef7a5"/><stop offset="0.17" stop-color="#fdf159"/><stop offset="0.21" stop-color="#fae800"/><stop offset="0.25" stop-color="#fdec00"/><stop offset="0.29" stop-color="#feed00"/><stop offset="0.33" stop-color="#ffed00"/><stop offset="0.38" stop-color="#ffec00"/><stop offset="0.42" stop-color="#ffec00"/><stop offset="0.46" stop-color="#ffea00"/><stop offset="0.5" stop-color="#fee701"/><stop offset="0.54" stop-color="#fee501"/><stop offset="0.58" stop-color="#fee401"/><stop offset="0.62" stop-color="#fee301"/><stop offset="0.67" stop-color="#fee301"/><stop offset="0.71" stop-color="#fee401"/><stop offset="0.75" stop-color="#fee601"/><stop offset="0.79" stop-color="#fee800"/><stop offset="0.83" stop-color="#ffea00"/><stop offset="0.88" stop-color="#ffec00"/><stop offset="0.92" stop-color="#ffec00"/><stop offset="0.96" stop-color="#ffee00"/><stop offset="1" stop-color="#feed00"/></linearGradient>
<linearGradient id="i58"><stop offset="0" stop-color="#ffffff"/><stop offset="0.04" stop-color="#ffffff"/><stop offset="0.08" stop-color="#fffeed"/><stop offset="0.12" stop-color="#fef8b0"/><stop offset="0.17" stop-color="#fdf267"/><stop offset="0.21" stop-color="#fbe90c"/><stop offset="0.25" stop-color="#fceb00"/><stop offset="0.29" stop-color="#feed00"/><stop offset="0.33" stop-color="#ffee00"/><stop offset="0.38" stop-color="#ffed00"/><stop offset="0.42" stop-color="#ffec00"/><stop offset="0.46" stop-color="#ffec00"/><stop offset="0.5" stop-color="#ffec00"/><stop offset="0.54" stop-color="#ffea00"/><stop offset="0.58" stop-color="#fee800"/><stop offset="0.62" stop-color="#fee800"/><stop offset="0.67" stop-color="#fee800"/><stop offset="0.71" stop-color="#fee800"/><stop offset="0.75" stop-color="#ffea00"/><stop offset="0.79" stop-color="#ffec00"/><stop offset="0.83" stop-color="#ffec00"/><stop offset="0.88" stop-color="#ffec00"/><stop offset="0.92" stop-color="#ffed00"/><stop offset="0.96" stop-color="#ffee00"/><stop offset="1" stop-color="#fdec00"/></linearGradient>
<linearGradient id="i59"><stop offset="0" stop-color="#ffffff"/><stop offset="0.04" stop-color="#ffffff"/><stop offset="0.08" stop-color="#fffef4"/><stop offset="0.12" stop-color="#fef9bb"/><stop offset="0.17" stop-color="#fef375"/><stop offset="0.21" stop-color="#fcec23"/><stop offset="0.25" stop-color="#fcea00"/><stop offset="0.29" stop-color="#feec00"/><stop offset="0.33" stop-color="#ffee00"/><stop offset="0.38" stop-color="#ffee00"/><stop offset="0.42" stop-color="#ffed00"/><stop offset="0.46" stop-color="#ffec00"/><stop offset="0.5" stop-color="#ffec00"/><stop offset="0.54" stop-color="#ffec00"/><stop offset="0.58" stop-color="#ffec00"/><stop offset="0.62" stop-color="#ffec00"/><stop offset="0.67" stop-color="#ffec00"/><stop offset="0.71" stop-color="#ffec00"/><stop offset="0.75" stop-color="#ffec00"/><stop offset="0.79" stop-color="#ffec00"/><stop offset="0.83" stop-color="#ffec00"/><stop offset="0.88" stop-color="#ffed00"/><stop offset="0.92" stop-color="#ffee00"/><stop offset="0.96" stop-color="#feed00"/><stop offset="1" stop-color="#fdeb00"/></linearGradient>
<linearGradient id="i60"><stop offset="0" stop-color="#ffffff"/><stop offset="0.04" stop-color="#ffffff"/><stop offset="0.08" stop-color="#fffff9"/><stop offset="0.12" stop-color="#fefac6"/><stop offset="0.17" stop-color="#fef483"/><stop offset="0.21" stop-color="#fdef3e"/><stop offset="0.25" stop-color="#fbe900"/><stop offset="0.29" stop-color="#fdec00"/><stop offset="0.33" stop-color="#feed00"/><stop offset="0.38" stop-color="#ffee00"/><stop offset="0.42" stop-color="#ffed00"/><stop offset="0.46" stop-color="#ffed00"/><stop offset="0.5" stop-color="#ffec00"/><stop offset="0.54" stop-color="#ffec00"/><stop offset="0.58" stop-color="#ffec00"/><stop offset="0.62" stop-color="#ffec00"/><stop offset="0.67" stop-color="#ffec00"/><stop offset="0.71" stop-color="#ffec00"/><stop offset="0.75" stop-color="#ffec00"/><stop offset="0.79" stop-color="#ffec00"/><stop offset="0.83" stop-color="#ffed00"/><stop offset="0.88" stop-color="#ffed00"/><stop offset="0.92" stop-color="#ffee00"/><stop offset="0.96" stop-color="#feed00"/><stop offset="1" stop-color="#fceb00"/></linearGradient>
<linearGradient id="i61"><stop offset="0" stop-color="#ffffff"/><stop offset="0.04" stop-color="#ffffff"/><stop offset="0.08" stop-color="#fffffe"/><stop offset="0.12" stop-color="#fffbd1"/><stop offset="0.17" stop-color="#fef691"/><stop offset="0.21" stop-color="#fdf050"/><stop offset="0.25" stop-color="#fae802"/><stop offset="0.29" stop-color="#fceb00"/><stop offset="0.33" stop-color="#feec00"/><stop offset="0.38" stop-color="#feed00"/><stop offset="0.42" stop-color="#ffee00"/><stop offset="0.46" stop-color="#ffed00"/><stop offset="0.5" stop-color="#ffed00"/><stop offset="0.54" stop-color="#ffed00"/><stop offset="0.58" stop-color="#ffed00"/><stop offset="0.62" stop-color="#ffec00"/><stop offset="0.67" stop-color="#ffec00"/><stop offset="0.71" stop-color="#ffed00"/><stop offset="0.75" stop-color="#ffed00"/><stop offset="0.79" stop-color="#ffed00"/><stop offset="0.83" stop-color="#ffed00"/><stop offset="0.88" stop-color="#ffee00"/><stop offset="0.92" stop-color="#feed00"/><stop offset="0.96" stop-color="#fdec00"/><stop offset="1" stop-color="#fbea00"/></linearGradient>
<linearGradient id="i62"><stop offset="0" stop-color="#ffffff"/><stop offset="0.04" stop-color="#ffffff"/><stop offset="0.08" stop-color="#ffffff"/><stop offset="0.12" stop-color="#fffcdb"/><stop offset="0.17" stop-color="#fef79f"/><stop offset="0.21" stop-color="#fdf261"/><stop offset="0.25" stop-color="#fbea17"/><stop offset="0.29" stop-color="#fcea00"/><stop offset="0.33" stop-color="#fdec00"/><stop offset="0.38" stop-color="#feed00"/><stop offset="0.42" stop-color="#ffee00"/><stop offset="0.46" stop-color="#ffee00"/><stop offset="0.5" stop-color="#ffee00"/><stop offset="0.54" stop-color="#ffed00"/><stop offset="0.58" stop-color="#ffed00"/><stop offset="0.62" stop-color="#ffed00"/><stop offset="0.67" stop-color="#ffed00"/><stop offset="0.71" stop-color="#ffed00"/><stop offset="0.75" stop-color="#ffed00"/><stop offset="0.79" stop-color="#ffee00"/><stop offset="0.83" stop-color="#ffee00"/><stop offset="0.88" stop-color="#ffed00"/><stop offset="0.92" stop-color="#feed00"/><stop offset="0.96" stop-color="#fdeb00"/><stop offset="1" stop-color="#fae800"/></linearGradient>
<linearGradient id="i63"><stop offset="0" stop-color="#ffffff"/><stop offset="0.04" stop-color="#ffffff"/><stop offset="0.08" stop-color="#ffffff"/><stop offset="0.12" stop-color="#fffde4"/><stop offset="0.17" stop-color="#fef8ad"/><stop offset="0.21" stop-color="#fef372"/><stop offset="0.25" stop-color="#fced32"/><stop offset="0.29" stop-color="#fbe900"/><stop offset="0.33" stop-color="#fceb00"/><stop offset="0.38" stop-color="#fdec00"/><stop offset="0.42" stop-color="#feed00"/><stop offset="0.46" stop-color="#ffee00"/><stop offset="0.5" stop-color="#ffee00"/><stop offset="0.54" stop-color="#ffee00"/><stop offset="0.58" stop-color="#ffee00"/><stop offset="0.62" stop-color="#ffee00"/><stop offset="0.67" stop-color="#ffee00"/><stop offset="0.71" stop-color="#ffee00"/><stop offset="0.75" stop-color="#ffee00"/><stop offset="0.79" stop-color="#ffee00"/><stop offset="0.83" stop-color="#ffed00"/><stop offset="0.88" stop-color="#feed00"/><stop offset="0.92" stop-color="#fdec00"/><stop offset="0.96" stop-color="#fcea00"/><stop offset="1" stop-color="#fbea10"/></linearGradient>
<linearGradient id="i64"><stop offset="0" stop-color="#ffffff"/><stop offset="0.04" stop-color="#ffffff"/><stop offset="0.08" stop-color="#ffffff"/><stop offset="0.12" stop-color="#fffdec"/><stop offset="0.17" stop-color="#fef9bb"/><stop offset="0.21" stop-color="#fef481"/><stop offset="0.25" stop-color="#fdf04b"/><stop offset="0.29" stop-color="#fae908"/><stop offset="0.33" stop-color="#fcea00"/><stop offset="0.38" stop-color="#fdeb00"/><stop offset="0.42" stop-color="#feec00"/><stop offset="0.46" stop-color="#feed00"/><stop offset="0.5" stop-color="#feed00"/><stop offset="0.54" stop-color="#ffee00"/><stop offset="0.58" stop-color="#ffee00"/><stop offset="0.62" stop-color="#ffee00"/><stop offset="0.67" stop-color="#ffee00"/><stop offset="0.71" stop-color="#ffee00"/><stop offset="0.75" stop-color="#ffee00"/><stop offset="0.79" stop-color="#feed00"/><stop offset="0.83" stop-color="#feed00"/><stop offset="0.88" stop-color="#feec00"/><stop offset="0.92" stop-color="#fdeb00"/><stop offset="0.96" stop-color="#fbe900"/><stop offset="1" stop-color="#fced2b"/></linearGradient>
<linearGradient id="i65"><stop offset="0" stop-color="#ffffff"/><stop offset="0.04" stop-color="#ffffff"/><stop offset="0.08" stop-color="#ffffff"/><stop offset="0.12" stop-color="#fffef4"/><stop offset="0.17" stop-color="#fefac8"/><stop offset="0.21" stop-color="#fef690"/><stop offset="0.25" stop-color="#fdf15d"/><stop offset="0.29" stop-color="#fbeb20"/><stop offset="0.33" stop-color="#fbe900"/><stop offset="0.38" stop-color="#fceb00"/><stop offset="0.42" stop-color="#fdec00"/><stop offset="0.46" stop-color="#feec00"/><stop offset="0.5" stop-color="#feed00"/><stop offset="0.54" stop-color="#feed00"/><stop offset="0.58" stop-color="#feed00"/><stop offset="0.62" stop-color="#feed00"/><stop offset="0.67" stop-color="#ffed00"/><stop offset="0.71" stop-color="#feed00"/><stop offset="0.75" stop-color="#feed00"/><stop offset="0.79" stop-color="#feed00"/><stop offset="0.83" stop-color="#feec00"/><stop offset="0.88" stop-color="#fdec00"/><stop offset="0.92" stop-color="#fcea00"/><stop offset="0.96" stop-color="#fae801"/><stop offset="1" stop-color="#fdef47"/></linearGradient>
<linearGradient id="i66"><stop offset="0" stop-color="#ffffff"/><stop offset="0.04" stop-color="#ffffff"/><stop offset="0.08" stop-color="#ffffff"/><stop offset="0.12" stop-color="#fffffb"/><stop offset="0.17" stop-color="#fffbd4"/><stop offset="0.21" stop-color="#fef7a0"/><stop offset="0.25" stop-color="#fdf36f"/><stop offset="0.29" stop-color="#fdef3f"/><stop offset="0.33" stop-color="#fae906"/><stop offset="0.38" stop-color="#fcea00"/><stop offset="0.42" stop-color="#fceb00"/><stop offset="0.46" stop-color="#fdec00"/><stop offset="0.5" stop-color="#feec00"/><stop offset="0.54" stop-color="#feed00"/><stop offset="0.58" stop-color="#feed00"/><stop offset="0.62" stop-color="#feed00"/><stop offset="0.67" stop-color="#feed00"/><stop offset="0.71" stop-color="#feed00"/><stop offset="0.75" stop-color="#feed00"/><stop offset="0.79" stop-color="#feec00"/><stop offset="0.83" stop-color="#fdec00"/><stop offset="0.88" stop-color="#fceb00"/><stop offset="0.92" stop-color="#fbea00"/><stop offset="0.96" stop-color="#fbea17"/><stop offset="1" stop-color="#fdf159"/></linearGradient>
<linearGradient id="i67"><stop offset="0" stop-color="#ffffff"/><stop offset="0.04" stop-color="#ffffff"/><stop offset="0.08" stop-color="#ffffff"/><stop offset="0.12" stop-color="#ffffff"/><stop offset="0.17" stop-color="#fffcdf"/><stop offset="0.21" stop-color="#fef8b0"/><stop offset="0.25" stop-color="#fef47f"/><stop offset="0.29" stop-color="#fdf053"/><stop offset="0.33" stop-color="#fbeb1e"/><stop offset="0.38" stop-color="#fbe900"/><stop offset="0.42" stop-color="#fcea00"/><stop offset="0.46" stop-color="#fdeb00"/><stop offset="0.5" stop-color="#fdec00"/><stop offset="0.54" stop-color="#fdec00"/><stop offset="0.58" stop-color="#feec00"/><stop offset="0.62" stop-color="#feec00"/><stop offset="0.67" stop-color="#feec00"/><stop offset="0.71" stop-color="#feec00"/><stop offset="0.75" stop-color="#fdec00"/><stop offset="0.79" stop-color="#fdec00"/><stop offset="0.83" stop-color="#fceb00"/><stop offset="0.88" stop-color="#fcea00"/><stop offset="0.92" stop-color="#fae801"/><stop offset="0.96" stop-color="#fced33"/><stop offset="1" stop-color="#fdf26b"/></linearGradient>
<linearGradient id="i68"><stop offset="0" stop-color="#ffffff"/><stop offset="0.04" stop-color="#ffffff"/><stop offset="0.08" stop-color="#ffffff"/><stop offset="0.12" stop-color="#ffffff"/><stop offset="0.17" stop-color="#fffde9"/><stop offset="0.21" stop-color="#fefabe"/><stop offset="0.25" stop-color="#fef68f"/><stop offset="0.29" stop-color="#fdf265"/><stop offset="0.33" stop-color="#fdee3d"/><stop offset="0.38" stop-color="#fbe90e"/><stop offset="0.42" stop-color="#fbe900"/><stop offset="0.46" stop-color="#fcea00"/><stop offset="0.5" stop-color="#fceb00"/><stop offset="0.54" stop-color="#fdeb00"/><stop offset="0.58" stop-color="#fdec00"/><stop offset="0.62" stop-color="#fdec00"/><stop offset="0.67" stop-color="#fdec00"/><stop offset="0.71" stop-color="#fdec00"/><stop offset="0.75" stop-color="#fdeb00"/><stop offset="0.79" stop-color="#fceb00"/><stop offset="0.83" stop-color="#fcea00"/><stop offset="0.88" stop-color="#fbe900"/><stop offset="0.92" stop-color="#fbea16"/><stop offset="0.96" stop-color="#fdf04c"/><stop offset="1" stop-color="#fef47b"/></linearGradient>
<linearGradient id="i69"><stop offset="0" stop-color="#ffffff"/><stop offset="0.04" stop-color="#ffffff"/><stop offset="0.08" stop-color="#ffffff"/><stop offset="0.12" stop-color="#ffffff"/><stop offset="0.17" stop-color="#fffef2"/><stop offset="0.21" stop-color="#fefbcc"/><stop offset="0.25" stop-color="#fef7a0"/><stop offset="0.29" stop-color="#fef377"/><stop offset="0.33" stop-color="#fdf052"/><stop offset="0.38" stop-color="#fcec29"/><stop offset="0.42" stop-color="#fae907"/><stop offset="0.46" stop-color="#fbe900"/><stop offset="0.5" stop-color="#fcea00"/><stop offset="0.54" stop-color="#fceb00"/><stop offset="0.58" stop-color="#fceb00"/><stop offset="0.62" stop-color="#fceb00"/><stop offset="0.67" stop-color="#fceb00"/><stop offset="0.71" stop-color="#fceb00"/><stop offset="0.75" stop-color="#fceb00"/><stop offset="0.79" stop-color="#fcea00"/><stop offset="0.83" stop-color="#fbe900"/><stop offset="0.88" stop-color="#fae909"/><stop offset="0.92" stop-color="#fced32"/><stop offset="0.96" stop-color="#fdf15e"/><stop offset="1" stop-color="#fef58b"/></linearGradient>
<linearGradient id="i70"><stop offset="0" stop-color="#ffffff"/><stop offset="0.04" stop-color="#ffffff"/><stop offset="0.08" stop-color="#ffffff"/><stop offset="0.12" stop-color="#ffffff"/><stop offset="0.17" stop-color="#fffff9"/><stop offset="0.21" stop-color="#fffcd9"/><stop offset="0.25" stop-color="#fef8b0"/><stop offset="0.29" stop-color="#fef587"/><stop offset="0.33" stop-color="#fdf265"/><stop offset="0.38" stop-color="#fdef46"/><stop offset="0.42" stop-color="#fbeb1f"/><stop offset="0.46" stop-color="#fae905"/><stop offset="0.5" stop-color="#fbe900"/><stop offset="0.54" stop-color="#fbea00"/><stop offset="0.58" stop-color="#fcea00"/><stop offset="0.62" stop-color="#fcea00"/><stop offset="0.67" stop-color="#fcea00"/><stop offset="0.71" stop-color="#fcea00"/><stop offset="0.75" stop-color="#fbea00"/><stop offset="0.79" stop-color="#fbe900"/><stop offset="0.83" stop-color="#fae905"/><stop offset="0.88" stop-color="#fbeb21"/><stop offset="0.92" stop-color="#fdf04b"/><stop offset="0.96" stop-color="#fdf370"/><stop offset="1" stop-color="#fef79b"/></linearGradient>
<linearGradient id="i71"><stop offset="0" stop-color="#ffffff"/><stop offset="0.04" stop-color="#ffffff"/><stop offset="0.08" stop-color="#ffffff"/><stop offset="0.12" stop-color="#ffffff"/><stop offset="0.17" stop-color="#ffffff"/><stop offset="0.21" stop-color="#fffde4"/><stop offset="0.25" stop-color="#fefabf"/><stop offset="0.29" stop-color="#fef699"/><stop offset="0.33" stop-color="#fef377"/><stop offset="0.38" stop-color="#fdf159"/><stop offset="0.42" stop-color="#fdef3e"/><stop offset="0.46" stop-color="#fbeb1d"/><stop offset="0.5" stop-color="#fae908"/><stop offset="0.54" stop-color="#fae800"/><stop offset="0.58" stop-color="#fbe900"/><stop offset="0.62" stop-color="#fbe900"/><stop offset="0.67" stop-color="#fbe900"/><stop offset="0.71" stop-color="#fbe900"/><stop offset="0.75" stop-color="#fae800"/><stop offset="0.79" stop-color="#fae907"/><stop offset="0.83" stop-color="#fbeb1b"/><stop offset="0.88" stop-color="#fdef3f"/><stop offset="0.92" stop-color="#fdf15d"/><stop offset="0.96" stop-color="#fef480"/><stop offset="1" stop-color="#fef8ab"/></linearGradient>
<linearGradient id="i72"><stop offset="0" stop-color="#ffffff"/><stop offset="0.04" stop-color="#ffffff"/><stop offset="0.08" stop-color="#ffffff"/><stop offset="0.12" stop-color="#ffffff"/><stop offset="0.17" stop-color="#ffffff"/><stop offset="0.21" stop-color="#fffeee"/><stop offset="0.25" stop-color="#fefbcd"/><stop offset="0.29" stop-color="#fef8aa"/><stop offset="0.33" stop-color="#fef588"/><stop offset="0.38" stop-color="#fdf36c"/><stop offset="0.42" stop-color="#fdf053"/><stop offset="0.46" stop-color="#fdee3b"/><stop offset="0.5" stop-color="#fbeb21"/><stop offset="0.54" stop-color="#fbea11"/><stop offset="0.58" stop-color="#fae908"/><stop offset="0.62" stop-color="#fae804"/><stop offset="0.67" stop-color="#fae804"/><stop offset="0.71" stop-color="#fae907"/><stop offset="0.75" stop-color="#fbea0f"/><stop offset="0.79" stop-color="#fbeb1e"/><stop offset="0.83" stop-color="#fdee38"/><stop offset="0.88" stop-color="#fdf052"/><stop offset="0.92" stop-color="#fdf36f"/><stop offset="0.96" stop-color="#fef690"/><stop offset="1" stop-color="#fef9ba"/></linearGradient>
<linearGradient id="i73"><stop offset="0" stop-color="#ffffff"/><stop offset="0.04" stop-color="#ffffff"/><stop offset="0.08" stop-color="#ffffff"/><stop offset="0.12" stop-color="#ffffff"/><stop offset="0.17" stop-color="#ffffff"/><stop offset="0.21" stop-color="#fffef7"/><stop offset="0.25" stop-color="#fffcdb"/><stop offset="0.29" stop-color="#fef9ba"/><stop offset="0.33" stop-color="#fef699"/><stop offset="0.38" stop-color="#fef47d"/><stop offset="0.42" stop-color="#fdf266"/><stop offset="0.46" stop-color="#fdf051"/><stop offset="0.5" stop-color="#fdef40"/><stop offset="0.54" stop-color="#fced2b"/><stop offset="0.58" stop-color="#fbeb20"/><stop offset="0.62" stop-color="#fbeb1a"/><stop offset="0.67" stop-color="#fbeb19"/><stop offset="0.71" stop-color="#fbeb1d"/><stop offset="0.75" stop-color="#fcec28"/><stop offset="0.79" stop-color="#fdee3b"/><stop offset="0.83" stop-color="#fdf04e"/><stop offset="0.88" stop-color="#fdf264"/><stop offset="0.92" stop-color="#fef47f"/><stop offset="0.96" stop-color="#fef7a1"/><stop offset="1" stop-color="#fefac8"/></linearGradient>
<linearGradient id="i74"><stop offset="0" stop-color="#ffffff"/><stop offset="0.04" stop-color="#ffffff"/><stop offset="0.08" stop-color="#ffffff"/><stop offset="0.12" stop-color="#ffffff"/><stop offset="0.17" stop-color="#ffffff"/><stop offset="0.21" stop-color="#fffffe"/><stop offset="0.25" stop-color="#fffde6"/><stop offset="0.29" stop-color="#fefac8"/><stop offset="0.33" stop-color="#fef8aa"/><stop offset="0.38" stop-color="#fef58e"/><stop offset="0.42" stop-color="#fef478"/><stop offset="0.46" stop-color="#fdf264"/><stop offset="0.5" stop-color="#fdf053"/><stop offset="0.54" stop-color="#fdef47"/><stop offset="0.58" stop-color="#fdef3d"/><stop offset="0.62" stop-color="#fcee36"/><stop offset="0.67" stop-color="#fcee35"/><stop offset="0.71" stop-color="#fdee3a"/><stop offset="0.75" stop-color="#fdef45"/><stop offset="0.79" stop-color="#fdf050"/><stop offset="0.83" stop-color="#fdf260"/><stop offset="0.88" stop-color="#fef375"/><stop offset="0.92" stop-color="#fef68f"/><stop offset="0.96" stop-color="#fef8b0"/><stop offset="1" stop-color="#fffbd5"/></linearGradient>
<linearGradient id="i75"><stop offset="0" stop-color="#ffffff"/><stop offset="0.04" stop-color="#ffffff"/><stop offset="0.08" stop-color="#ffffff"/><stop offset="0.12" stop-color="#ffffff"/><stop offset="0.17" stop-color="#ffffff"/><stop offset="0.21" stop-color="#ffffff"/><stop offset="0.25" stop-color="#fffef0"/><stop offset="0.29" stop-color="#fffcd6"/><stop offset="0.33" stop-color="#fef9ba"/><stop offset="0.38" stop-color="#fef7a0"/><stop offset="0.42" stop-color="#fef588"/><stop offset="0.46" stop-color="#fef376"/><stop offset="0.5" stop-color="#fdf266"/><stop offset="0.54" stop-color="#fdf15a"/><stop offset="0.58" stop-color="#fdf051"/><stop offset="0.62" stop-color="#fdf04d"/><stop offset="0.67" stop-color="#fdf04c"/><stop offset="0.71" stop-color="#fdf04f"/><stop offset="0.75" stop-color="#fdf156"/><stop offset="0.79" stop-color="#fdf262"/><stop offset="0.83" stop-color="#fef372"/><stop offset="0.88" stop-color="#fef585"/><stop offset="0.92" stop-color="#fef79f"/><stop offset="0.96" stop-color="#fefabf"/><stop offset="1" stop-color="#fffce0"/></linearGradient>
<linearGradient id="i76"><stop offset="0" stop-color="#ffffff"/><stop offset="0.04" stop-color="#ffffff"/><stop offset="0.08" stop-color="#ffffff"/><stop offset="0.12" stop-color="#ffffff"/><stop offset="0.17" stop-color="#ffffff"/><stop offset="0.21" stop-color="#ffffff"/><stop offset="0.25" stop-color="#fffef9"/><stop offset="0.29" stop-color="#fffde3"/><stop offset="0.33" stop-color="#fefac9"/><stop offset="0.38" stop-color="#fef8b1"/><stop offset="0.42" stop-color="#fef69a"/><stop offset="0.46" stop-color="#fef587"/><stop offset="0.5" stop-color="#fef478"/><stop offset="0.54" stop-color="#fdf36c"/><stop offset="0.58" stop-color="#fdf264"/><stop offset="0.62" stop-color="#fdf15f"/><stop offset="0.67" stop-color="#fdf15e"/><stop offset="0.71" stop-color="#fdf261"/><stop offset="0.75" stop-color="#fdf268"/><stop offset="0.79" stop-color="#fef373"/><stop offset="0.83" stop-color="#fef481"/><stop offset="0.88" stop-color="#fef695"/><stop offset="0.92" stop-color="#fef8af"/><stop offset="0.96" stop-color="#fefbcd"/><stop offset="1" stop-color="#fffdea"/></linearGradient>
<linearGradient id="i77"><stop offset="0" stop-color="#ffffff"/><stop offset="0.04" stop-color="#ffffff"/><stop offset="0.08" stop-color="#ffffff"/><stop offset="0.12" stop-color="#ffffff"/><stop offset="0.17" stop-color="#ffffff"/><stop offset="0.21" stop-color="#ffffff"/><stop offset="0.25" stop-color="#ffffff"/><stop offset="0.29" stop-color="#fffded"/><stop offset="0.33" stop-color="#fffcd7"/><stop offset="0.38" stop-color="#fefac0"/><stop offset="0.42" stop-color="#fef8ab"/><stop offset="0.46" stop-color="#fef698"/><stop offset="0.5" stop-color="#fef588"/><stop offset="0.54" stop-color="#fef47d"/><stop offset="0.58" stop-color="#fef375"/><stop offset="0.62" stop-color="#fdf371"/><stop offset="0.67" stop-color="#fdf370"/><stop offset="0.71" stop-color="#fef372"/><stop offset="0.75" stop-color="#fef479"/><stop offset="0.79" stop-color="#fef483"/><stop offset="0.83" stop-color="#fef691"/><stop offset="0.88" stop-color="#fef7a6"/><stop offset="0.92" stop-color="#fef9be"/><stop offset="0.96" stop-color="#fffcd9"/><stop offset="1" stop-color="#fffef3"/></linearGradient>
<linearGradient id="i78"><stop offset="0" stop-color="#ffffff"/><stop offset="0.04" stop-color="#ffffff"/><stop offset="0.08" stop-color="#ffffff"/><stop offset="0.12" stop-color="#ffffff"/><stop offset="0.17" stop-color="#ffffff"/><stop offset="0.21" stop-color="#ffffff"/><stop offset="0.25" stop-color="#ffffff"/><stop offset="0.29" stop-color="#fffef7"/><stop offset="0.33" stop-color="#fffde4"/><stop offset="0.38" stop-color="#fefbcf"/><stop offset="0.42" stop-color="#fef9bb"/><stop offset="0.46" stop-color="#fef8a9"/><stop offset="0.5" stop-color="#fef69a"/><stop offset="0.54" stop-color="#fef58d"/><stop offset="0.58" stop-color="#fef585"/><stop offset="0.62" stop-color="#fef481"/><stop offset="0.67" stop-color="#fef480"/><stop offset="0.71" stop-color="#fef482"/><stop offset="0.75" stop-color="#fef588"/><stop offset="0.79" stop-color="#fef693"/><stop offset="0.83" stop-color="#fef7a2"/><stop offset="0.88" stop-color="#fef9b5"/><stop offset="0.92" stop-color="#fefbcc"/><stop offset="0.96" stop-color="#fffde4"/><stop offset="1" stop-color="#fffffb"/></linearGradient>
<linearGradient id="i79"><stop offset="0" stop-color="#ffffff"/><stop offset="0.04" stop-color="#ffffff"/><stop offset="0.08" stop-color="#ffffff"/><stop offset="0.12" stop-color="#ffffff"/><stop offset="0.17" stop-color="#ffffff"/><stop offset="0.21" stop-color="#ffffff"/><stop offset="0.25" stop-color="#ffffff"/><stop offset="0.29" stop-color="#fffffe"/><stop offset="0.33" stop-color="#fffeee"/><stop offset="0.38" stop-color="#fffcdd"/><stop offset="0.42" stop-color="#fefbca"/><stop offset="0.46" stop-color="#fef9ba"/><stop offset="0.5" stop-color="#fef8ab"/><stop offset="0.54" stop-color="#fef79f"/><stop offset="0.58" stop-color="#fef696"/><stop offset="0.62" stop-color="#fef691"/><stop offset="0.67" stop-color="#fef690"/><stop offset="0.71" stop-color="#fef692"/><stop offset="0.75" stop-color="#fef699"/><stop offset="0.79" stop-color="#fef7a3"/><stop offset="0.83" stop-color="#fef8b2"/><stop offset="0.88" stop-color="#fefac3"/><stop offset="0.92" stop-color="#fffcd9"/><stop offset="0.96" stop-color="#fffeee"/><stop offset="1" stop-color="#ffffff"/></linearGradient>
<linearGradient id="i80"><stop offset="0" stop-color="#ffffff"/><stop offset="0.04" stop-color="#ffffff"/><stop offset="0.08" stop-color="#ffffff"/><stop offset="0.12" stop-color="#ffffff"/><stop offset="0.17" stop-color="#ffffff"/><stop offset="0.21" stop-color="#ffffff"/><stop offset="0.25" stop-color="#ffffff"/><stop offset="0.29" stop-color="#ffffff"/><stop offset="0.33" stop-color="#fffef7"/><stop offset="0.38" stop-color="#fffde8"/><stop offset="0.42" stop-color="#fffcd8"/><stop offset="0.46" stop-color="#fefac9"/><stop offset="0.5" stop-color="#fef9bb"/><stop offset="0.54" stop-color="#fef8af"/><stop offset="0.58" stop-color="#fef8a7"/><stop offset="0.62" stop-color="#fef7a2"/><stop offset="0.67" stop-color="#fef7a0"/><stop offset="0.71" stop-color="#fef7a3"/><stop offset="0.75" stop-color="#fef8a9"/><stop offset="0.79" stop-color="#fef9b3"/><stop offset="0.83" stop-color="#fefac0"/><stop offset="0.88" stop-color="#fffbd1"/><stop offset="0.92" stop-color="#fffde4"/><stop offset="0.96" stop-color="#fffef6"/><stop offset="1" stop-color="#ffffff"/></linearGradient>
<linearGradient id="i81"><stop offset="0" stop-color="#ffffff"/><stop offset="0.04" stop-color="#ffffff"/><stop offset="0.08" stop-color="#ffffff"/><stop offset="0.12" stop-color="#ffffff"/><stop offset="0.17" stop-color="#ffffff"/><stop offset="0.21" stop-color="#ffffff"/><stop offset="0.25" stop-color="#ffffff"/><stop offset="0.29" stop-color="#ffffff"/><stop offset="0.33" stop-color="#ffffff"/><stop offset="0.38" stop-color="#fffef2"/><stop offset="0.42" stop-color="#fffde4"/><stop offset="0.46" stop-color="#fffcd7"/><stop offset="0.5" stop-color="#fefac9"/><stop offset="0.54" stop-color="#fefabf"/><stop offset="0.58" stop-color="#fef9b7"/><stop offset="0.62" stop-color="#fef8b2"/><stop offset="0.67" stop-color="#fef8b0"/><stop offset="0.71" stop-color="#fef9b3"/><stop offset="0.75" stop-color="#fef9b8"/><stop offset="0.79" stop-color="#fefac1"/><stop offset="0.83" stop-color="#fefbce"/><stop offset="0.88" stop-color="#fffcdd"/><stop offset="0.92" stop-color="#fffeed"/><stop offset="0.96" stop-color="#fffffe"/><stop offset="1" stop-color="#ffffff"/></linearGradient>
<linearGradient id="i82"><stop offset="0" stop-color="#ffffff"/><stop offset="0.04" stop-color="#ffffff"/><stop offset="0.08" stop-color="#ffffff"/><stop offset="0.12" stop-color="#ffffff"/><stop offset="0.17" stop-color="#ffffff"/><stop offset="0.21" stop-color="#ffffff"/><stop offset="0.25" stop-color="#ffffff"/><stop offset="0.29" stop-color="#ffffff"/><stop offset="0.33" stop-color="#ffffff"/><stop offset="0.38" stop-color="#fffffb"/><stop offset="0.42" stop-color="#fffeef"/><stop offset="0.46" stop-color="#fffde3"/><stop offset="0.5" stop-color="#fffcd7"/><stop offset="0.54" stop-color="#fefbcd"/><stop offset="0.58" stop-color="#fefac5"/><stop offset="0.62" stop-color="#fefac1"/><stop offset="0.67" stop-color="#fefabf"/><stop offset="0.71" stop-color="#fefac1"/><stop offset="0.75" stop-color="#fefac6"/><stop offset="0.79" stop-color="#fefbcf"/><stop offset="0.83" stop-color="#fffcda"/><stop offset="0.88" stop-color="#fffde8"/><stop offset="0.92" stop-color="#fffef6"/><stop offset="0.96" stop-color="#ffffff"/><stop offset="1" stop-color="#ffffff"/></linearGradient>
<linearGradient id="i83"><stop offset="0" stop-color="#ffffff"/><stop offset="0.04" stop-color="#ffffff"/><stop offset="0.08" stop-color="#ffffff"/><stop offset="0.12" stop-color="#ffffff"/><stop offset="0.17" stop-color="#ffffff"/><stop offset="0.21" stop-color="#ffffff"/><stop offset="0.25" stop-color="#ffffff"/><stop offset="0.29" stop-color="#ffffff"/><stop offset="0.33" stop-color="#ffffff"/><stop offset="0.38" stop-color="#ffffff"/><stop offset="0.42" stop-color="#fffef8"/><stop offset="0.46" stop-color="#fffeed"/><stop offset="0.5" stop-color="#fffde3"/><stop offset="0.54" stop-color="#fffcdb"/><stop offset="0.58" stop-color="#fffbd3"/><stop offset="0.62" stop-color="#fefbcf"/><stop offset="0.67" stop-color="#fefbcd"/><stop offset="0.71" stop-color="#fefbcf"/><stop offset="0.75" stop-color="#fffbd4"/><stop offset="0.79" stop-color="#fffcdb"/><stop offset="0.83" stop-color="#fffde5"/><stop offset="0.88" stop-color="#fffef1"/><stop offset="0.92" stop-color="#fffffd"/><stop offset="0.96" stop-color="#ffffff"/><stop offset="1" stop-color="#ffffff"/></linearGradient>
<clipPath id="ic"><rect x="769.5" y="58.5" width="370.5" height="309"/></clipPath>
<linearGradient id="cb" x1="0" y1="0" x2="0" y2="1"><stop offset="0" stop-color="#ffffff"/><stop offset="0.19" stop-color="#fdef42"/><stop offset="0.23" stop-color="#fae800"/><stop offset="0.25" stop-color="#ffee00"/><stop offset="0.64" stop-color="#e60012"/><stop offset="0.73" stop-color="#b1181b"/><stop offset="0.87" stop-color="#601a17"/><stop offset="1" stop-color="#231815"/></linearGradient></defs>
<rect width="1976" height="449" fill="#fff"/>
<g clip-path="url(#dc)"><g filter="url(#bx)"><rect x="112.5" y="58.5" width="2.6" height="309" fill="url(#d0)"/><rect x="114.5" y="58.5" width="2.6" height="309" fill="url(#d1)"/><rect x="116.5" y="58.5" width="2.6" height="309" fill="url(#d2)"/><rect x="118.5" y="58.5" width="2.6" height="309" fill="url(#d3)"/><rect x="120.5" y="58.5" width="2.6" height="309" fill="url(#d4)"/><rect x="122.5" y="58.5" width="2.6" height="309" fill="url(#d5)"/><rect x="124.5" y="58.5" width="2.6" height="309" fill="url(#d6)"/><rect x="126.5" y="58.5" width="2.6" height="309" fill="url(#d7)"/><rect x="128.5" y="58.5" width="2.6" height="309" fill="url(#d8)"/><rect x="130.5" y="58.5" width="2.6" height="309" fill="url(#d9)"/><rect x="132.5" y="58.5" width="2.6" height="309" fill="url(#d10)"/><rect x="134.5" y="58.5" width="2.6" height="309" fill="url(#d11)"/><rect x="136.5" y="58.5" width="2.6" height="309" fill="url(#d12)"/><rect x="138.5" y="58.5" width="2.6" height="309" fill="url(#d13)"/><rect x="140.5" y="58.5" width="2.6" height="309" fill="url(#d14)"/><rect x="142.5" y="58.5" width="2.6" height="309" fill="url(#d15)"/><rect x="144.5" y="58.5" width="2.6" height="309" fill="url(#d16)"/><rect x="146.5" y="58.5" width="2.6" height="309" fill="url(#d17)"/><rect x="148.5" y="58.5" width="2.6" height="309" fill="url(#d18)"/><rect x="150.5" y="58.5" width="2.6" height="309" fill="url(#d19)"/><rect x="152.5" y="58.5" width="2.6" height="309" fill="url(#d20)"/><rect x="154.5" y="58.5" width="2.6" height="309" fill="url(#d21)"/><rect x="156.5" y="58.5" width="2.6" height="309" fill="url(#d22)"/><rect x="158.5" y="58.5" width="2.6" height="309" fill="url(#d23)"/><rect x="160.5" y="58.5" width="2.6" height="309" fill="url(#d24)"/><rect x="162.5" y="58.5" width="2.6" height="309" fill="url(#d25)"/><rect x="164.5" y="58.5" width="2.6" height="309" fill="url(#d26)"/><rect x="166.5" y="58.5" width="2.6" height="309" fill="url(#d27)"/><rect x="168.5" y="58.5" width="2.6" height="309" fill="url(#d28)"/><rect x="170.5" y="58.5" width="2.6" height="309" fill="url(#d29)"/><rect x="172.5" y="58.5" width="2.6" height="309" fill="url(#d30)"/><rect x="174.5" y="58.5" width="2.6" height="309" fill="url(#d31)"/><rect x="176.5" y="58.5" width="2.6" height="309" fill="url(#d32)"/><rect x="178.5" y="58.5" width="2.6" height="309" fill="url(#d33)"/><rect x="180.5" y="58.5" width="2.6" height="309" fill="url(#d34)"/><rect x="182.5" y="58.5" width="2.6" height="309" fill="url(#d35)"/><rect x="184.5" y="58.5" width="2.6" height="309" fill="url(#d36)"/><rect x="186.5" y="58.5" width="2.6" height="309" fill="url(#d37)"/><rect x="188.5" y="58.5" width="2.6" height="309" fill="url(#d38)"/><rect x="190.5" y="58.5" width="2.6" height="309" fill="url(#d39)"/><rect x="192.5" y="58.5" width="2.6" height="309" fill="url(#d40)"/><rect x="194.5" y="58.5" width="2.6" height="309" fill="url(#d41)"/><rect x="196.5" y="58.5" width="2.6" height="309" fill="url(#d42)"/><rect x="198.5" y="58.5" width="2.6" height="309" fill="url(#d43)"/><rect x="200.5" y="58.5" width="2.6" height="309" fill="url(#d44)"/><rect x="202.5" y="58.5" width="2.6" height="309" fill="url(#d45)"/><rect x="204.5" y="58.5" width="2.6" height="309" fill="url(#d46)"/><rect x="206.5" y="58.5" width="2.6" height="309" fill="url(#d47)"/><rect x="208.5" y="58.5" width="2.6" height="309" fill="url(#d48)"/><rect x="210.5" y="58.5" width="2.6" height="309" fill="url(#d49)"/><rect x="212.5" y="58.5" width="2.6" height="309" fill="url(#d50)"/><rect x="214.5" y="58.5" width="2.6" height="309" fill="url(#d51)"/><rect x="216.5" y="58.5" width="2.6" height="309" fill="url(#d52)"/><rect x="218.5" y="58.5" width="2.6" height="309" fill="url(#d53)"/><rect x="220.5" y="58.5" width="2.6" height="309" fill="url(#d54)"/><rect x="222.5" y="58.5" width="2.6" height="309" fill="url(#d55)"/><rect x="224.5" y="58.5" width="2.6" height="309" fill="url(#d56)"/><rect x="226.5" y="58.5" width="2.6" height="309" fill="url(#d57)"/><rect x="228.5" y="58.5" width="2.6" height="309" fill="url(#d58)"/><rect x="230.5" y="58.5" width="2.6" height="309" fill="url(#d59)"/><rect x="232.5" y="58.5" width="2.6" height="309" fill="url(#d60)"/><rect x="234.5" y="58.5" width="2.6" height="309" fill="url(#d61)"/><rect x="236.5" y="58.5" width="2.6" height="309" fill="url(#d62)"/><rect x="238.5" y="58.5" width="2.6" height="309" fill="url(#d63)"/><rect x="240.5" y="58.5" width="2.6" height="309" fill="url(#d64)"/><rect x="242.5" y="58.5" width="2.6" height="309" fill="url(#d65)"/><rect x="244.5" y="58.5" width="2.6" height="309" fill="url(#d66)"/><rect x="246.5" y="58.5" width="2.6" height="309" fill="url(#d67)"/><rect x="248.5" y="58.5" width="2.6" height="309" fill="url(#d68)"/><rect x="250.5" y="58.5" width="2.6" height="309" fill="url(#d69)"/><rect x="252.5" y="58.5" width="2.6" height="309" fill="url(#d70)"/><rect x="254.5" y="58.5" width="2.6" height="309" fill="url(#d71)"/><rect x="256.5" y="58.5" width="2.6" height="309" fill="url(#d72)"/><rect x="258.5" y="58.5" width="2.6" height="309" fill="url(#d73)"/><rect x="260.5" y="58.5" width="2.6" height="309" fill="url(#d74)"/><rect x="262.5" y="58.5" width="2.6" height="309" fill="url(#d75)"/><rect x="264.5" y="58.5" width="2.6" height="309" fill="url(#d76)"/><rect x="266.5" y="58.5" width="2.6" height="309" fill="url(#d77)"/><rect x="268.5" y="58.5" width="2.6" height="309" fill="url(#d78)"/><rect x="270.5" y="58.5" width="2.6" height="309" fill="url(#d79)"/><rect x="272.5" y="58.5" width="2.6" height="309" fill="url(#d80)"/><rect x="274.5" y="58.5" width="2.6" height="309" fill="url(#d81)"/><rect x="276.5" y="58.5" width="2.6" height="309" fill="url(#d82)"/><rect x="278.5" y="58.5" width="2.6" height="309" fill="url(#d83)"/><rect x="280.5" y="58.5" width="2.6" height="309" fill="url(#d84)"/><rect x="282.5" y="58.5" width="2.6" height="309" fill="url(#d85)"/><rect x="284.5" y="58.5" width="2.6" height="309" fill="url(#d86)"/><rect x="286.5" y="58.5" width="2.6" height="309" fill="url(#d87)"/><rect x="288.5" y="58.5" width="2.6" height="309" fill="url(#d88)"/><rect x="290.5" y="58.5" width="2.6" height="309" fill="url(#d89)"/><rect x="292.5" y="58.5" width="2.6" height="309" fill="url(#d90)"/><rect x="294.5" y="58.5" width="2.6" height="309" fill="url(#d91)"/><rect x="296.5" y="58.5" width="2.6" height="309" fill="url(#d92)"/><rect x="298.5" y="58.5" width="2.6" height="309" fill="url(#d93)"/><rect x="300.5" y="58.5" width="2.6" height="309" fill="url(#d94)"/><rect x="302.5" y="58.5" width="2.6" height="309" fill="url(#d95)"/><rect x="304.5" y="58.5" width="2.6" height="309" fill="url(#d96)"/><rect x="306.5" y="58.5" width="2.6" height="309" fill="url(#d97)"/><rect x="308.5" y="58.5" width="2.6" height="309" fill="url(#d98)"/><rect x="310.5" y="58.5" width="2.6" height="309" fill="url(#d99)"/><rect x="312.5" y="58.5" width="2.6" height="309" fill="url(#d100)"/><rect x="314.5" y="58.5" width="2.6" height="309" fill="url(#d101)"/><rect x="316.5" y="58.5" width="2.6" height="309" fill="url(#d102)"/><rect x="318.5" y="58.5" width="2.6" height="309" fill="url(#d103)"/><rect x="320.5" y="58.5" width="2.6" height="309" fill="url(#d104)"/><rect x="322.5" y="58.5" width="2.6" height="309" fill="url(#d105)"/><rect x="324.5" y="58.5" width="2.6" height="309" fill="url(#d106)"/><rect x="326.5" y="58.5" width="2.6" height="309" fill="url(#d107)"/><rect x="328.5" y="58.5" width="2.6" height="309" fill="url(#d108)"/><rect x="330.5" y="58.5" width="2.6" height="309" fill="url(#d109)"/><rect x="332.5" y="58.5" width="2.6" height="309" fill="url(#d110)"/><rect x="334.5" y="58.5" width="2.6" height="309" fill="url(#d111)"/><rect x="336.5" y="58.5" width="2.6" height="309" fill="url(#d112)"/><rect x="338.5" y="58.5" width="2.6" height="309" fill="url(#d113)"/><rect x="340.5" y="58.5" width="2.6" height="309" fill="url(#d114)"/><rect x="342.5" y="58.5" width="2.6" height="309" fill="url(#d115)"/><rect x="344.5" y="58.5" width="2.6" height="309" fill="url(#d116)"/><rect x="346.5" y="58.5" width="2.6" height="309" fill="url(#d117)"/><rect x="348.5" y="58.5" width="2.6" height="309" fill="url(#d118)"/><rect x="350.5" y="58.5" width="2.6" height="309" fill="url(#d119)"/><rect x="352.5" y="58.5" width="2.6" height="309" fill="url(#d120)"/><rect x="354.5" y="58.5" width="2.6" height="309" fill="url(#d121)"/><rect x="356.5" y="58.5" width="2.6" height="309" fill="url(#d122)"/><rect x="358.5" y="58.5" width="2.6" height="309" fill="url(#d123)"/><rect x="360.5" y="58.5" width="2.6" height="309" fill="url(#d124)"/><rect x="362.5" y="58.5" width="2.6" height="309" fill="url(#d125)"/><rect x="364.5" y="58.5" width="2.6" height="309" fill="url(#d126)"/><rect x="366.5" y="58.5" width="2.6" height="309" fill="url(#d127)"/><rect x="368.5" y="58.5" width="2.6" height="309" fill="url(#d128)"/><rect x="370.5" y="58.5" width="2.6" height="309" fill="url(#d129)"/><rect x="372.5" y="58.5" width="2.6" height="309" fill="url(#d130)"/><rect x="374.5" y="58.5" width="2.6" height="309" fill="url(#d131)"/><rect x="376.5" y="58.5" width="2.6" height="309" fill="url(#d132)"/><rect x="378.5" y="58.5" width="2.6" height="309" fill="url(#d133)"/><rect x="380.5" y="58.5" width="2.6" height="309" fill="url(#d134)"/><rect x="382.5" y="58.5" width="2.6" height="309" fill="url(#d135)"/><rect x="384.5" y="58.5" width="2.6" height="309" fill="url(#d136)"/><rect x="386.5" y="58.5" width="2.6" height="309" fill="url(#d137)"/><rect x="388.5" y="58.5" width="2.6" height="309" fill="url(#d138)"/><rect x="390.5" y="58.5" width="2.6" height="309" fill="url(#d139)"/><rect x="392.5" y="58.5" width="2.6" height="309" fill="url(#d140)"/><rect x="394.5" y="58.5" width="2.6" height="309" fill="url(#d141)"/><rect x="396.5" y="58.5" width="2.6" height="309" fill="url(#d142)"/><rect x="398.5" y="58.5" width="2.6" height="309" fill="url(#d143)"/><rect x="400.5" y="58.5" width="2.6" height="309" fill="url(#d144)"/><rect x="402.5" y="58.5" width="2.6" height="309" fill="url(#d145)"/><rect x="404.5" y="58.5" width="2.6" height="309" fill="url(#d146)"/><rect x="406.5" y="58.5" width="2.6" height="309" fill="url(#d147)"/><rect x="408.5" y="58.5" width="2.6" height="309" fill="url(#d148)"/><rect x="410.5" y="58.5" width="2.6" height="309" fill="url(#d149)"/><rect x="412.5" y="58.5" width="2.6" height="309" fill="url(#d150)"/><rect x="414.5" y="58.5" width="2.6" height="309" fill="url(#d151)"/><rect x="416.5" y="58.5" width="2.6" height="309" fill="url(#d152)"/><rect x="418.5" y="58.5" width="2.6" height="309" fill="url(#d153)"/><rect x="420.5" y="58.5" width="2.6" height="309" fill="url(#d154)"/><rect x="422.5" y="58.5" width="2.6" height="309" fill="url(#d155)"/><rect x="424.5" y="58.5" width="2.6" height="309" fill="url(#d156)"/><rect x="426.5" y="58.5" width="2.6" height="309" fill="url(#d157)"/><rect x="428.5" y="58.5" width="2.6" height="309" fill="url(#d158)"/><rect x="430.5" y="58.5" width="2.6" height="309" fill="url(#d159)"/><rect x="432.5" y="58.5" width="2.6" height="309" fill="url(#d160)"/><rect x="434.5" y="58.5" width="2.6" height="309" fill="url(#d161)"/><rect x="436.5" y="58.5" width="2.6" height="309" fill="url(#d162)"/><rect x="438.5" y="58.5" width="2.6" height="309" fill="url(#d163)"/><rect x="440.5" y="58.5" width="2.6" height="309" fill="url(#d164)"/><rect x="442.5" y="58.5" width="2.6" height="309" fill="url(#d165)"/><rect x="444.5" y="58.5" width="2.6" height="309" fill="url(#d166)"/><rect x="446.5" y="58.5" width="2.6" height="309" fill="url(#d167)"/><rect x="448.5" y="58.5" width="2.6" height="309" fill="url(#d168)"/><rect x="450.5" y="58.5" width="2.6" height="309" fill="url(#d169)"/><rect x="452.5" y="58.5" width="2.6" height="309" fill="url(#d170)"/><rect x="454.5" y="58.5" width="2.6" height="309" fill="url(#d171)"/><rect x="456.5" y="58.5" width="2.6" height="309" fill="url(#d172)"/><rect x="458.5" y="58.5" width="2.6" height="309" fill="url(#d173)"/><rect x="460.5" y="58.5" width="2.6" height="309" fill="url(#d174)"/><rect x="462.5" y="58.5" width="2.6" height="309" fill="url(#d175)"/><rect x="464.5" y="58.5" width="2.6" height="309" fill="url(#d176)"/><rect x="466.5" y="58.5" width="2.6" height="309" fill="url(#d177)"/><rect x="468.5" y="58.5" width="2.6" height="309" fill="url(#d178)"/><rect x="470.5" y="58.5" width="2.6" height="309" fill="url(#d179)"/><rect x="472.5" y="58.5" width="2.6" height="309" fill="url(#d180)"/><rect x="474.5" y="58.5" width="2.6" height="309" fill="url(#d181)"/><rect x="476.5" y="58.5" width="2.6" height="309" fill="url(#d182)"/><rect x="478.5" y="58.5" width="2.6" height="309" fill="url(#d183)"/><rect x="480.5" y="58.5" width="2.6" height="309" fill="url(#d184)"/><rect x="482.5" y="58.5" width="2.6" height="309" fill="url(#d185)"/><rect x="484.5" y="58.5" width="2.6" height="309" fill="url(#d186)"/><rect x="486.5" y="58.5" width="2.6" height="309" fill="url(#d187)"/><rect x="488.5" y="58.5" width="2.6" height="309" fill="url(#d188)"/><rect x="490.5" y="58.5" width="2.6" height="309" fill="url(#d189)"/><rect x="492.5" y="58.5" width="2.6" height="309" fill="url(#d190)"/></g></g>
<g clip-path="url(#ic)"><g filter="url(#by)"><rect x="769.5" y="46.5" width="370.5" height="4.6" fill="url(#i0)"/><rect x="769.5" y="50.5" width="370.5" height="4.6" fill="url(#i1)"/><rect x="769.5" y="54.5" width="370.5" height="4.6" fill="url(#i2)"/><rect x="769.5" y="58.5" width="370.5" height="4.6" fill="url(#i3)"/><rect x="769.5" y="62.5" width="370.5" height="4.6" fill="url(#i4)"/><rect x="769.5" y="66.5" width="370.5" height="4.6" fill="url(#i5)"/><rect x="769.5" y="70.5" width="370.5" height="4.6" fill="url(#i6)"/><rect x="769.5" y="74.5" width="370.5" height="4.6" fill="url(#i7)"/><rect x="769.5" y="78.5" width="370.5" height="4.6" fill="url(#i8)"/><rect x="769.5" y="82.5" width="370.5" height="4.6" fill="url(#i9)"/><rect x="769.5" y="86.5" width="370.5" height="4.6" fill="url(#i10)"/><rect x="769.5" y="90.5" width="370.5" height="4.6" fill="url(#i11)"/><rect x="769.5" y="94.5" width="370.5" height="4.6" fill="url(#i12)"/><rect x="769.5" y="98.5" width="370.5" height="4.6" fill="url(#i13)"/><rect x="769.5" y="102.5" width="370.5" height="4.6" fill="url(#i14)"/><rect x="769.5" y="106.5" width="370.5" height="4.6" fill="url(#i15)"/><rect x="769.5" y="110.5" width="370.5" height="4.6" fill="url(#i16)"/><rect x="769.5" y="114.5" width="370.5" height="4.6" fill="url(#i17)"/><rect x="769.5" y="118.5" width="370.5" height="4.6" fill="url(#i18)"/><rect x="769.5" y="122.5" width="370.5" height="4.6" fill="url(#i19)"/><rect x="769.5" y="126.5" width="370.5" height="4.6" fill="url(#i20)"/><rect x="769.5" y="130.5" width="370.5" height="4.6" fill="url(#i21)"/><rect x="769.5" y="134.5" width="370.5" height="4.6" fill="url(#i22)"/><rect x="769.5" y="138.5" width="370.5" height="4.6" fill="url(#i23)"/><rect x="769.5" y="142.5" width="370.5" height="4.6" fill="url(#i24)"/><rect x="769.5" y="146.5" width="370.5" height="4.6" fill="url(#i25)"/><rect x="769.5" y="150.5" width="370.5" height="4.6" fill="url(#i26)"/><rect x="769.5" y="154.5" width="370.5" height="4.6" fill="url(#i27)"/><rect x="769.5" y="158.5" width="370.5" height="4.6" fill="url(#i28)"/><rect x="769.5" y="162.5" width="370.5" height="4.6" fill="url(#i29)"/><rect x="769.5" y="166.5" width="370.5" height="4.6" fill="url(#i30)"/><rect x="769.5" y="170.5" width="370.5" height="4.6" fill="url(#i31)"/><rect x="769.5" y="174.5" width="370.5" height="4.6" fill="url(#i32)"/><rect x="769.5" y="178.5" width="370.5" height="4.6" fill="url(#i33)"/><rect x="769.5" y="182.5" width="370.5" height="4.6" fill="url(#i34)"/><rect x="769.5" y="186.5" width="370.5" height="4.6" fill="url(#i35)"/><rect x="769.5" y="190.5" width="370.5" height="4.6" fill="url(#i36)"/><rect x="769.5" y="194.5" width="370.5" height="4.6" fill="url(#i37)"/><rect x="769.5" y="198.5" width="370.5" height="4.6" fill="url(#i38)"/><rect x="769.5" y="202.5" width="370.5" height="4.6" fill="url(#i39)"/><rect x="769.5" y="206.5" width="370.5" height="4.6" fill="url(#i40)"/><rect x="769.5" y="210.5" width="370.5" height="4.6" fill="url(#i41)"/><rect x="769.5" y="214.5" width="370.5" height="4.6" fill="url(#i42)"/><rect x="769.5" y="218.5" width="370.5" height="4.6" fill="url(#i43)"/><rect x="769.5" y="222.5" width="370.5" height="4.6" fill="url(#i44)"/><rect x="769.5" y="226.5" width="370.5" height="4.6" fill="url(#i45)"/><rect x="769.5" y="230.5" width="370.5" height="4.6" fill="url(#i46)"/><rect x="769.5" y="234.5" width="370.5" height="4.6" fill="url(#i47)"/><rect x="769.5" y="238.5" width="370.5" height="4.6" fill="url(#i48)"/><rect x="769.5" y="242.5" width="370.5" height="4.6" fill="url(#i49)"/><rect x="769.5" y="246.5" width="370.5" height="4.6" fill="url(#i50)"/><rect x="769.5" y="250.5" width="370.5" height="4.6" fill="url(#i51)"/><rect x="769.5" y="254.5" width="370.5" height="4.6" fill="url(#i52)"/><rect x="769.5" y="258.5" width="370.5" height="4.6" fill="url(#i53)"/><rect x="769.5" y="262.5" width="370.5" height="4.6" fill="url(#i54)"/><rect x="769.5" y="266.5" width="370.5" height="4.6" fill="url(#i55)"/><rect x="769.5" y="270.5" width="370.5" height="4.6" fill="url(#i56)"/><rect x="769.5" y="274.5" width="370.5" height="4.6" fill="url(#i57)"/><rect x="769.5" y="278.5" width="370.5" height="4.6" fill="url(#i58)"/><rect x="769.5" y="282.5" width="370.5" height="4.6" fill="url(#i59)"/><rect x="769.5" y="286.5" width="370.5" height="4.6" fill="url(#i60)"/><rect x="769.5" y="290.5" width="370.5" height="4.6" fill="url(#i61)"/><rect x="769.5" y="294.5" width="370.5" height="4.6" fill="url(#i62)"/><rect x="769.5" y="298.5" width="370.5" height="4.6" fill="url(#i63)"/><rect x="769.5" y="302.5" width="370.5" height="4.6" fill="url(#i64)"/><rect x="769.5" y="306.5" width="370.5" height="4.6" fill="url(#i65)"/><rect x="769.5" y="310.5" width="370.5" height="4.6" fill="url(#i66)"/><rect x="769.5" y="314.5" width="370.5" height="4.6" fill="url(#i67)"/><rect x="769.5" y="318.5" width="370.5" height="4.6" fill="url(#i68)"/><rect x="769.5" y="322.5" width="370.5" height="4.6" fill="url(#i69)"/><rect x="769.5" y="326.5" width="370.5" height="4.6" fill="url(#i70)"/><rect x="769.5" y="330.5" width="370.5" height="4.6" fill="url(#i71)"/><rect x="769.5" y="334.5" width="370.5" height="4.6" fill="url(#i72)"/><rect x="769.5" y="338.5" width="370.5" height="4.6" fill="url(#i73)"/><rect x="769.5" y="342.5" width="370.5" height="4.6" fill="url(#i74)"/><rect x="769.5" y="346.5" width="370.5" height="4.6" fill="url(#i75)"/><rect x="769.5" y="350.5" width="370.5" height="4.6" fill="url(#i76)"/><rect x="769.5" y="354.5" width="370.5" height="4.6" fill="url(#i77)"/><rect x="769.5" y="358.5" width="370.5" height="4.6" fill="url(#i78)"/><rect x="769.5" y="362.5" width="370.5" height="4.6" fill="url(#i79)"/><rect x="769.5" y="366.5" width="370.5" height="4.6" fill="url(#i80)"/><rect x="769.5" y="370.5" width="370.5" height="4.6" fill="url(#i81)"/><rect x="769.5" y="374.5" width="370.5" height="4.6" fill="url(#i82)"/><rect x="769.5" y="378.5" width="370.5" height="4.6" fill="url(#i83)"/></g></g>
<rect x="118.5" y="58.5" width="370" height="309" fill="none" stroke="#3e3a39" stroke-width="2"/><path d="M130.3 367.5v-6.5M130.3 58.5v6.5M188 367.5v-6.5M188 58.5v6.5M245.7 367.5v-6.5M245.7 58.5v6.5M303.4 367.5v-6.5M303.4 58.5v6.5M361.1 367.5v-6.5M361.1 58.5v6.5M418.8 367.5v-6.5M418.8 58.5v6.5M476.5 367.5v-6.5M476.5 58.5v6.5M118.5 290.25h6.5M488.5 290.25h-6.5M118.5 213h6.5M488.5 213h-6.5M118.5 135.75h6.5M488.5 135.75h-6.5" stroke="#3e3a39" stroke-width="1" fill="none"/>
<rect x="769.5" y="58.5" width="370.5" height="309" fill="none" stroke="#3e3a39" stroke-width="2"/><path d="M800.19 367.5v-6.5M800.19 58.5v6.5M877.37 367.5v-6.5M877.37 58.5v6.5M954.55 367.5v-6.5M954.55 58.5v6.5M1031.73 367.5v-6.5M1031.73 58.5v6.5M1108.91 367.5v-6.5M1108.91 58.5v6.5M769.5 290.25h6.5M1140 290.25h-6.5M769.5 213h6.5M1140 213h-6.5M769.5 135.75h6.5M1140 135.75h-6.5" stroke="#3e3a39" stroke-width="1" fill="none"/>
<rect x="512" y="58.5" width="16" height="309" fill="url(#cb)" stroke="#3e3a39" stroke-width="2"/><text class="tkc" transform="translate(538.2 376.9) scale(.945 1)">0.00</text><text class="tkc" transform="translate(538.2 335.78) scale(.945 1)">0.04</text><text class="tkc" transform="translate(538.2 294.66) scale(.945 1)">0.08</text><text class="tkc" transform="translate(538.2 253.54) scale(.945 1)">0.12</text><text class="tkc" transform="translate(538.2 212.42) scale(.945 1)">0.16</text><text class="tkc" transform="translate(538.2 171.3) scale(.945 1)">0.20</text><text class="tkc" transform="translate(538.2 130.18) scale(.945 1)">0.24</text><text class="tkc" transform="translate(538.2 89.06) scale(.945 1)">0.28</text><path d="M528 325.54h-6M528 284.78h-6M528 244.02h-6M528 203.26h-6M528 162.5h-6M528 121.74h-6M528 80.98h-6" stroke="#3e3a39" stroke-width="1" fill="none"/>
<rect x="1163" y="58.5" width="16" height="309" fill="url(#cb)" stroke="#3e3a39" stroke-width="2"/><text class="tkc" transform="translate(1189.2 376.9) scale(.945 1)">0.00</text><text class="tkc" transform="translate(1189.2 335.78) scale(.945 1)">0.04</text><text class="tkc" transform="translate(1189.2 294.66) scale(.945 1)">0.08</text><text class="tkc" transform="translate(1189.2 253.54) scale(.945 1)">0.12</text><text class="tkc" transform="translate(1189.2 212.42) scale(.945 1)">0.16</text><text class="tkc" transform="translate(1189.2 171.3) scale(.945 1)">0.20</text><text class="tkc" transform="translate(1189.2 130.18) scale(.945 1)">0.24</text><text class="tkc" transform="translate(1189.2 89.06) scale(.945 1)">0.28</text><path d="M1179 325.54h-6M1179 284.78h-6M1179 244.02h-6M1179 203.26h-6M1179 162.5h-6M1179 121.74h-6M1179 80.98h-6" stroke="#3e3a39" stroke-width="1" fill="none"/>
<text class="tk" text-anchor="end" x="108.5" y="68">100</text><text class="tk" text-anchor="end" x="108.5" y="145.25">50</text><text class="tk" text-anchor="end" x="108.5" y="222.5">0</text><text class="tk" text-anchor="end" x="108.5" y="299.75">−50</text><text class="tk" text-anchor="end" x="108.5" y="377">−100</text>
<text class="tk" text-anchor="end" x="759.5" y="68">100</text><text class="tk" text-anchor="end" x="759.5" y="145.25">50</text><text class="tk" text-anchor="end" x="759.5" y="222.5">0</text><text class="tk" text-anchor="end" x="759.5" y="299.75">−50</text><text class="tk" text-anchor="end" x="759.5" y="377">−100</text>
<text class="tkx" text-anchor="middle" x="128.8" y="399.3">−15</text><text class="tkx" text-anchor="middle" x="186.5" y="399.3">−10</text><text class="tkx" text-anchor="middle" x="244.2" y="399.3">−5</text><text class="tkx" text-anchor="middle" x="303" y="399.3">0</text><text class="tkx" text-anchor="middle" x="360.7" y="399.3">5</text><text class="tkx" text-anchor="middle" x="418.4" y="399.3">10</text><text class="tkx" text-anchor="middle" x="476.1" y="399.3">15</text>
<text class="tkx" text-anchor="middle" x="798.69" y="399.3">−40</text><text class="tkx" text-anchor="middle" x="875.87" y="399.3">−20</text><text class="tkx" text-anchor="middle" x="954.15" y="399.3">0</text><text class="tkx" text-anchor="middle" x="1031.33" y="399.3">20</text><text class="tkx" text-anchor="middle" x="1108.51" y="399.3">40</text>
<text class="xl" text-anchor="middle" x="303.4" y="431.2">x (nm)</text>
<text class="xl" text-anchor="middle" x="954.5" y="431.2">x (nm)</text>
<text class="ar" text-anchor="middle" transform="translate(27.5 213.4) rotate(-90)">Defocus (nm)</text>
<text class="ar" text-anchor="middle" transform="translate(676.7 213.4) rotate(-90)">Defocus (nm)</text>
<text class="ar" text-anchor="middle" x="304.6" y="41.3" style="fill:#3b3594">Dense</text>
<text class="ar" text-anchor="middle" x="956.8" y="41.3" style="fill:#e60012">Iso</text>
<path d="M1267.4 196.3H1333V180.2L1365.6 212.8L1333 245.4V229.6H1267.4Z" fill="#d9d7ee" stroke="#150f0f" stroke-width="3"/>
<rect x="1479.8" y="5.6" width="489.8" height="358.3" fill="none" stroke="#7d7d7d" stroke-width="1.6"/><path d="M1528.78 363.9v-4M1528.78 5.6v4M1626.74 363.9v-4M1626.74 5.6v4M1724.7 363.9v-4M1724.7 5.6v4M1822.66 363.9v-4M1822.66 5.6v4M1920.62 363.9v-4M1920.62 5.6v4M1479.8 298.66h4M1969.6 298.66h-4M1479.8 233.42h4M1969.6 233.42h-4M1479.8 168.18h4M1969.6 168.18h-4M1479.8 102.94h4M1969.6 102.94h-4M1479.8 37.7h4M1969.6 37.7h-4" stroke="#7d7d7d" stroke-width="1" fill="none"/>
<clipPath id="rc"><rect x="1479.8" y="3.6" width="489.8" height="362.3"/></clipPath>
<polyline clip-path="url(#rc)" points="1479.8,62.39 1489.6,60.05 1499.39,57.84 1509.19,55.76 1518.98,53.8 1528.78,51.97 1538.58,50.26 1548.37,48.68 1558.17,47.23 1567.96,45.9 1577.76,44.69 1587.56,43.61 1597.35,42.66 1607.15,41.84 1616.94,41.14 1626.74,40.56 1636.54,40.12 1646.33,39.79 1656.13,39.6 1665.92,39.53 1675.72,39.58 1685.52,39.76 1695.31,40.07 1705.11,40.5 1714.9,41.06 1724.7,41.74 1734.5,42.56 1744.29,43.49 1754.09,44.55 1763.88,45.74 1773.68,47.06 1783.48,48.5 1793.27,50.06 1803.07,51.75 1812.86,53.57 1822.66,55.51 1832.46,57.58 1842.25,59.78 1852.05,62.1 1861.84,64.54 1871.64,67.12 1881.44,69.81 1891.23,72.64 1901.03,75.59 1910.82,78.66 1920.62,81.87 1930.42,85.19 1940.21,88.65 1950.01,92.23 1959.8,95.93 1969.6,99.76" fill="none" stroke="#2e3192" stroke-width="3"/>
<polyline clip-path="url(#rc)" points="1479.8,363.9 1541.51,363.9 1546,341.21 1550.49,321.18 1554.98,303.47 1559.47,287.69 1563.95,273.44 1568.44,260.33 1572.93,247.99 1577.42,236.25 1581.9,225.02 1586.39,214.2 1590.88,203.71 1595.37,193.45 1599.85,183.35 1604.34,173.31 1608.83,163.39 1613.32,153.69 1617.8,144.34 1622.29,135.46 1626.78,127.15 1631.27,119.54 1635.76,112.64 1640.24,106.36 1644.73,100.62 1649.22,95.33 1653.71,90.41 1658.19,85.76 1662.68,81.31 1667.17,76.97 1671.66,72.71 1676.14,68.56 1680.63,64.54 1685.12,60.67 1689.61,56.97 1694.1,53.46 1698.58,50.17 1703.07,47.11 1707.56,44.31 1712.05,41.79 1716.53,39.56 1721.02,37.66 1725.51,36.11 1730,34.91 1734.48,34.06 1738.97,33.55 1743.46,33.33 1747.95,33.39 1752.43,33.7 1756.92,34.25 1761.41,35.04 1765.9,36.07 1770.39,37.35 1774.87,38.88 1779.36,40.66 1783.85,42.69 1788.34,44.99 1792.82,47.56 1797.31,50.39 1801.8,53.5 1806.29,56.88 1810.77,60.54 1815.26,64.48 1819.75,68.71 1824.24,73.24 1828.72,78.05 1833.21,83.16 1837.7,88.56 1842.19,94.24 1846.68,100.22 1851.16,106.48 1855.65,113.02 1860.14,119.86 1864.63,126.97 1869.11,134.37 1873.6,142.04 1878.09,150 1882.58,158.23 1887.06,166.75 1891.55,175.53 1896.04,184.6 1900.53,194.07 1905.01,204.41 1909.5,216.1 1913.99,229.53 1918.48,244.55 1922.97,260.86 1927.45,278.29 1931.94,297.04 1936.43,317.38 1940.92,339.54 1945.4,363.9 1969.6,363.9" fill="none" stroke="#e60012" stroke-width="3" stroke-linejoin="round"/>
<text class="lg" x="1700.5" y="298.3">Dense</text>
<path d="M1664.9 39.3V356.5" stroke="#3b3594" stroke-width="5" stroke-dasharray="24 18.1" fill="none"/>
<path d="M1740.3 33.8V349.7" stroke="#e60012" stroke-width="5" stroke-dasharray="24 17.6" fill="none"/>
<rect x="1630.3" y="262.3" width="187" height="87.7" rx="2" fill="none" stroke="#5f5f5f" stroke-width="1.6"/>
<path d="M1648.9 285.8H1692.8" stroke="#2e3192" stroke-width="2.6"/>
<path d="M1648.9 328.4H1692.8" stroke="#e60012" stroke-width="2.6"/>
<text class="lg" x="1700.5" y="339.4">Iso</text>
<text class="tk2" text-anchor="end" x="1472.5" y="373.4">0.0</text>
<text class="tk2" text-anchor="end" x="1472.5" y="308.16">0.2</text>
<text class="tk2" text-anchor="end" x="1472.5" y="242.92">0.4</text>
<text class="tk2" text-anchor="end" x="1472.5" y="177.68">0.6</text>
<text class="tk2" text-anchor="end" x="1472.5" y="112.44">0.8</text>
<text class="tk2" text-anchor="end" x="1472.5" y="47.2">1.0</text>
<text class="tk2" text-anchor="middle" x="1526.98" y="393.3">−40</text><text class="tk2" text-anchor="middle" x="1624.94" y="393.3">−20</text><text class="tk2" text-anchor="middle" x="1724" y="393.3">0</text><text class="tk2" text-anchor="middle" x="1821.96" y="393.3">20</text><text class="tk2" text-anchor="middle" x="1919.92" y="393.3">40</text>
<text class="ar" text-anchor="middle" x="1725" y="437.3">Focus (nm)</text>
<text class="ar" text-anchor="middle" transform="translate(1412.8 187.3) rotate(-90)">Contrast</text>
</svg>
</body></html>
